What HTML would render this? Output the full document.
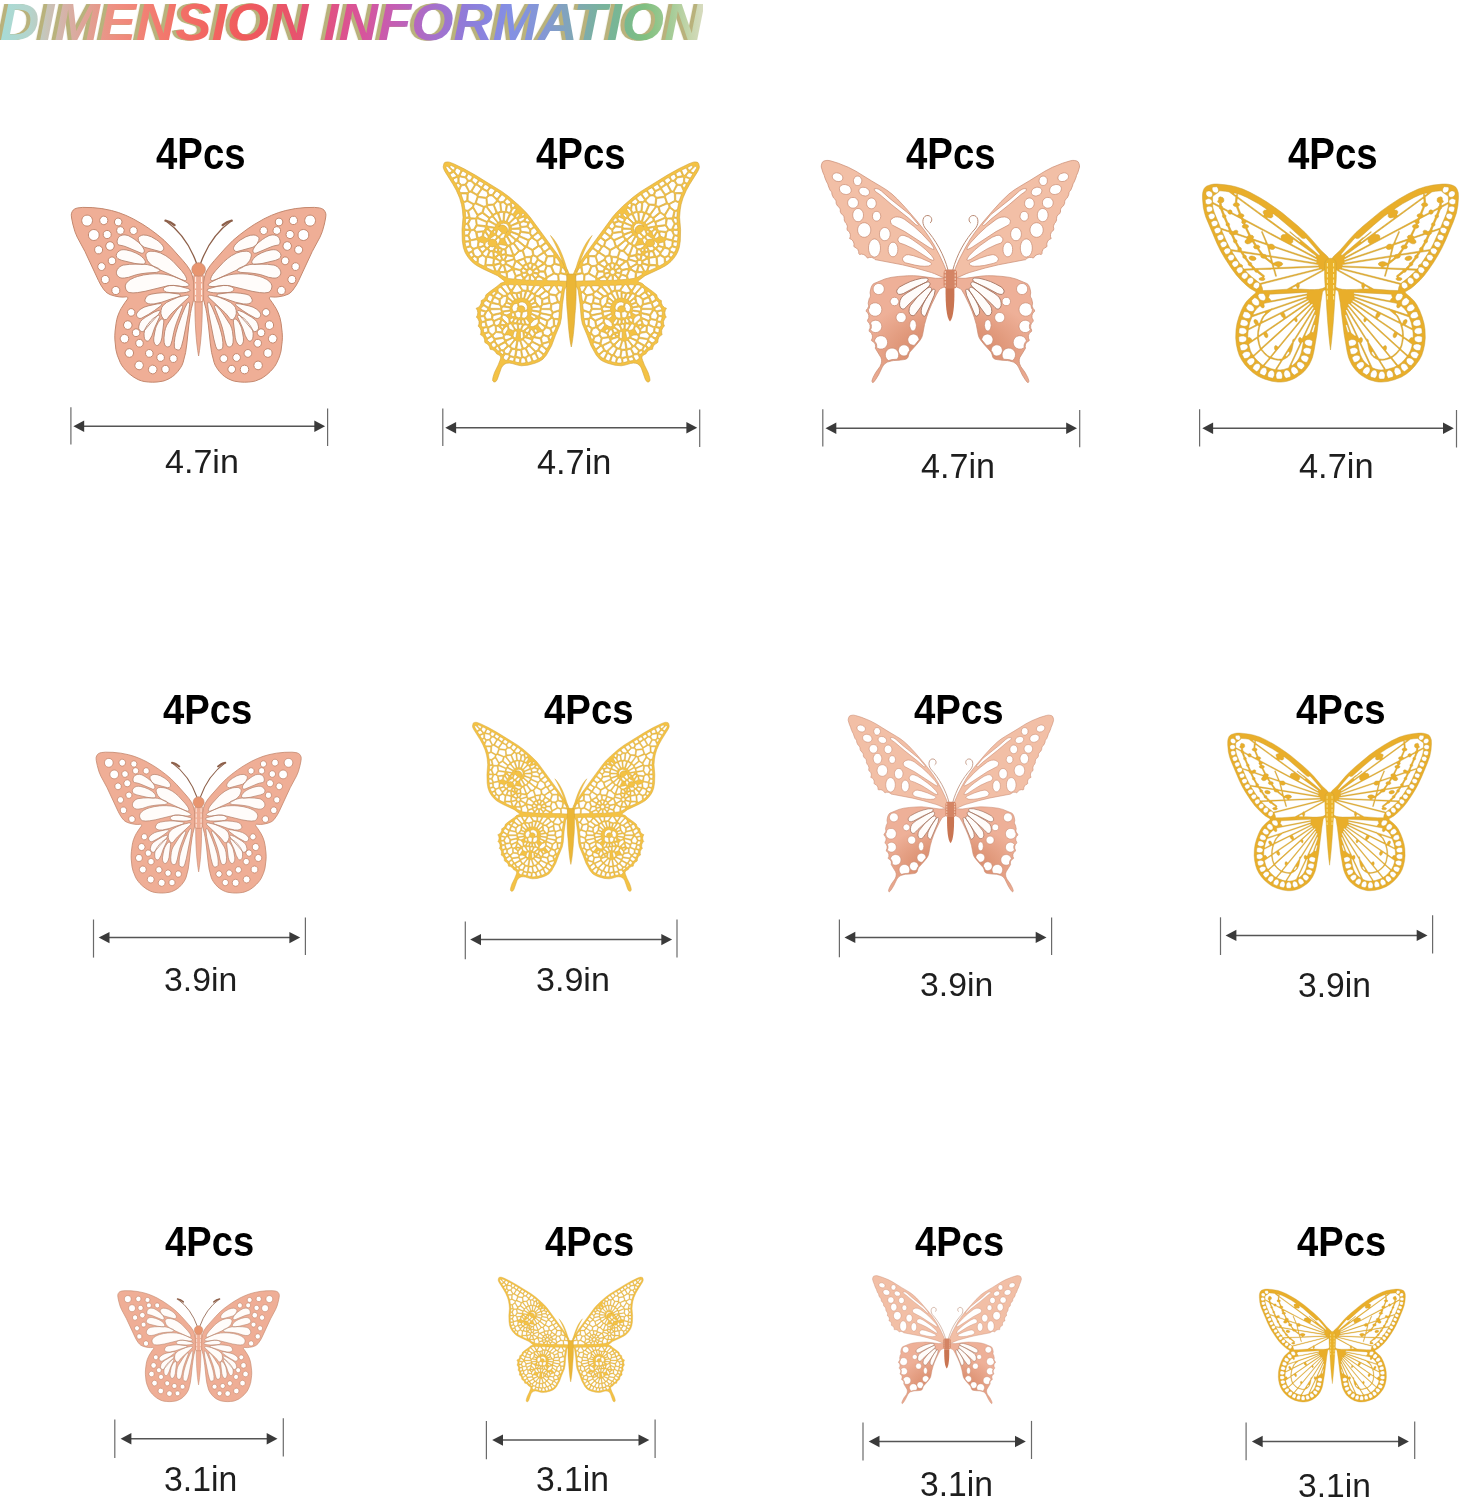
<!DOCTYPE html>
<html><head><meta charset="utf-8"><title>Dimension Information</title>
<style>
html,body{margin:0;padding:0;background:#fff;}
body{width:1462px;height:1500px;position:relative;overflow:hidden;}
.t{position:absolute;line-height:1;white-space:nowrap;transform-origin:0 0;font-family:"Liberation Sans",Arial,sans-serif;color:#000;}
.lab{color:#1e1e1e;}
svg{position:absolute;left:0;top:0;}
.tk{stroke:#6a6a6a;stroke-width:1.2;}
.ar{stroke:#555;stroke-width:1.5;}
.ah{fill:#3a3a3a;}
</style></head><body>

<div class="t" style="background:linear-gradient(90deg,#a6dcd6 0.0px,#b4d4cc 28.9px,#c8c4b8 45.2px,#d6b2a8 62.6px,#e49c8e 91.4px,#f08c7e 115.5px,#f27a6e 154.0px,#f26862 192.5px,#f05a5c 235.8px,#e8546a 279.1px,#e05284 317.6px,#d8549a 346.5px,#c45eb4 380.2px,#a470cc 418.7px,#8c7edc 454.3px,#8490e4 490.9px,#8498d4 524.5px,#80a8b4 553.4px,#78b29e 577.5px,#78b890 601.5px,#80c080 620.8px,#a6cc98 646.8px,#c6d6ac 664.1px,#dadcc2 678.5px);background-size:700px 100%;-webkit-background-clip:text;background-clip:text;color:transparent;-webkit-text-fill-color:transparent;filter:drop-shadow(-1.5px 0 0 #b9b27c) drop-shadow(-1.5px 0 0 #b9b27c);left:0.11px;top:-3.80px;font-weight:bold;font-style:italic;font-size:52.39px;transform:scaleX(1.0391);">DIMENSION INFORMATION</div>
<svg width="1462" height="1500" viewBox="0 0 1462 1500">
<line x1="70.9" y1="407.3" x2="70.9" y2="444.4" class="tk"/><line x1="327.6" y1="408.6" x2="327.6" y2="446.0" class="tk"/><line x1="83.2" y1="426.2" x2="315.3" y2="426.2" class="ar"/><path d="M73.4,426.2L84.2,420.5L84.2,431.9Z" class="ah"/><path d="M325.1,426.2L314.3,420.5L314.3,431.9Z" class="ah"/>
<line x1="442.8" y1="408.6" x2="442.8" y2="446.0" class="tk"/><line x1="699.7" y1="409.6" x2="699.7" y2="447.0" class="tk"/><line x1="455.1" y1="427.8" x2="687.4" y2="427.8" class="ar"/><path d="M445.3,427.8L456.1,422.1L456.1,433.5Z" class="ah"/><path d="M697.2,427.8L686.4,422.1L686.4,433.5Z" class="ah"/>
<line x1="822.8" y1="409.2" x2="822.8" y2="446.5" class="tk"/><line x1="1079.7" y1="410.0" x2="1079.7" y2="447.3" class="tk"/><line x1="835.3" y1="428.3" x2="1067.2" y2="428.3" class="ar"/><path d="M825.5,428.3L836.3,422.6L836.3,434.0Z" class="ah"/><path d="M1077.0,428.3L1066.2,422.6L1066.2,434.0Z" class="ah"/>
<line x1="1199.6" y1="409.2" x2="1199.6" y2="446.5" class="tk"/><line x1="1456.5" y1="410.0" x2="1456.5" y2="447.5" class="tk"/><line x1="1212.1" y1="428.3" x2="1444.0" y2="428.3" class="ar"/><path d="M1202.3,428.3L1213.1,422.6L1213.1,434.0Z" class="ah"/><path d="M1453.8,428.3L1443.0,422.6L1443.0,434.0Z" class="ah"/>
<line x1="93.5" y1="919.5" x2="93.5" y2="957.6" class="tk"/><line x1="305.4" y1="917.4" x2="305.4" y2="955.1" class="tk"/><line x1="108.5" y1="937.6" x2="290.4" y2="937.6" class="ar"/><path d="M98.7,937.6L109.5,931.9L109.5,943.3Z" class="ah"/><path d="M300.2,937.6L289.4,931.9L289.4,943.3Z" class="ah"/>
<line x1="465.3" y1="921.5" x2="465.3" y2="959.3" class="tk"/><line x1="677.0" y1="919.5" x2="677.0" y2="957.6" class="tk"/><line x1="480.0" y1="939.6" x2="662.3" y2="939.6" class="ar"/><path d="M470.2,939.6L481.0,933.9L481.0,945.3Z" class="ah"/><path d="M672.1,939.6L661.3,933.9L661.3,945.3Z" class="ah"/>
<line x1="839.4" y1="919.5" x2="839.4" y2="957.3" class="tk"/><line x1="1051.6" y1="917.4" x2="1051.6" y2="955.1" class="tk"/><line x1="854.3" y1="937.4" x2="1036.7" y2="937.4" class="ar"/><path d="M844.5,937.4L855.3,931.7L855.3,943.1Z" class="ah"/><path d="M1046.5,937.4L1035.7,931.7L1035.7,943.1Z" class="ah"/>
<line x1="1220.5" y1="917.3" x2="1220.5" y2="955.0" class="tk"/><line x1="1432.6" y1="915.2" x2="1432.6" y2="953.4" class="tk"/><line x1="1235.4" y1="935.4" x2="1417.7" y2="935.4" class="ar"/><path d="M1225.6,935.4L1236.4,929.7L1236.4,941.1Z" class="ah"/><path d="M1427.5,935.4L1416.7,929.7L1416.7,941.1Z" class="ah"/>
<line x1="114.8" y1="1419.6" x2="114.8" y2="1457.9" class="tk"/><line x1="283.3" y1="1418.2" x2="283.3" y2="1456.5" class="tk"/><line x1="130.4" y1="1438.7" x2="267.7" y2="1438.7" class="ar"/><path d="M120.6,1438.7L131.4,1433.0L131.4,1444.4Z" class="ah"/><path d="M277.5,1438.7L266.7,1433.0L266.7,1444.4Z" class="ah"/>
<line x1="486.4" y1="1420.9" x2="486.4" y2="1459.2" class="tk"/><line x1="655.1" y1="1419.6" x2="655.1" y2="1457.9" class="tk"/><line x1="502.0" y1="1440.1" x2="639.5" y2="1440.1" class="ar"/><path d="M492.2,1440.1L503.0,1434.4L503.0,1445.8Z" class="ah"/><path d="M649.3,1440.1L638.5,1434.4L638.5,1445.8Z" class="ah"/>
<line x1="863.0" y1="1422.6" x2="863.0" y2="1460.6" class="tk"/><line x1="1031.5" y1="1420.9" x2="1031.5" y2="1459.0" class="tk"/><line x1="878.5" y1="1441.5" x2="1016.0" y2="1441.5" class="ar"/><path d="M868.7,1441.5L879.5,1435.8L879.5,1447.2Z" class="ah"/><path d="M1025.8,1441.5L1015.0,1435.8L1015.0,1447.2Z" class="ah"/>
<line x1="1246.1" y1="1422.6" x2="1246.1" y2="1460.3" class="tk"/><line x1="1414.7" y1="1421.6" x2="1414.7" y2="1459.0" class="tk"/><line x1="1261.7" y1="1441.5" x2="1399.1" y2="1441.5" class="ar"/><path d="M1251.9,1441.5L1262.7,1435.8L1262.7,1447.2Z" class="ah"/><path d="M1408.9,1441.5L1398.1,1435.8L1398.1,1447.2Z" class="ah"/>
<g transform="translate(198.60,207.40) scale(1.0000)"><path transform="scale(0.1)" d="M-723 894l8 1 5 5 2 7-1 8-27 36-38 59-15 29-19 46-10 35-7 38-10 78-3 48 1 41 10 97 14 56 29 72 15 28 19 26 21 25 35 34 36 28 24 15 36 19 26 9 27 7 43 5 43 2 43-2 57-8 26-8 38-17 35-22 22-18 31-33 26-36 15-26 11-28 25-98 12-86 20-189 16-116 10-52 20-76 21-91-1-10-5-9-8-7-4-6 2-37-2-25-10-52-17-50-12-22-31-46-38-46-113-127-75-76-66-55-72-54-73-49-97-56-74-35-73-28-72-21-95-19-97-10-94-2-49 5-19 5-15 7-13 10-11 17-7 20-1 14 3 28 12 60 21 76 23 55 78 145 135 290 23 44 26 40 21 25 17 15 29 16 45 14 47 9 38 2zM-927 93l15 16 5 21-5 21-7 9-18 11-11 2-11-2-18-11-7-9-5-21 1-11 11-19 18-11 11-2zM-1088 84l11 9 9 11 5 14 2 14-2 14-5 14-9 11-11 9-13 5-14 2-14-2-13-5-11-9-9-11-5-14-2-14 2-14 5-14 9-11 11-9 13-5 14-2 14 2zM-785 112l8 6 10 18 1 10-5 20-14 14-9 4-10 1-19-5-8-6-10-18-1-10 5-20 14-14 9-4 10-1zM-755 203l10 18 1 10-5 20-6 8-8 6-19 5-19-5-8-6-6-8-5-20 5-20 6-8 8-6 19-5 19 5zM-904 231l19 11 10 18 0 22-4 10-6 8-19 11-20 0-10-4-9-7-10-18 0-22 4-10 6-8 19-11zM-1021 228l11 9 9 11 5 14 2 14-2 14-5 14-9 11-11 9-13 5-14 2-14-2-13-5-11-9-9-11-5-14-2-14 2-14 5-14 9-11 11-9 13-5 14-2 14 2zM-856 355l11 20 2 11-2 11-11 20-9 7-21 6-21-6-9-7-11-20-2-11 2-11 11-20 9-7 21-6 21 6zM-990 384l19 11 10 18 0 22-4 10-6 8-19 11-20 0-10-4-9-7-10-18 0-22 4-10 6-8 19-11zM-856 496l17 10 10 18 0 20-4 10-6 8-17 10-20 0-9-4-8-6-10-18 0-20 4-10 6-8 17-10zM-943 564l10 18 1 10-1 10-10 18-17 10-10 1-10-1-17-10-10-18-1-10 1-10 10-18 17-10 10-1 10 1zM-923 681l19 11 10 18 0 22-4 10-15 15-10 4-20 0-10-4-9-7-10-18 0-22 4-10 15-15 10-4zM-818 791l19 11 10 18 0 22-4 10-15 15-10 4-20 0-10-4-9-7-10-18 0-22 4-10 15-15 10-4zM-720 1275l16 16 6 22-6 22-7 9-9 7-21 6-21-6-9-7-11-20-2-11 2-11 11-20 9-7 21-6zM-632 198l8 6 10 18 0 20-4 10-14 14-9 4-10 1-19-5-8-6-10-18 0-20 4-10 14-14 9-4 10-1zM-664 1013l16 10 10 17 0 20-4 9-6 8-16 10-20 0-8-4-8-6-10-17 0-20 4-9 6-8 16-10zM-678 1146l11 20 2 11-2 11-11 20-9 7-21 6-21-6-9-7-11-20-2-11 2-11 11-20 9-7 21-6 21 6zM-615 1215l17 10 10 18 0 20-4 10-6 8-17 10-20 0-9-4-8-6-10-18 0-20 4-10 6-8 17-10zM-581 1320l17 10 10 18 0 20-4 10-6 8-17 10-20 0-9-4-8-6-10-18 0-20 4-10 6-8 17-10zM-672 1418l16 16 6 22-6 22-7 9-9 7-21 6-21-6-9-7-11-20-2-11 2-11 11-20 9-7 21-6zM-483 1422l17 10 10 18 0 20-4 10-6 8-17 10-20 0-9-4-8-6-10-18 0-20 4-10 6-8 17-10zM-370 1463l17 10 10 18 0 20-4 10-6 8-17 10-20 0-9-4-8-6-10-18 0-20 4-10 6-8 17-10zM-242 1474l17 10 10 18 0 20-4 10-6 8-17 10-20 0-9-4-8-6-10-18 0-20 4-10 6-8 17-10zM-574 1542l16 16 4 11 2 11-6 22-16 16-10 4-11 2-21-6-16-16-4-11-2-11 6-22 16-16 10-4 11-2zM-321 1580l17 10 10 18 0 20-4 10-6 8-17 10-20 0-9-4-8-6-10-18 0-20 4-10 6-8 17-10zM-438 1583l16 16 4 11 2 11-6 22-16 16-10 4-11 2-21-6-16-16-4-11-2-11 6-22 16-16 10-4 11-2zM718 894l50 3 36-4 47-9 44-16 19-12 24-22 40-58 23-44 135-290 78-145 23-55 21-76 12-60 3-28-1-14-7-20-11-17-13-10-15-7-19-5-49-5-94 2-97 10-95 19-72 21-73 28-74 35-97 56-73 49-72 54-66 55-75 76-113 127-38 46-31 46-12 22-17 50-10 52-2 25 2 37-4 6-8 7-5 9-1 10 21 91 20 76 10 52 16 116 20 189 12 86 25 98 11 28 15 26 26 36 31 33 22 18 35 22 38 17 26 8 57 8 43 2 43-2 43-5 27-7 51-21 24-14 35-26 36-33 22-24 20-25 17-27 26-57 14-43 7-28 12-97 2-41-2-45-11-95-12-56-17-48-22-44-38-59-27-36-1-9 3-7zM937 89l22 0 10 4 8 7 11 19 0 22-4 10-7 9-18 11-22 0-10-4-15-16-4-10-1-11 5-21 15-16zM1115 77l14 2 13 5 11 9 9 11 5 14 2 14-2 14-5 14-9 11-11 9-13 5-14 2-14-2-13-5-11-9-9-11-5-14-2-14 2-14 5-14 9-11 11-9 13-5zM804 107l19 5 8 6 10 18 1 10-1 10-10 18-8 6-19 5-10-1-17-10-6-8-5-20 5-20 6-8 17-10zM763 197l19-5 19 5 8 6 10 18 0 20-4 10-6 8-17 10-10 1-19-5-14-14-4-10-1-10 5-20zM904 231l20 0 19 11 10 18 1 11-1 11-10 18-19 11-10 1-10-1-19-11-6-8-5-21 5-21 6-8zM1048 221l14 2 13 5 11 9 9 11 5 14 2 14-2 14-5 14-9 11-11 9-13 5-14 2-14-2-13-5-11-9-9-11-5-14-2-14 2-14 5-14 9-11 11-9 13-5zM875 344l11-2 21 6 9 7 11 20 2 11-6 22-7 9-19 11-11 2-21-6-9-7-11-20-2-11 6-22 7-9zM990 384l20 0 19 11 10 18 1 11-1 11-10 18-19 11-10 1-10-1-19-11-6-8-5-21 5-21 6-8zM856 496l20 0 17 10 6 8 5 20-5 20-6 8-17 10-10 1-10-1-17-10-6-8-5-20 5-20 6-8zM960 554l20 0 9 4 14 14 4 10 1 10-5 20-14 14-9 4-20 0-9-4-8-6-10-18 0-20 4-10 6-8zM933 680l10 1 19 11 6 8 5 21-5 21-6 8-9 7-20 5-20-5-9-7-10-18-1-11 1-11 10-18 9-7zM828 790l10 1 19 11 6 8 5 21-5 21-6 8-9 7-20 5-20-5-9-7-10-18-1-11 1-11 10-18 9-7zM730 1271l11-2 21 6 9 7 11 20 2 11-6 22-7 9-19 11-11 2-21-6-16-16-4-11-2-11 6-22 7-9zM641 194l20 0 17 10 6 8 5 20-5 20-6 8-17 10-10 1-10-1-17-10-6-8-5-20 5-20 6-8zM664 1013l20 0 16 10 10 17 1 10-1 10-10 17-16 10-10 1-10-1-16-10-10-17-1-10 1-10 10-17zM687 1139l21-6 21 6 9 7 11 20 0 22-4 11-16 16-10 4-11 2-21-6-16-16-4-11 0-22 4-11zM615 1215l20 0 17 10 6 8 5 20-5 20-6 8-17 10-10 1-10-1-17-10-10-18-1-10 1-10 10-18zM581 1320l20 0 17 10 6 8 5 20-5 20-6 8-17 10-10 1-10-1-17-10-10-18-1-10 1-10 10-18zM672 1418l21-6 21 6 16 16 4 11 0 22-4 11-16 16-10 4-11 2-21-6-16-16-4-11 0-22 4-11zM483 1422l20 0 17 10 10 18 1 10-1 10-10 18-17 10-10 1-10-1-17-10-10-18-1-10 1-10 10-18zM370 1463l20 0 17 10 10 18 1 10-1 10-10 18-17 10-10 1-10-1-17-10-10-18-1-10 1-10 10-18zM242 1474l20 0 17 10 10 18 1 10-1 10-10 18-17 10-10 1-10-1-17-10-10-18-1-10 1-10 10-18zM595 1536l21 6 9 7 7 9 6 22-6 22-7 9-9 7-21 6-21-6-9-7-7-9-6-22 6-22 7-9 9-7zM321 1580l20 0 17 10 10 18 1 10-1 10-10 18-17 10-10 1-10-1-17-10-10-18-1-10 1-10 10-18zM459 1577l21 6 9 7 7 9 6 22-6 22-7 9-9 7-21 6-21-6-9-7-7-9-6-22 6-22 7-9 9-7z" fill="#efae96" stroke="#c4886e" stroke-width="10" fill-rule="evenodd"/><path transform="scale(0.1)" d="M-813 328l-2 15 2 15 7 13 9 5 44 9 32 11 147 62 16 0 9-5 5-7 1-13-4-15-14-24-18-23-23-22-36-28-29-19-38-21-31-6-21 1-20 6-15 8-7 8-9 14zM813 328l2 15-2 15-7 13-9 5-44 9-32 11-147 62-16 0-9-5-5-7-1-13 4-15 14-24 18-23 23-22 36-28 29-19 38-21 31-6 21 1 20 6 15 8 7 8 9 14zM-604 309l2 20 18 35 18 19 22 15 161 44 17-4 13-13 4-14-1-10-8-17-14-19-26-24-21-16-54-31-43-15-37-3-16 3-21 10-11 12zM604 309l-2 20-18 35-18 19-22 15-161 44-17-4-13-13-4-14 1-10 8-17 14-19 26-24 21-16 54-31 43-15 37-3 16 3 21 10 11 12zM-819 462l-5 18 6 20 10 10 13 9 28 11 123 29 63 11 29 0 12-6 6-8 2-13-6-15-11-16-24-23-19-14-33-18-50-20-49-12-23-2-20 1-11 3-17 9-14 12zM819 462l5 18-6 20-10 10-13 9-28 11-123 29-63 11-29 0-12-6-6-8-2-13 6-15 11-16 24-23 19-14 33-18 50-20 49-12 23-2 20 1 11 3 17 9 14 12zM-523 461l-4 12 0 12 7 26 10 23 30 35 33 25 25 14 241 110 41 14 9 0 8-5 3-8-1-8-8-20-12-21-29-37-84-91-35-30-38-28-52-27-37-12-26-5-35-2-19 2-14 7zM523 461l4 12 0 12-7 26-10 23-30 35-33 25-25 14-241 110-41 14-9 0-8-5-3-8 1-8 8-20 12-21 29-37 84-91 35-30 38-28 52-27 37-12 26-5 35-2 19 2 14 7zM-813 622l-7 16-2 16 1 10 6 14 19 20 19 7 12 2 24-1 41-7 78-26 45-9 61-8 94-6 26-8 7-5 3-8-2-9-14-11-51-22-59-15-35-4-40-2-102 3-63 8-14 4-21 12-15 13zM813 622l7 16 2 16-1 10-6 14-19 20-19 7-12 2-24-1-41-7-78-26-45-9-61-8-94-6-26-8-7-5-3-8 2-9 14-11 51-22 59-15 35-4 40-2 102 3 63 8 14 4 21 12 15 13zM-733 784l0 12 5 22 14 21 9 8 11 4 38 4 46-3 75-13 205-50 40-8 41-1 85 11 30 1 30-5 6-6 2-5-1-8-8-7-24-16-60-30-63-25-46-13-47-9-56-4-43 0-43 3-65 9-59 15-32 11-39 19-22 16-22 26zM733 784l0 12-5 22-14 21-9 8-11 4-38 4-46-3-75-13-205-50-40-8-41-1-85 11-30 1-30-5-6-6-2-5 1-8 8-7 24-16 60-30 63-25 46-13 47-9 56-4 43 0 43 3 65 9 59 15 32 11 39 19 22 16 22 26zM-351 811l-1 9 2 7 12 13 16 7 37 5 93 3 46-2 26-4 22-7 9-5 4-9-5-9-19-8-85-23-54-7-42 1-23 4-27 14zM351 811l1 9-2 7-12 13-16 7-37 5-93 3-46-2-26-4-22-7-9-5-4-9 5-9 19-8 85-23 54-7 42 1 23 4 27 14zM-535 921l-1 13 3 8 5 6 11 9 15 6 19 3 37-1 78-17 90-31 71-21 23-10 3-10-4-6-14-4-94-12-62-1-61 5-59 10-24 8-11 7-14 15zM535 921l1 13-3 8-5 6-11 9-15 6-19 3-37-1-78-17-90-31-71-21-23-10-3-10 4-6 14-4 94-12 62-1 61 5 59 10 24 8 11 7 14 15zM-621 1078l6 15 11 12 7 4 11 2 17-4 69-38 58-37 64-48 8-9 0-7-9-6-35 3-91 20-40 13-32 18-25 20-15 21-4 13zM621 1078l-6 15-11 12-7 4-11 2-17-4-69-38-58-37-64-48-8-9 0-7 9-6 35 3 91 20 40 13 32 18 25 20 15 21 4 13zM-377 1060l7 27 16 26 10 8 7 2 16-3 8-7 30-39 18-20 163-152 6-10-1-9-4-3-9-2-15 1-78 18-69 30-48 24-32 27-16 23-8 29zM377 1060l-7 27-16 26-10 8-7 2-16-3-8-7-30-39-18-20-163-152-6-10 1-9 4-3 9-2 15 1 78 18 69 30 48 24 32 27 16 23 8 29zM-598 1214l9 15 15 11 15 2 14-7 68-81 42-45 34-40 15-25 0-5-3-5-5-3-14 2-38 15-84 50-33 24-17 19-12 23-7 31zM598 1214l-9 15-15 11-15 2-14-7-68-81-42-45-34-40-15-25 0-5 3-5 5-3 14 2 38 15 84 50 33 24 17 19 12 23 7 31zM-544 1295l3 15 6 12 7 9 9 5 11 1 6-2 16-16 19-36 27-79 47-102 4-11-1-7-3-4-9-2-11 5-43 29-24 24-29 36-21 33-10 23-6 36zM544 1295l-3 15-6 12-7 9-9 5-11 1-6-2-16-16-19-36-27-79-47-102-4-11 1-7 3-4 9-2 11 5 43 29 24 24 29 36 21 33 10 23 6 36zM-449 1326l2 18 8 21 8 10 11 6 12-1 12-9 11-15 9-18 9-33 19-158-1-19-3-6-6-4-13-1-14 9-19 26-18 35-8 23-10 46-8 47zM449 1326l-2 18-8 21-8 10-11 6-12-1-12-9-11-15-9-18-9-33-19-158 1-19 3-6 6-4 13-1 14 9 19 26 18 35 8 23 10 46 8 47zM-345 1349l7 27 9 11 10 6 9 2 14-2 12-8 5-8 15-50 15-75 11-45 19-59 57-145 3-12-1-7-4-4-9 0-8 6-37 41-35 49-65 101-13 32-8 34-7 61zM345 1349l-7 27-9 11-10 6-9 2-14-2-12-8-5-8-15-50-15-75-11-45-19-59-57-145-3-12 1-7 4-4 9 0 8 6 37 41 35 49 65 101 13 32 8 34 7 61zM-242 1395l4 15 6 6 17 8 13 2 12-4 7-6 12-27 19-73 53-269 9-77-2-17-5-5-9 1-6 7-26 50-31 75-36 99-22 76-10 46-6 50zM242 1395l-4 15-6 6-17 8-13 2-12-4-7-6-12-27-19-73-53-269-9-77 2-17 5-5 9 1 6 7 26 50 31 75 36 99 22 76 10 46 6 50z" fill="#fffcfa" stroke="#b38069" stroke-width="8.5"/><path d="M-1.8,56.6Q-11.6,28.6 -32.6,13.6M1.8,56.6Q11.6,28.6 32.6,13.6" fill="none" stroke="#8d604a" stroke-width="1.3"/><path d="M-33.1,13.2q5,0.8 9,4.5M33.1,13.2q-5,0.8 -9,4.5" fill="none" stroke="#8d604a" stroke-width="2.4" stroke-linecap="round"/><path d="M-3.6,90.6C-4.0,112.6 -2.6,134.6 0.0,148.6C2.6,134.6 4.0,112.6 3.6,90.6Z" fill="#efae96" stroke="#c4886e" stroke-width="0.7"/><rect x="-5.0" y="66.6" width="10" height="28" rx="3" fill="#efae96" stroke="#c4886e" stroke-width="0.7"/><line x1="-3.0" y1="69.6" x2="-3.0" y2="93.6" stroke="#fff4ec" stroke-width="1" stroke-dasharray="5 1.5"/><line x1="3.0" y1="69.6" x2="3.0" y2="93.6" stroke="#fff4ec" stroke-width="1" stroke-dasharray="5 1.5"/><circle cx="0.0" cy="62.1" r="6.8" fill="#e8956f" stroke="#c4886e" stroke-width="0.7"/></g>
<g transform="translate(198.65,752.18) scale(0.8057)"><path transform="scale(0.1)" d="M-723 894l8 1 5 5 2 7-1 8-27 36-38 59-15 29-19 46-10 35-7 38-10 78-3 48 1 41 10 97 14 56 29 72 15 28 19 26 21 25 35 34 36 28 24 15 36 19 26 9 27 7 43 5 43 2 43-2 57-8 26-8 38-17 35-22 22-18 31-33 26-36 15-26 11-28 25-98 12-86 20-189 16-116 10-52 20-76 21-91-1-10-5-9-8-7-4-6 2-37-2-25-10-52-17-50-12-22-31-46-38-46-113-127-75-76-66-55-72-54-73-49-97-56-74-35-73-28-72-21-95-19-97-10-94-2-49 5-19 5-15 7-13 10-11 17-7 20-1 14 3 28 12 60 21 76 23 55 78 145 135 290 23 44 26 40 21 25 17 15 29 16 45 14 47 9 38 2zM-927 93l15 16 5 21-5 21-7 9-18 11-11 2-11-2-18-11-7-9-5-21 1-11 11-19 18-11 11-2zM-1088 84l11 9 9 11 5 14 2 14-2 14-5 14-9 11-11 9-13 5-14 2-14-2-13-5-11-9-9-11-5-14-2-14 2-14 5-14 9-11 11-9 13-5 14-2 14 2zM-785 112l8 6 10 18 1 10-5 20-14 14-9 4-10 1-19-5-8-6-10-18-1-10 5-20 14-14 9-4 10-1zM-755 203l10 18 1 10-5 20-6 8-8 6-19 5-19-5-8-6-6-8-5-20 5-20 6-8 8-6 19-5 19 5zM-904 231l19 11 10 18 0 22-4 10-6 8-19 11-20 0-10-4-9-7-10-18 0-22 4-10 6-8 19-11zM-1021 228l11 9 9 11 5 14 2 14-2 14-5 14-9 11-11 9-13 5-14 2-14-2-13-5-11-9-9-11-5-14-2-14 2-14 5-14 9-11 11-9 13-5 14-2 14 2zM-856 355l11 20 2 11-2 11-11 20-9 7-21 6-21-6-9-7-11-20-2-11 2-11 11-20 9-7 21-6 21 6zM-990 384l19 11 10 18 0 22-4 10-6 8-19 11-20 0-10-4-9-7-10-18 0-22 4-10 6-8 19-11zM-856 496l17 10 10 18 0 20-4 10-6 8-17 10-20 0-9-4-8-6-10-18 0-20 4-10 6-8 17-10zM-943 564l10 18 1 10-1 10-10 18-17 10-10 1-10-1-17-10-10-18-1-10 1-10 10-18 17-10 10-1 10 1zM-923 681l19 11 10 18 0 22-4 10-15 15-10 4-20 0-10-4-9-7-10-18 0-22 4-10 15-15 10-4zM-818 791l19 11 10 18 0 22-4 10-15 15-10 4-20 0-10-4-9-7-10-18 0-22 4-10 15-15 10-4zM-720 1275l16 16 6 22-6 22-7 9-9 7-21 6-21-6-9-7-11-20-2-11 2-11 11-20 9-7 21-6zM-632 198l8 6 10 18 0 20-4 10-14 14-9 4-10 1-19-5-8-6-10-18 0-20 4-10 14-14 9-4 10-1zM-664 1013l16 10 10 17 0 20-4 9-6 8-16 10-20 0-8-4-8-6-10-17 0-20 4-9 6-8 16-10zM-678 1146l11 20 2 11-2 11-11 20-9 7-21 6-21-6-9-7-11-20-2-11 2-11 11-20 9-7 21-6 21 6zM-615 1215l17 10 10 18 0 20-4 10-6 8-17 10-20 0-9-4-8-6-10-18 0-20 4-10 6-8 17-10zM-581 1320l17 10 10 18 0 20-4 10-6 8-17 10-20 0-9-4-8-6-10-18 0-20 4-10 6-8 17-10zM-672 1418l16 16 6 22-6 22-7 9-9 7-21 6-21-6-9-7-11-20-2-11 2-11 11-20 9-7 21-6zM-483 1422l17 10 10 18 0 20-4 10-6 8-17 10-20 0-9-4-8-6-10-18 0-20 4-10 6-8 17-10zM-370 1463l17 10 10 18 0 20-4 10-6 8-17 10-20 0-9-4-8-6-10-18 0-20 4-10 6-8 17-10zM-242 1474l17 10 10 18 0 20-4 10-6 8-17 10-20 0-9-4-8-6-10-18 0-20 4-10 6-8 17-10zM-574 1542l16 16 4 11 2 11-6 22-16 16-10 4-11 2-21-6-16-16-4-11-2-11 6-22 16-16 10-4 11-2zM-321 1580l17 10 10 18 0 20-4 10-6 8-17 10-20 0-9-4-8-6-10-18 0-20 4-10 6-8 17-10zM-438 1583l16 16 4 11 2 11-6 22-16 16-10 4-11 2-21-6-16-16-4-11-2-11 6-22 16-16 10-4 11-2zM718 894l50 3 36-4 47-9 44-16 19-12 24-22 40-58 23-44 135-290 78-145 23-55 21-76 12-60 3-28-1-14-7-20-11-17-13-10-15-7-19-5-49-5-94 2-97 10-95 19-72 21-73 28-74 35-97 56-73 49-72 54-66 55-75 76-113 127-38 46-31 46-12 22-17 50-10 52-2 25 2 37-4 6-8 7-5 9-1 10 21 91 20 76 10 52 16 116 20 189 12 86 25 98 11 28 15 26 26 36 31 33 22 18 35 22 38 17 26 8 57 8 43 2 43-2 43-5 27-7 51-21 24-14 35-26 36-33 22-24 20-25 17-27 26-57 14-43 7-28 12-97 2-41-2-45-11-95-12-56-17-48-22-44-38-59-27-36-1-9 3-7zM937 89l22 0 10 4 8 7 11 19 0 22-4 10-7 9-18 11-22 0-10-4-15-16-4-10-1-11 5-21 15-16zM1115 77l14 2 13 5 11 9 9 11 5 14 2 14-2 14-5 14-9 11-11 9-13 5-14 2-14-2-13-5-11-9-9-11-5-14-2-14 2-14 5-14 9-11 11-9 13-5zM804 107l19 5 8 6 10 18 1 10-1 10-10 18-8 6-19 5-10-1-17-10-6-8-5-20 5-20 6-8 17-10zM763 197l19-5 19 5 8 6 10 18 0 20-4 10-6 8-17 10-10 1-19-5-14-14-4-10-1-10 5-20zM904 231l20 0 19 11 10 18 1 11-1 11-10 18-19 11-10 1-10-1-19-11-6-8-5-21 5-21 6-8zM1048 221l14 2 13 5 11 9 9 11 5 14 2 14-2 14-5 14-9 11-11 9-13 5-14 2-14-2-13-5-11-9-9-11-5-14-2-14 2-14 5-14 9-11 11-9 13-5zM875 344l11-2 21 6 9 7 11 20 2 11-6 22-7 9-19 11-11 2-21-6-9-7-11-20-2-11 6-22 7-9zM990 384l20 0 19 11 10 18 1 11-1 11-10 18-19 11-10 1-10-1-19-11-6-8-5-21 5-21 6-8zM856 496l20 0 17 10 6 8 5 20-5 20-6 8-17 10-10 1-10-1-17-10-6-8-5-20 5-20 6-8zM960 554l20 0 9 4 14 14 4 10 1 10-5 20-14 14-9 4-20 0-9-4-8-6-10-18 0-20 4-10 6-8zM933 680l10 1 19 11 6 8 5 21-5 21-6 8-9 7-20 5-20-5-9-7-10-18-1-11 1-11 10-18 9-7zM828 790l10 1 19 11 6 8 5 21-5 21-6 8-9 7-20 5-20-5-9-7-10-18-1-11 1-11 10-18 9-7zM730 1271l11-2 21 6 9 7 11 20 2 11-6 22-7 9-19 11-11 2-21-6-16-16-4-11-2-11 6-22 7-9zM641 194l20 0 17 10 6 8 5 20-5 20-6 8-17 10-10 1-10-1-17-10-6-8-5-20 5-20 6-8zM664 1013l20 0 16 10 10 17 1 10-1 10-10 17-16 10-10 1-10-1-16-10-10-17-1-10 1-10 10-17zM687 1139l21-6 21 6 9 7 11 20 0 22-4 11-16 16-10 4-11 2-21-6-16-16-4-11 0-22 4-11zM615 1215l20 0 17 10 6 8 5 20-5 20-6 8-17 10-10 1-10-1-17-10-10-18-1-10 1-10 10-18zM581 1320l20 0 17 10 6 8 5 20-5 20-6 8-17 10-10 1-10-1-17-10-10-18-1-10 1-10 10-18zM672 1418l21-6 21 6 16 16 4 11 0 22-4 11-16 16-10 4-11 2-21-6-16-16-4-11 0-22 4-11zM483 1422l20 0 17 10 10 18 1 10-1 10-10 18-17 10-10 1-10-1-17-10-10-18-1-10 1-10 10-18zM370 1463l20 0 17 10 10 18 1 10-1 10-10 18-17 10-10 1-10-1-17-10-10-18-1-10 1-10 10-18zM242 1474l20 0 17 10 10 18 1 10-1 10-10 18-17 10-10 1-10-1-17-10-10-18-1-10 1-10 10-18zM595 1536l21 6 9 7 7 9 6 22-6 22-7 9-9 7-21 6-21-6-9-7-7-9-6-22 6-22 7-9 9-7zM321 1580l20 0 17 10 10 18 1 10-1 10-10 18-17 10-10 1-10-1-17-10-10-18-1-10 1-10 10-18zM459 1577l21 6 9 7 7 9 6 22-6 22-7 9-9 7-21 6-21-6-9-7-7-9-6-22 6-22 7-9 9-7z" fill="#efae96" stroke="#c4886e" stroke-width="10" fill-rule="evenodd"/><path transform="scale(0.1)" d="M-813 328l-2 15 2 15 7 13 9 5 44 9 32 11 147 62 16 0 9-5 5-7 1-13-4-15-14-24-18-23-23-22-36-28-29-19-38-21-31-6-21 1-20 6-15 8-7 8-9 14zM813 328l2 15-2 15-7 13-9 5-44 9-32 11-147 62-16 0-9-5-5-7-1-13 4-15 14-24 18-23 23-22 36-28 29-19 38-21 31-6 21 1 20 6 15 8 7 8 9 14zM-604 309l2 20 18 35 18 19 22 15 161 44 17-4 13-13 4-14-1-10-8-17-14-19-26-24-21-16-54-31-43-15-37-3-16 3-21 10-11 12zM604 309l-2 20-18 35-18 19-22 15-161 44-17-4-13-13-4-14 1-10 8-17 14-19 26-24 21-16 54-31 43-15 37-3 16 3 21 10 11 12zM-819 462l-5 18 6 20 10 10 13 9 28 11 123 29 63 11 29 0 12-6 6-8 2-13-6-15-11-16-24-23-19-14-33-18-50-20-49-12-23-2-20 1-11 3-17 9-14 12zM819 462l5 18-6 20-10 10-13 9-28 11-123 29-63 11-29 0-12-6-6-8-2-13 6-15 11-16 24-23 19-14 33-18 50-20 49-12 23-2 20 1 11 3 17 9 14 12zM-523 461l-4 12 0 12 7 26 10 23 30 35 33 25 25 14 241 110 41 14 9 0 8-5 3-8-1-8-8-20-12-21-29-37-84-91-35-30-38-28-52-27-37-12-26-5-35-2-19 2-14 7zM523 461l4 12 0 12-7 26-10 23-30 35-33 25-25 14-241 110-41 14-9 0-8-5-3-8 1-8 8-20 12-21 29-37 84-91 35-30 38-28 52-27 37-12 26-5 35-2 19 2 14 7zM-813 622l-7 16-2 16 1 10 6 14 19 20 19 7 12 2 24-1 41-7 78-26 45-9 61-8 94-6 26-8 7-5 3-8-2-9-14-11-51-22-59-15-35-4-40-2-102 3-63 8-14 4-21 12-15 13zM813 622l7 16 2 16-1 10-6 14-19 20-19 7-12 2-24-1-41-7-78-26-45-9-61-8-94-6-26-8-7-5-3-8 2-9 14-11 51-22 59-15 35-4 40-2 102 3 63 8 14 4 21 12 15 13zM-733 784l0 12 5 22 14 21 9 8 11 4 38 4 46-3 75-13 205-50 40-8 41-1 85 11 30 1 30-5 6-6 2-5-1-8-8-7-24-16-60-30-63-25-46-13-47-9-56-4-43 0-43 3-65 9-59 15-32 11-39 19-22 16-22 26zM733 784l0 12-5 22-14 21-9 8-11 4-38 4-46-3-75-13-205-50-40-8-41-1-85 11-30 1-30-5-6-6-2-5 1-8 8-7 24-16 60-30 63-25 46-13 47-9 56-4 43 0 43 3 65 9 59 15 32 11 39 19 22 16 22 26zM-351 811l-1 9 2 7 12 13 16 7 37 5 93 3 46-2 26-4 22-7 9-5 4-9-5-9-19-8-85-23-54-7-42 1-23 4-27 14zM351 811l1 9-2 7-12 13-16 7-37 5-93 3-46-2-26-4-22-7-9-5-4-9 5-9 19-8 85-23 54-7 42 1 23 4 27 14zM-535 921l-1 13 3 8 5 6 11 9 15 6 19 3 37-1 78-17 90-31 71-21 23-10 3-10-4-6-14-4-94-12-62-1-61 5-59 10-24 8-11 7-14 15zM535 921l1 13-3 8-5 6-11 9-15 6-19 3-37-1-78-17-90-31-71-21-23-10-3-10 4-6 14-4 94-12 62-1 61 5 59 10 24 8 11 7 14 15zM-621 1078l6 15 11 12 7 4 11 2 17-4 69-38 58-37 64-48 8-9 0-7-9-6-35 3-91 20-40 13-32 18-25 20-15 21-4 13zM621 1078l-6 15-11 12-7 4-11 2-17-4-69-38-58-37-64-48-8-9 0-7 9-6 35 3 91 20 40 13 32 18 25 20 15 21 4 13zM-377 1060l7 27 16 26 10 8 7 2 16-3 8-7 30-39 18-20 163-152 6-10-1-9-4-3-9-2-15 1-78 18-69 30-48 24-32 27-16 23-8 29zM377 1060l-7 27-16 26-10 8-7 2-16-3-8-7-30-39-18-20-163-152-6-10 1-9 4-3 9-2 15 1 78 18 69 30 48 24 32 27 16 23 8 29zM-598 1214l9 15 15 11 15 2 14-7 68-81 42-45 34-40 15-25 0-5-3-5-5-3-14 2-38 15-84 50-33 24-17 19-12 23-7 31zM598 1214l-9 15-15 11-15 2-14-7-68-81-42-45-34-40-15-25 0-5 3-5 5-3 14 2 38 15 84 50 33 24 17 19 12 23 7 31zM-544 1295l3 15 6 12 7 9 9 5 11 1 6-2 16-16 19-36 27-79 47-102 4-11-1-7-3-4-9-2-11 5-43 29-24 24-29 36-21 33-10 23-6 36zM544 1295l-3 15-6 12-7 9-9 5-11 1-6-2-16-16-19-36-27-79-47-102-4-11 1-7 3-4 9-2 11 5 43 29 24 24 29 36 21 33 10 23 6 36zM-449 1326l2 18 8 21 8 10 11 6 12-1 12-9 11-15 9-18 9-33 19-158-1-19-3-6-6-4-13-1-14 9-19 26-18 35-8 23-10 46-8 47zM449 1326l-2 18-8 21-8 10-11 6-12-1-12-9-11-15-9-18-9-33-19-158 1-19 3-6 6-4 13-1 14 9 19 26 18 35 8 23 10 46 8 47zM-345 1349l7 27 9 11 10 6 9 2 14-2 12-8 5-8 15-50 15-75 11-45 19-59 57-145 3-12-1-7-4-4-9 0-8 6-37 41-35 49-65 101-13 32-8 34-7 61zM345 1349l-7 27-9 11-10 6-9 2-14-2-12-8-5-8-15-50-15-75-11-45-19-59-57-145-3-12 1-7 4-4 9 0 8 6 37 41 35 49 65 101 13 32 8 34 7 61zM-242 1395l4 15 6 6 17 8 13 2 12-4 7-6 12-27 19-73 53-269 9-77-2-17-5-5-9 1-6 7-26 50-31 75-36 99-22 76-10 46-6 50zM242 1395l-4 15-6 6-17 8-13 2-12-4-7-6-12-27-19-73-53-269-9-77 2-17 5-5 9 1 6 7 26 50 31 75 36 99 22 76 10 46 6 50z" fill="#fffcfa" stroke="#b38069" stroke-width="8.5"/><path d="M-1.8,56.6Q-11.6,28.6 -32.6,13.6M1.8,56.6Q11.6,28.6 32.6,13.6" fill="none" stroke="#8d604a" stroke-width="1.3"/><path d="M-33.1,13.2q5,0.8 9,4.5M33.1,13.2q-5,0.8 -9,4.5" fill="none" stroke="#8d604a" stroke-width="2.4" stroke-linecap="round"/><path d="M-3.6,90.6C-4.0,112.6 -2.6,134.6 0.0,148.6C2.6,134.6 4.0,112.6 3.6,90.6Z" fill="#efae96" stroke="#c4886e" stroke-width="0.7"/><rect x="-5.0" y="66.6" width="10" height="28" rx="3" fill="#efae96" stroke="#c4886e" stroke-width="0.7"/><line x1="-3.0" y1="69.6" x2="-3.0" y2="93.6" stroke="#fff4ec" stroke-width="1" stroke-dasharray="5 1.5"/><line x1="3.0" y1="69.6" x2="3.0" y2="93.6" stroke="#fff4ec" stroke-width="1" stroke-dasharray="5 1.5"/><circle cx="0.0" cy="62.1" r="6.8" fill="#e8956f" stroke="#c4886e" stroke-width="0.7"/></g>
<g transform="translate(198.55,1290.68) scale(0.6347)"><path transform="scale(0.1)" d="M-723 894l8 1 5 5 2 7-1 8-27 36-38 59-15 29-19 46-10 35-7 38-10 78-3 48 1 41 10 97 14 56 29 72 15 28 19 26 21 25 35 34 36 28 24 15 36 19 26 9 27 7 43 5 43 2 43-2 57-8 26-8 38-17 35-22 22-18 31-33 26-36 15-26 11-28 25-98 12-86 20-189 16-116 10-52 20-76 21-91-1-10-5-9-8-7-4-6 2-37-2-25-10-52-17-50-12-22-31-46-38-46-113-127-75-76-66-55-72-54-73-49-97-56-74-35-73-28-72-21-95-19-97-10-94-2-49 5-19 5-15 7-13 10-11 17-7 20-1 14 3 28 12 60 21 76 23 55 78 145 135 290 23 44 26 40 21 25 17 15 29 16 45 14 47 9 38 2zM-927 93l15 16 5 21-5 21-7 9-18 11-11 2-11-2-18-11-7-9-5-21 1-11 11-19 18-11 11-2zM-1088 84l11 9 9 11 5 14 2 14-2 14-5 14-9 11-11 9-13 5-14 2-14-2-13-5-11-9-9-11-5-14-2-14 2-14 5-14 9-11 11-9 13-5 14-2 14 2zM-785 112l8 6 10 18 1 10-5 20-14 14-9 4-10 1-19-5-8-6-10-18-1-10 5-20 14-14 9-4 10-1zM-755 203l10 18 1 10-5 20-6 8-8 6-19 5-19-5-8-6-6-8-5-20 5-20 6-8 8-6 19-5 19 5zM-904 231l19 11 10 18 0 22-4 10-6 8-19 11-20 0-10-4-9-7-10-18 0-22 4-10 6-8 19-11zM-1021 228l11 9 9 11 5 14 2 14-2 14-5 14-9 11-11 9-13 5-14 2-14-2-13-5-11-9-9-11-5-14-2-14 2-14 5-14 9-11 11-9 13-5 14-2 14 2zM-856 355l11 20 2 11-2 11-11 20-9 7-21 6-21-6-9-7-11-20-2-11 2-11 11-20 9-7 21-6 21 6zM-990 384l19 11 10 18 0 22-4 10-6 8-19 11-20 0-10-4-9-7-10-18 0-22 4-10 6-8 19-11zM-856 496l17 10 10 18 0 20-4 10-6 8-17 10-20 0-9-4-8-6-10-18 0-20 4-10 6-8 17-10zM-943 564l10 18 1 10-1 10-10 18-17 10-10 1-10-1-17-10-10-18-1-10 1-10 10-18 17-10 10-1 10 1zM-923 681l19 11 10 18 0 22-4 10-15 15-10 4-20 0-10-4-9-7-10-18 0-22 4-10 15-15 10-4zM-818 791l19 11 10 18 0 22-4 10-15 15-10 4-20 0-10-4-9-7-10-18 0-22 4-10 15-15 10-4zM-720 1275l16 16 6 22-6 22-7 9-9 7-21 6-21-6-9-7-11-20-2-11 2-11 11-20 9-7 21-6zM-632 198l8 6 10 18 0 20-4 10-14 14-9 4-10 1-19-5-8-6-10-18 0-20 4-10 14-14 9-4 10-1zM-664 1013l16 10 10 17 0 20-4 9-6 8-16 10-20 0-8-4-8-6-10-17 0-20 4-9 6-8 16-10zM-678 1146l11 20 2 11-2 11-11 20-9 7-21 6-21-6-9-7-11-20-2-11 2-11 11-20 9-7 21-6 21 6zM-615 1215l17 10 10 18 0 20-4 10-6 8-17 10-20 0-9-4-8-6-10-18 0-20 4-10 6-8 17-10zM-581 1320l17 10 10 18 0 20-4 10-6 8-17 10-20 0-9-4-8-6-10-18 0-20 4-10 6-8 17-10zM-672 1418l16 16 6 22-6 22-7 9-9 7-21 6-21-6-9-7-11-20-2-11 2-11 11-20 9-7 21-6zM-483 1422l17 10 10 18 0 20-4 10-6 8-17 10-20 0-9-4-8-6-10-18 0-20 4-10 6-8 17-10zM-370 1463l17 10 10 18 0 20-4 10-6 8-17 10-20 0-9-4-8-6-10-18 0-20 4-10 6-8 17-10zM-242 1474l17 10 10 18 0 20-4 10-6 8-17 10-20 0-9-4-8-6-10-18 0-20 4-10 6-8 17-10zM-574 1542l16 16 4 11 2 11-6 22-16 16-10 4-11 2-21-6-16-16-4-11-2-11 6-22 16-16 10-4 11-2zM-321 1580l17 10 10 18 0 20-4 10-6 8-17 10-20 0-9-4-8-6-10-18 0-20 4-10 6-8 17-10zM-438 1583l16 16 4 11 2 11-6 22-16 16-10 4-11 2-21-6-16-16-4-11-2-11 6-22 16-16 10-4 11-2zM718 894l50 3 36-4 47-9 44-16 19-12 24-22 40-58 23-44 135-290 78-145 23-55 21-76 12-60 3-28-1-14-7-20-11-17-13-10-15-7-19-5-49-5-94 2-97 10-95 19-72 21-73 28-74 35-97 56-73 49-72 54-66 55-75 76-113 127-38 46-31 46-12 22-17 50-10 52-2 25 2 37-4 6-8 7-5 9-1 10 21 91 20 76 10 52 16 116 20 189 12 86 25 98 11 28 15 26 26 36 31 33 22 18 35 22 38 17 26 8 57 8 43 2 43-2 43-5 27-7 51-21 24-14 35-26 36-33 22-24 20-25 17-27 26-57 14-43 7-28 12-97 2-41-2-45-11-95-12-56-17-48-22-44-38-59-27-36-1-9 3-7zM937 89l22 0 10 4 8 7 11 19 0 22-4 10-7 9-18 11-22 0-10-4-15-16-4-10-1-11 5-21 15-16zM1115 77l14 2 13 5 11 9 9 11 5 14 2 14-2 14-5 14-9 11-11 9-13 5-14 2-14-2-13-5-11-9-9-11-5-14-2-14 2-14 5-14 9-11 11-9 13-5zM804 107l19 5 8 6 10 18 1 10-1 10-10 18-8 6-19 5-10-1-17-10-6-8-5-20 5-20 6-8 17-10zM763 197l19-5 19 5 8 6 10 18 0 20-4 10-6 8-17 10-10 1-19-5-14-14-4-10-1-10 5-20zM904 231l20 0 19 11 10 18 1 11-1 11-10 18-19 11-10 1-10-1-19-11-6-8-5-21 5-21 6-8zM1048 221l14 2 13 5 11 9 9 11 5 14 2 14-2 14-5 14-9 11-11 9-13 5-14 2-14-2-13-5-11-9-9-11-5-14-2-14 2-14 5-14 9-11 11-9 13-5zM875 344l11-2 21 6 9 7 11 20 2 11-6 22-7 9-19 11-11 2-21-6-9-7-11-20-2-11 6-22 7-9zM990 384l20 0 19 11 10 18 1 11-1 11-10 18-19 11-10 1-10-1-19-11-6-8-5-21 5-21 6-8zM856 496l20 0 17 10 6 8 5 20-5 20-6 8-17 10-10 1-10-1-17-10-6-8-5-20 5-20 6-8zM960 554l20 0 9 4 14 14 4 10 1 10-5 20-14 14-9 4-20 0-9-4-8-6-10-18 0-20 4-10 6-8zM933 680l10 1 19 11 6 8 5 21-5 21-6 8-9 7-20 5-20-5-9-7-10-18-1-11 1-11 10-18 9-7zM828 790l10 1 19 11 6 8 5 21-5 21-6 8-9 7-20 5-20-5-9-7-10-18-1-11 1-11 10-18 9-7zM730 1271l11-2 21 6 9 7 11 20 2 11-6 22-7 9-19 11-11 2-21-6-16-16-4-11-2-11 6-22 7-9zM641 194l20 0 17 10 6 8 5 20-5 20-6 8-17 10-10 1-10-1-17-10-6-8-5-20 5-20 6-8zM664 1013l20 0 16 10 10 17 1 10-1 10-10 17-16 10-10 1-10-1-16-10-10-17-1-10 1-10 10-17zM687 1139l21-6 21 6 9 7 11 20 0 22-4 11-16 16-10 4-11 2-21-6-16-16-4-11 0-22 4-11zM615 1215l20 0 17 10 6 8 5 20-5 20-6 8-17 10-10 1-10-1-17-10-10-18-1-10 1-10 10-18zM581 1320l20 0 17 10 6 8 5 20-5 20-6 8-17 10-10 1-10-1-17-10-10-18-1-10 1-10 10-18zM672 1418l21-6 21 6 16 16 4 11 0 22-4 11-16 16-10 4-11 2-21-6-16-16-4-11 0-22 4-11zM483 1422l20 0 17 10 10 18 1 10-1 10-10 18-17 10-10 1-10-1-17-10-10-18-1-10 1-10 10-18zM370 1463l20 0 17 10 10 18 1 10-1 10-10 18-17 10-10 1-10-1-17-10-10-18-1-10 1-10 10-18zM242 1474l20 0 17 10 10 18 1 10-1 10-10 18-17 10-10 1-10-1-17-10-10-18-1-10 1-10 10-18zM595 1536l21 6 9 7 7 9 6 22-6 22-7 9-9 7-21 6-21-6-9-7-7-9-6-22 6-22 7-9 9-7zM321 1580l20 0 17 10 10 18 1 10-1 10-10 18-17 10-10 1-10-1-17-10-10-18-1-10 1-10 10-18zM459 1577l21 6 9 7 7 9 6 22-6 22-7 9-9 7-21 6-21-6-9-7-7-9-6-22 6-22 7-9 9-7z" fill="#efae96" stroke="#c4886e" stroke-width="10" fill-rule="evenodd"/><path transform="scale(0.1)" d="M-813 328l-2 15 2 15 7 13 9 5 44 9 32 11 147 62 16 0 9-5 5-7 1-13-4-15-14-24-18-23-23-22-36-28-29-19-38-21-31-6-21 1-20 6-15 8-7 8-9 14zM813 328l2 15-2 15-7 13-9 5-44 9-32 11-147 62-16 0-9-5-5-7-1-13 4-15 14-24 18-23 23-22 36-28 29-19 38-21 31-6 21 1 20 6 15 8 7 8 9 14zM-604 309l2 20 18 35 18 19 22 15 161 44 17-4 13-13 4-14-1-10-8-17-14-19-26-24-21-16-54-31-43-15-37-3-16 3-21 10-11 12zM604 309l-2 20-18 35-18 19-22 15-161 44-17-4-13-13-4-14 1-10 8-17 14-19 26-24 21-16 54-31 43-15 37-3 16 3 21 10 11 12zM-819 462l-5 18 6 20 10 10 13 9 28 11 123 29 63 11 29 0 12-6 6-8 2-13-6-15-11-16-24-23-19-14-33-18-50-20-49-12-23-2-20 1-11 3-17 9-14 12zM819 462l5 18-6 20-10 10-13 9-28 11-123 29-63 11-29 0-12-6-6-8-2-13 6-15 11-16 24-23 19-14 33-18 50-20 49-12 23-2 20 1 11 3 17 9 14 12zM-523 461l-4 12 0 12 7 26 10 23 30 35 33 25 25 14 241 110 41 14 9 0 8-5 3-8-1-8-8-20-12-21-29-37-84-91-35-30-38-28-52-27-37-12-26-5-35-2-19 2-14 7zM523 461l4 12 0 12-7 26-10 23-30 35-33 25-25 14-241 110-41 14-9 0-8-5-3-8 1-8 8-20 12-21 29-37 84-91 35-30 38-28 52-27 37-12 26-5 35-2 19 2 14 7zM-813 622l-7 16-2 16 1 10 6 14 19 20 19 7 12 2 24-1 41-7 78-26 45-9 61-8 94-6 26-8 7-5 3-8-2-9-14-11-51-22-59-15-35-4-40-2-102 3-63 8-14 4-21 12-15 13zM813 622l7 16 2 16-1 10-6 14-19 20-19 7-12 2-24-1-41-7-78-26-45-9-61-8-94-6-26-8-7-5-3-8 2-9 14-11 51-22 59-15 35-4 40-2 102 3 63 8 14 4 21 12 15 13zM-733 784l0 12 5 22 14 21 9 8 11 4 38 4 46-3 75-13 205-50 40-8 41-1 85 11 30 1 30-5 6-6 2-5-1-8-8-7-24-16-60-30-63-25-46-13-47-9-56-4-43 0-43 3-65 9-59 15-32 11-39 19-22 16-22 26zM733 784l0 12-5 22-14 21-9 8-11 4-38 4-46-3-75-13-205-50-40-8-41-1-85 11-30 1-30-5-6-6-2-5 1-8 8-7 24-16 60-30 63-25 46-13 47-9 56-4 43 0 43 3 65 9 59 15 32 11 39 19 22 16 22 26zM-351 811l-1 9 2 7 12 13 16 7 37 5 93 3 46-2 26-4 22-7 9-5 4-9-5-9-19-8-85-23-54-7-42 1-23 4-27 14zM351 811l1 9-2 7-12 13-16 7-37 5-93 3-46-2-26-4-22-7-9-5-4-9 5-9 19-8 85-23 54-7 42 1 23 4 27 14zM-535 921l-1 13 3 8 5 6 11 9 15 6 19 3 37-1 78-17 90-31 71-21 23-10 3-10-4-6-14-4-94-12-62-1-61 5-59 10-24 8-11 7-14 15zM535 921l1 13-3 8-5 6-11 9-15 6-19 3-37-1-78-17-90-31-71-21-23-10-3-10 4-6 14-4 94-12 62-1 61 5 59 10 24 8 11 7 14 15zM-621 1078l6 15 11 12 7 4 11 2 17-4 69-38 58-37 64-48 8-9 0-7-9-6-35 3-91 20-40 13-32 18-25 20-15 21-4 13zM621 1078l-6 15-11 12-7 4-11 2-17-4-69-38-58-37-64-48-8-9 0-7 9-6 35 3 91 20 40 13 32 18 25 20 15 21 4 13zM-377 1060l7 27 16 26 10 8 7 2 16-3 8-7 30-39 18-20 163-152 6-10-1-9-4-3-9-2-15 1-78 18-69 30-48 24-32 27-16 23-8 29zM377 1060l-7 27-16 26-10 8-7 2-16-3-8-7-30-39-18-20-163-152-6-10 1-9 4-3 9-2 15 1 78 18 69 30 48 24 32 27 16 23 8 29zM-598 1214l9 15 15 11 15 2 14-7 68-81 42-45 34-40 15-25 0-5-3-5-5-3-14 2-38 15-84 50-33 24-17 19-12 23-7 31zM598 1214l-9 15-15 11-15 2-14-7-68-81-42-45-34-40-15-25 0-5 3-5 5-3 14 2 38 15 84 50 33 24 17 19 12 23 7 31zM-544 1295l3 15 6 12 7 9 9 5 11 1 6-2 16-16 19-36 27-79 47-102 4-11-1-7-3-4-9-2-11 5-43 29-24 24-29 36-21 33-10 23-6 36zM544 1295l-3 15-6 12-7 9-9 5-11 1-6-2-16-16-19-36-27-79-47-102-4-11 1-7 3-4 9-2 11 5 43 29 24 24 29 36 21 33 10 23 6 36zM-449 1326l2 18 8 21 8 10 11 6 12-1 12-9 11-15 9-18 9-33 19-158-1-19-3-6-6-4-13-1-14 9-19 26-18 35-8 23-10 46-8 47zM449 1326l-2 18-8 21-8 10-11 6-12-1-12-9-11-15-9-18-9-33-19-158 1-19 3-6 6-4 13-1 14 9 19 26 18 35 8 23 10 46 8 47zM-345 1349l7 27 9 11 10 6 9 2 14-2 12-8 5-8 15-50 15-75 11-45 19-59 57-145 3-12-1-7-4-4-9 0-8 6-37 41-35 49-65 101-13 32-8 34-7 61zM345 1349l-7 27-9 11-10 6-9 2-14-2-12-8-5-8-15-50-15-75-11-45-19-59-57-145-3-12 1-7 4-4 9 0 8 6 37 41 35 49 65 101 13 32 8 34 7 61zM-242 1395l4 15 6 6 17 8 13 2 12-4 7-6 12-27 19-73 53-269 9-77-2-17-5-5-9 1-6 7-26 50-31 75-36 99-22 76-10 46-6 50zM242 1395l-4 15-6 6-17 8-13 2-12-4-7-6-12-27-19-73-53-269-9-77 2-17 5-5 9 1 6 7 26 50 31 75 36 99 22 76 10 46 6 50z" fill="#fffcfa" stroke="#b38069" stroke-width="8.5"/><path d="M-1.8,56.6Q-11.6,28.6 -32.6,13.6M1.8,56.6Q11.6,28.6 32.6,13.6" fill="none" stroke="#8d604a" stroke-width="1.3"/><path d="M-33.1,13.2q5,0.8 9,4.5M33.1,13.2q-5,0.8 -9,4.5" fill="none" stroke="#8d604a" stroke-width="2.4" stroke-linecap="round"/><path d="M-3.6,90.6C-4.0,112.6 -2.6,134.6 0.0,148.6C2.6,134.6 4.0,112.6 3.6,90.6Z" fill="#efae96" stroke="#c4886e" stroke-width="0.7"/><rect x="-5.0" y="66.6" width="10" height="28" rx="3" fill="#efae96" stroke="#c4886e" stroke-width="0.7"/><line x1="-3.0" y1="69.6" x2="-3.0" y2="93.6" stroke="#fff4ec" stroke-width="1" stroke-dasharray="5 1.5"/><line x1="3.0" y1="69.6" x2="3.0" y2="93.6" stroke="#fff4ec" stroke-width="1" stroke-dasharray="5 1.5"/><circle cx="0.0" cy="62.1" r="6.8" fill="#e8956f" stroke="#c4886e" stroke-width="0.7"/></g>
<g transform="translate(571.30,161.80) scale(1.0000)"><path transform="scale(0.1)" d="M-952 1465l12 19 5 26-5 26-10 17 16 17 11 25 0 27-9 21 18 18 10 24 0 28-5 15 22 15 10 11 10 26 1 23 6 8 17 9 18 18 8 14 5 23 25 5 13 7 19 19 7 13 30 16 11 15 1 13-7 22-18 46-37 76-15 47-4 26 2 12 10 9 11 1 12-7 12-19 40-114 15-23 22-18 17-6 25-2 29 4 54 16 39 7 64-6 71-19 44-18 34-21 36-41 53-95 38-102 48-115 12-61 11-135 20-145 11-23 21-25 15-10 8-10 4-27-5-30-9-40-14-33-51-82-61-91-263-358-39-46-68-68-100-86-72-54-265-164-116-65-105-51-41-15-17-3-18 2-14 5-7 11-7 31 3 18 13 28 82 131 33 59 33 76 19 66 9 53 6 73-10 126 3 112 10 64 17 49 18 32 22 31 26 29 29 25 33 22 53 28 144 67 66 50 3 5-5 11-22 5-18 9-21 21-79 57-40 33-5 18-7 13-18 18-17 9 0 24-11 25-19 19zM-1183 82l-28-26-3-12 4-4 11-2 33 16 1 11-5 11-3 4zM-1253 60l2-12 5-3 11 3 37 37 2 5-2 10-17 8-10 0zM-1106 94l-18 38-11 2-27-31-2-11 13-26 12-1 32 18zM-1099 142l-9-9 1-6 15-31 12-1 32 19 0 10-10 21-9 3zM-1196 155l-14-22 0-12 27-12 6-1 6 4 20 25-3 10-4 3-30 10zM-1028 125l33 17 5 10-18 30-16 2-10-5-13-23 13-29zM-1161 210l-17-26 0-12 28-13 10 1 5 9 0 33-16 9zM-959 217l-33-27 1-10 10-17 10-5 33 18 5 10-15 26zM-1099 226l-19-18-3-7 0-44 11-5 51 10 15 23 0 12-18 26zM-932 229l-5-9 2-6 11-17 9-5 33 19 5 9-14 24-10 5zM-1137 255l-12-25 2-6 12-7 12 3 12 15-6 19-9 7zM-1005 291l-12 0-4-4-28-57 16-28 9-6 21 2 31 28 0 10zM-1039 308l-65 0-10-6-3-15 20-47 29-4 10 6 26 49 1 7zM-951 320l-36-23 0-11 31-51 12 0 38 29-1 11-34 46zM-847 350l-10 4-65-9-9-7 0-5 34-50 9-5 40 20 5 6 9 28zM-1078 393l-22-63 5-9 47 1 5 10-4 53-19 10zM-1005 304l56 31 6 11 0 7-19 54-8 8-11 0-51-29 2-65 9-13zM-927 358l69 9 5 8 4 51-2 8-6 5-18 5-71-32-1-10 13-38zM-985 436l-7 17-39 29-9 2-16-3-8-9-9-56 6-8 22-9 10 0 49 28zM-974 457l-2-9 5-15 5-7 8-3 71 28 6 9-12 39-5 5-31 18-10-5zM-961 562l-41-2-7-2-3-6-13-57 36-27 10 5 36 63-8 21zM-1056 549l-3-47 3-4 10-3 6 3 12 42-4 11-14 3zM-931 556l-1-11 5-8 37-21 58 44 4 6 0 7-10 17-5 3-7 0zM-1021 575l-18 38-9 1-10-6 1-32 5-9 25-1zM-932 629l-6-3-3-6-5-38 4-10 6-2 79 33 7 7-4 21-7 7zM-952 628l-21 41-9 6-14 1-6-2-5-5-19-48 23-47 34-1 9 5 2 5zM-1023 664l-2 5-10 5-25-2-5-11 5-30 9-5 12 2zM-864 653l4 8-1 5-10 18-9 5-68 7-15-17 2-7 20-30zM-1065 727l-2-31 6-9 31-1 9 5 1 10-14 28-27 2zM-898 703l10 4 2 4-6 32-30 13-12-3-7-39 9-7zM-1004 694l9-6 19-1 18 17 10 52-3 10-46 11-10-2-14-35 0-8zM-1058 790l-6-9-1-31 9-6 22 1 13 30-1 10-9 5zM-973 863l-11-3-17-16-3-7-4-40 8-7 53-10 7 6 5 12-4 46-7 10zM-1054 846l-7-30 5-11 25-3 10 4 4 25-3 9-29 9zM-876 830l-7 8-29 9-10-2-4-9 4-29 11-4 28 8 8 7zM-910 874l-2-10 3-4 29-11 11 2 11 13-3 11-25 22-11-5zM-1033 902l-15-33 8-9 29-7 22 21-4 16-30 14zM-979 899l4-21 34-13 7 0 36 47 1 15-33 21-11 0-20-10-6-6zM-1001 951l-18-22 0-12 18-9 11 1 11 29-17 14zM-970 986l-16-17 4-11 13-9 26 13 1 25-6 10-6 1zM-878 1040l-46-22-6-10 2-46 39-22 25 13 5 11-6 63-4 7zM-849 1487l-9 2-41-11-3-10 19-26 11 1 35 24 0 11zM-864 1507l-12 27-23 3-10-5 0-33 8-6 28 5zM-898 1587l-10-27 5-9 27-1 5 5 10 28-9 9-21 2zM-898 1629l4-19 7-3 18-2 8 8 6 28-8 8-24 4-10-12zM-823 261l-17 22-10 0-32-18 0-12 18-25 11 1 30 20zM-792 328l-28-2-11-25 1-10 18-25 9-5 33 18 5 11zM-751 363l-26-26 2-10 23-30 11 0 30 22-1 11-27 35zM-838 415l-4-47 2-8 18-19 27 0 7 3 39 39-3 11-25 25-7 3-42 3-6-1zM-711 495l-19 8-10-2-28-65 3-12 28-24 15 6 6 9 8 71zM-779 522l-9-5-47-62-2-6 5-10 43-5 6 2 5 5 23 63-5 9zM-880 504l13-43 6-7 10 1 54 71 1 10-15 15-10 2zM-717 600l-12 2-5-3-40-50-2-6 5-11 21-11 12 1 23 66zM-751 624l-65-37-1-10 6-12 18-12 10 4 40 49 2 12zM-824 599l61 34 4 4 0 12-11 4-68-11-4-11 5-22 4-6zM-799 692l-25-17 2-12 4-3 31 3 8 6 0 10zM-756 692l2 11-5 9-5 2-11-3-4-8 4-11 9-4zM-828 732l-22-34 0-11 4-4 11 0 25 20-4 26-9 5zM-877 745l5-31 9-4 5 2 25 37 0 11-9 6-5-1zM-763 780l-25-7-22 5-1-6 5-8 38-26 10-1 9 8 2 9zM-714 783l-11 30-21 12 3-13-1-9-10-16 15-20 9-5 5 1 9 12zM-823 788l-10 25 2 10 10 16-11 14-11 4-21-19 3-21 4-7zM-811 846l23 5 26-7-21 42-25 1-9-5-8-16zM-764 882l7-16 10-1 7 8 2 15-10 7-11-4zM-844 943l-12 1-22-13-6-11 3-9 38-34 11 4 7 13zM-758 944l-10-4-4-23 1-6 10-6 20 10 6 9-5 9zM-782 944l-7 7-5 0-29-7-3-12 14-31 17-2 9 5zM-704 981l-12 1-25-14-6-9 1-5 21-17 10-1 4 3 11 30zM-785 1017l-5 8-5 2-52-1-5-10 7-56 11-4 49 11 4 9zM-716 1003l-8 10-39 10-5-2-4-10 4-32 10-5 5 2 31 17zM-738 1091l-12-1-3-5-14-41 8-8 45-12 5 4 1 12zM-779 1089l-63-28-6-10 1-5 9-6 54 1 4 5 10 34zM-776 1334l-5 1-9-5-5-8 1-6 20-16 10-1 7 7 0 5zM-712 1365l-12 2-36-17-2-10 2-4 20-22 11 1 33 26-3 12zM-799 1390l-10 7-6-2-21-13-5-10 13-30 15-10 23 13 5 8zM-786 1392l13-28 11-1 38 19 2 24-2 6-11 5-44-10-5-3zM-875 1424l1-19 23-16 34 20 5 8-9 29-11 7zM-805 1465l-4-4-2-10 10-26 7-7 70 13 7 5 11 18-6 10-5 2zM-779 1524l-11-4-16-25 0-11 4-4 88-2 9 4 4 15-3 10zM-824 1492l27 39-1 28-1 5-8 5-40 4-15-28 0-8 18-38 14-8zM-773 1583l-13-12 5-32 68-16 10 3 3 10-5 18-61 29zM-724 1577l10 0 6 9-13 35-16 12-12 2-9-3-8-11-1-23zM-781 1599l2 18-1 7-5 4-41 20-12-2-14-45 4-12 52-8zM-819 1702l-4-7-2-32 46-25 6 0 8 3 4 8 2 44-4 8-19 20-11 3zM-836 1694l-7 7-19 7-9-1-5-8-3-22 2-11 25-7 11 3zM-848 1754l-13-23 3-10 29-10 20 17 3 9-5 8-27 15zM-690 1754l-74 11-14-19-1-9 28-30 51 6 7 5 11 14 2 8-4 11zM-816 1808l-24-22 1-8 4-4 34-21 6-1 9 5 12 22-5 11-28 20zM-789 1851l-9-20-1-10 19-15 11-1 16 22 1 10-2 4-18 15zM-731 1891l-24-24 0-6 8-10 9-4 8 6 13 28-8 10zM-679 395l-27 4-7-2-16-11 0-11 32-42 11 1 29 24-1 11zM-613 416l-30 8-18-16-3-10 15-21 10-4 34 28-2 11zM-699 412l21-3 26 26-7 52-3 6-6 4-19-2-6-4-3-6-7-63zM-647 487l9-49 15-6 11 3 9 39-8 24-8 6-6 0-19-8zM-679 513l-3 69-2 6-10 4-9-7-20-66 7-8 13-5 16 1zM-622 524l-27 64-9 6-6-1-6-10 6-72 12-3 23 7zM-571 555l-49 50-11 3-5-4-2-11 30-62 11-1 13 6 9 8zM-635 632l10 19 1 21-7 20-9 12-3 2-5 3-3 1 10-9 5-20-7-21-16-17-22-10-13-1-19 5-11 14 12-21 17-12 16-4 26 4zM-722 680l10 15 16 12 0 5-26 28-11 2-13-11-2-11 12-33 8-7zM-674 717l11 5 2 6-11 27-6 6-18 6-10-1-8-12 3-9 26-25zM-645 755l33 58 0 9-11 9-12-1-7-7-19-38-2-17 2-8 4-5zM-684 869l-38-22-4-4 1-11 10-5 63 10 4 10-11 17-8 4zM-701 881l-7 13-10 1-6-8-1-10 6-8 5 0 8 3zM-597 933l-39-5-8-5-4-7-4-37 2-7 19-23 6-1 9 7 25 64-2 11zM-661 913l-9 7-18 3-6-1-7-9 12-26 4-4 11-2 9 4zM-656 942l-13 26-10 6-6-3-9-23 3-11 28-5zM-580 957l0 8-7 8-58 17-12-4-2-6 16-34 5-4 49 7zM-666 1021l-11 7-13 0-7-4-8-15 5-16 15-8 16 5 7 11 0 13zM-569 988l2 11-15 42-9 7-57-31-2-6 8-10 61-18 5 0zM-606 1075l-32 18-12-1-16-54 4-5 12-1 44 24 5 9zM-669 1092l-9 5-29 0-9-5 0-11 23-39 6-2 10 8 10 35zM-579 1172l-48-5-8-5-1-5-4-47 48-27 9 7 20 50-4 24-3 4zM-661 1153l-43-24-6-9 2-6 9-5 41 1 5 8 3 23-1 6zM-602 1278l-9-6-16-27 0-11 9-6 39 2 5 10-1 5-18 28zM-613 1304l-18 11-9-4-52-58-3-11 3-5 35-7 11 6 34 62zM-658 1334l-16 2-8-2-46-33-4-9 0-15 4-9 16-11 10 3 50 56 2 11zM-636 1339l4-7 13-9 11-1 36 54 0 12-11 5-5-3-44-38zM-647 1359l-9 46-27 34-9 4-5-1-13-20 1-42 35-32 19-1 4 2zM-634 1406l-5-5 0-17 7-8 6-1 30 24 3 12-9 7zM-656 1442l-4-4 2-11 10-10 5-1 30 12 6 10-6 10-6 1zM-691 1460l15-7 55 8 9 8 0 6-9 8-64 8-7-8-2-13zM-643 1529l-8 1-20-7-8-8 1-6 9-7 50-7 11 5 1 6-6 10zM-627 1614l-10 2-5-3-45-44-5-14 5-17 12-3 22 7 27 29 3 34zM-685 1590l26 25-2 10-5 3-29-3-9-8 6-21 3-4zM-691 1664l-14-12 2-11 5-3 14 1 8 7-2 11-7 6zM-585 1686l-32-14-5-7-7-31 11-11 11-1 9 6 25 42 1 10-3 4zM-738 1696l-8-6-2-5-1-28 5-9 5-3 9 3 32 27 3 10-3 11-4 3zM-633 1672l-30 50-10 0-10-12-2-8 3-19 26-32 11-4 8 8zM-653 1780l-9-6-7-14 0-17 6-8 12-4 24 1 27 10 3 10-6 8zM-731 1831l-9-6-20-31 0-11 8-6 71-10 12 20-1 11zM-617 1835l-5 1-9-5-17-24 0-12 59-29 11 1 4 5-1 11zM-707 1872l-10-21 0-11 47-26 10 0 14 17 2 10-3 4-34 34-18-1zM-623 1911l-11 7-21-3-9-7-5-13 2-12 37-34 12 3 14 17zM-689 1925l-23-19 2-11 11-5 15 4 8 16-2 12zM-643 1985l-13-1-23-19 1-14 16-23 29 2 5 2 5 7 0 10zM-593 455l-6-32 3-4 10-3 19 15 4 12-20 15zM-577 515l-9 6-9-4-6-8 1-6 11-23 17-13 11-1 7 10-2 5zM-473 536l-14 6-9-8 0-5 5-9 11-3 9 9zM-535 552l-10 4-5-2-5-6 0-6 18-21 11-3 5 2 3 11zM-467 566l-13 20-28 13-11-2-7-13-1-5 6-9 39-16 11 2zM-537 603l-63 29-11-2-4-5 3-11 51-48 9 2 8 8 8 16zM-503 642l-7-19 3-10 25-12 8 0 29 9 8 9-5 15-9 7-43 5zM-520 659l-70 5-10-6-2-6 7-9 65-26 8 8 7 23zM-528 719l-65-22-7-9 0-6 10-6 69-1 6 8 1 12-6 17zM-554 771l-54-44-3-5 3-11 11-2 66 25 1 12-13 20zM-598 810l-34-60-2-6 7-9 11 1 52 46-2 11-12 14-10 5zM-465 837l-68-55 1-10 8-14 9-5 72 31 7 8-1 5-11 35-7 7zM-517 883l-49-66 3-9 10-12 10-3 69 53 4 11-18 21-7 4zM-571 923l-8-6-28-72 0-6 3-6 17-9 7 0 6 4 42 59-4 10-25 24zM-549 988l-9-5-6-10-5-27 49-47 24-4 7 7 17 47-1 10-5 4zM-521 1004l-1-6 7-8 37-12 8 6 12 30-5 9-20 11-7-2zM-492 1059l-10 13-11 4-57-14-3-11 18-45 9-3 5 3 47 38 4 5zM-479 1070l27 17 1 5-4 9-26 5-10-3-5-18 7-11zM-548 1134l-7-7-13-33 2-11 10-4 46 11 7 20-2 11zM-511 1137l7 0 6 5 13 22 0 11-10 5-56-7-3-12 5-12zM-443 1243l-2 36-10 5-28-3-26-39 6-10 5-1 44 1 6 2zM-508 1297l-44 12-28-6-5-2-3-10 34-57 4-4 10-1 9 5 31 45 1 10zM-462 1303l-13 54-4 5-12 2-6-10 1-49 8-8 8-2 15 3zM-510 1320l1 34-2 6-11 5-9-8-8-33 3-5 13-5 10 2zM-551 1374l-11-5-23-36-2-6 7-10 20 2 8 8 10 33 0 6zM-468 1486l3-23-11-15-9-5-17-4-20 4-4-25 3-9 19-7 20 0 19 8 15 13 10 21 0 29-9 9zM-545 1416l8 9 4 26-7 11-2 9 4 14-26 12-13-2-10-10-6-23 7-23 18-17zM-508 1550l-3 6-16 4-25-11-7-32 2-9 26-13 10 6 18 4zM-572 1546l-12 3-11-5-1-20 3-7 8-7 11 4 3 5 3 17zM-579 1567l0 12-12 19-4 4-11 0-5-10-1-12 4-9 18-8zM-574 1604l0-11 12-18 11-5 6 2 3 12-9 24-13 2zM-509 1603l-2 7-6 4-10 1-5-3-3-11 8-19 5-3 11 5zM-496 1612l1-28 11-5 9 8 6 27-2 5-10 3zM-493 1636l-12 31-4 4-11 1-6-9-2-25 4-9 20-5 7 3zM-549 1675l-10-5-19-31-1-6 5-10 22-1 11 6 3 36-1 5zM-548 1693l4 11-9 47-7 8-5 1-14-10-3-16 10-31 5-6 13-6zM-483 1756l-12 12-5 0-8-6-1-54 1-6 9-5 8 2 7 9 4 40zM-481 1858l-21-62 3-11 5-3 11 3 45 47-4 11-16 14-14 4zM-547 1793l-12 70-11 3-24-6-10-13 1-10 37-47 11-4zM-496 1868l-11 6-28-1-9-7 10-65 7-9 11 3 3 5 18 58zM-558 1886l-8 56-10 4-33-8-5-8 0-9 24-44 24 2zM-508 1956l-40-11-3-9 8-46 9-5 22 2 6 8 8 53zM-588 1992l-29-6-6-9 11-22 9-2 26 6 4 10-4 19zM-532 2008l-24-7-7-7 2-25 8-9 30 6 8 7-5 31zM-459 2010l-36 4-10-6 3-36 5-7 13-6 19 7 10 32zM-423 599l-10 2-25-9-3-9 9-15 12-5 6 4 15 22zM-405 668l-10-4-16-20 9-27 11-9 11 5 20 31-4 10zM-494 695l-7-5-4-20 5-10 5-2 52-5 27 29-1 14-7 8zM-382 734l-12 1-12-19 2-28 4-8 22-16 11-1 23 29 1 11zM-407 759l-15 14-12 1-74-32-6-9 1-5 6-14 7-7 77 11 8 6 11 22 1 4zM-336 781l-13 0-27-19-5-8 5-9 42-30 10 5 21 30-5 10zM-389 874l-43-23-6-8 16-52 21-21 9-3 42 27 4 6 9 30 0 7-4 6zM-327 849l17 8 23 36 1 11-53 37-11 0-24-12-6-43zM-462 941l-17-52 23-28 4-3 10 1 47 28 7 38-4 10-15 9-44 4-7-2zM-353 953l10 18-1 10-24 36-16 0-10-7-5-10 5-46 15-11zM-439 1014l-8-7-14-32 1-10 9-5 37-1 6 10-5 35zM-393 1031l-12 30-4 2-10-3-10-24 2-11 20-8 10 6zM-439 1073l-11 0-23-16 0-11 20-14 10 3 9 25-1 10zM-352 1060l-28 16-9-5-2-5 9-28 9-6 10 4 10 12zM-337 1109l-34-6-4-9 2-5 22-14 12 0 10 23zM-436 1093l12-13 7-2 16 3 11 13 0 17-11 12-16 3-15-8-4-9zM-472 1153l-8-5-8-13-1-11 8-6 28-3 4 3 3 10-17 21zM-355 1155l-11-4-13-16-2-10 7-8 34 8 3 14zM-421 1174l-6 9-26 1-10-6-1-6 25-31 9-4 9 6zM-367 1177l-6 8-5 1-26-2-5-10 2-30 9-6 9 4 20 25zM-381 1246l-25 44-10 0-14-7-1-38 6-10 39 2zM-366 1311l-9 4-5-2-13-9-1-6 31-56 10-5 35 3 3 4-2 12zM-410 1313l-34 56-11 5-6-2-3-12 20-62 12-1 15 6zM-370 1340l-4 12-44 38-5 3-11-5 0-12 36-54 11 1 10 6zM-367 1401l-31 16-6 1-9-7 3-12 30-24 11 4zM-350 1442l-37 7-11-5-1-6 6-10 30-12 5 1 9 10 2 11zM-321 1491l-64-8-6-3-3-11 9-8 55-8 7 2 8 5 3 10-2 13zM-334 1541l-59-25-6-10 1-6 11-5 65 11 3 12-6 16zM-448 1552l-23 12-21-5-4-9 9-45 36-11 10 3 4 11 0 22zM-380 1565l-26-21 0-10 4-4 10-1 35 18 2 4-2 10-12 6zM-435 1625l-13-4-7-8-9-28 0-6 7-8 5 0 8 5 22 32 0 11-3 4zM-376 1645l-16 4-10-2-8-10 3-18 33-37 34-11 8 9 1 24-18 27zM-435 1650l-43 35-11 1-4-3-1-12 17-35 15-5 20 4 4 3zM-428 1703l-9 2-14-3-9-8 4-11 27-19 10 4 2 5zM-361 1704l-11-21 6-10 6-1 17 11 4 10-6 9-11 3zM-413 1716l-2-10 8-20 3-5 12-1 23 37-8 26-12 2-4-3zM-446 1726l-4 8-9 5-9-5-2-14 8-7 8 1 8 7zM-440 1748l2-10 8-9 5-1 9 4 10 15-4 10-5 2-18-4zM-421 1821l-12-2-39-40-3-5 4-12 15-1 55 18 3 9-3 11zM-300 1823l-5 6-11 1-64-32-6-11 5-18 6-6 8-2 56 10 12 44zM-338 1882l-17 7-6-3-46-45-3-10 13-18 4-3 10 0 61 31 0 11zM-412 1929l-9-6-26-53 3-9 18-14 10 3 47 48-5 11-30 18zM-478 1949l-8-9-9-50 6-11 20-6 12 6 24 49-5 9-18 13-9 2zM-341 1977l-30 13-11-2-15-41 1-10 23-15 12 1 21 43zM-399 1997l-31 9-10-3-10-40 24-20 10-1 4 2 15 42zM-308 840l-10-2-6-7-9-35 33-26 11-2 23 29 2 11zM-261 889l-12 1-4-4-19-32 5-10 36-24 10 4 21 31-4 10zM-183 937l-56 0-18-23-1-11 37-28 11-2 35 47 1 11zM-251 945l-14 51-10 8-51-29-7-13 0-10 4-4 52-32 9 4zM-161 1013l-3-42 1-6 10-6 9 5 31 48-4 9-5 3-33-8zM-187 949l9 6 2 5 0 55-25 20-7 2-31-2-7-4-9-10-2-11 20-58zM-338 994l10-5 5 2 28 17 4 4 0 11-36 22-10 1-17-22zM-277 1090l-39 0-12-25 6-9 51-28 14 9 2 11-12 35zM-111 1042l3 9-8 55-4 7-12 8-35-11-24-57 0-9 24-17zM-102 1103l6-38 4-3 10 0 24 37-1 12-11 4-24-5zM-233 1047l26 4 24 58-5 9-48 26-10-8-12-44 14-38 4-5zM-258 1162l-11 1-54-26-3-14 6-14 9-5 40 0 17 46zM-140 1190l-94-1-9-5-2-10 8-14 61-35 9-1 24 7 7 10 2 39zM-120 1187l-4-49 1-5 10-10 9-2 57 13 10 43-2 15-10 2-62-2zM-289 1186l-53 1-8-5-2-10 18-18 12-2 36 19 1 11zM-240 1292l-14-7-22-28-2-6 5-10 57-2 10 6-1 11-20 31-3 4zM-86 1253l-9 35-6 7-14 1-23-39 0-11 9-6 38 4zM-155 1328l-53-8-5-2-6-10 0-11 38-56 13-1 9 5 28 50 2 5-4 9zM-273 1298l-51 37-8 2-16-3-9-7 3-11 55-59 11 4 17 21 2 5zM-259 1302l10-1 17 10 7 14-5 16-6 5-46 21-12-2-13-12-3-12zM-100 1322l-12 71-5 4-11-3-16-50 3-11 22-21 7-3 11 6zM-220 1347l6-11 4-3 52 9 15 47-3 11-46 17-11-2-8-11zM-278 1378l40-15 9 9 4 29-8 8-44 7-7-10 0-18zM-319 1443l-34-43-5-41 0-5 7-7 24 5 30 28-1 48-11 14zM-211 1461l-9 5-68 0-10-6-1-5 10-19 7-5 64-12 11 10zM-197 1474l2-37 7-9 54-17 19 12-3 49-7 10-54 17-8-6zM-196 1521l-7 7-5 0-88-18-9-8 2-15 2-5 9-4 82 2 16 25zM-131 1567l-39-2-14-10-4-19 8-22 45-16 10 1 5 10-3 28-2 21zM-307 1525l10-3 85 18 5 3 3 12-30 24-11 1-67-31-2-10zM-314 1602l-4-8-2-16 1-6 9-6 56 23 6 8-5 30-7 8-5 1zM-150 1640l-14-6-2-6-2-44 11-6 17 2 9 7 0 12-11 34zM-234 1597l4-6 30-22 9-2 5 2 4 9 3 59-31 22-30-10-3-10zM-295 1682l-35-43-1-12 8-9 11 0 44 34-2 11-14 16zM-154 1659l-21 46-10 2-7-7-7-23 0-7 4-5 25-17 9 2zM-232 1740l-38-12-7-8-4-24 31-34 35 11 12 31-3 11zM-356 1721l39-19 18-2 7 8 4 21-15 23-10 5-45-8-3-12zM-190 1741l-11 31-10 3-5-3-5-15 2-11 16-14 11 3zM-297 1766l14-21 6-4 7 0 34 14 9 34-7 8-48 12-8-8zM-241 1865l-12-1-28-23-4-10 7-9 53-14 5 4 2 11zM-277 1918l-42-33 0-10 15-27 13 1 38 32-1 10-13 22zM-303 1956l-17 9-10-6-20-45 1-10 4-4 14-6 6 3 35 28 4 11zM952 1465l-21-9-19-19-11-25 0-24-17-9-18-18-7-13-5-18-40-33-79-57-21-21-18-9-22-5-5-11 3-5 66-50 144-67 53-28 33-22 29-25 26-29 22-31 18-32 17-49 10-64 3-112-10-126 6-73 9-53 19-66 33-76 33-59 82-131 13-28 3-18-7-31-7-11-14-5-18-2-17 3-41 15-105 51-116 65-265 164-72 54-100 86-68 68-39 46-263 358-61 91-51 82-14 33-9 40-5 30 4 27 8 10 15 10 21 25 11 23 20 145 11 135 12 61 48 115 38 102 53 95 36 41 34 21 44 18 71 19 64 6 39-7 54-16 29-4 25 2 17 6 22 18 15 23 40 114 12 19 12 7 11-1 10-9 2-12-4-26-15-47-37-76-18-46-7-22 1-13 11-15 30-16 7-13 19-19 13-7 25-5 5-23 8-14 18-18 17-9 6-8 1-23 10-26 10-11 22-15-5-15 0-28 10-24 18-18-9-21 0-27 11-25 16-17-10-17-5-26 6-27zM1173 80l-8-15 1-11 33-16 11 2 4 4-3 12-23 23-5 3zM1251 66l-26 42-10 0-17-8-3-5 3-10 37-37 11-3 5 3 3 5zM1105 88l6-9 34-15 9 6 11 28-25 32-10 4-9-6zM1062 148l-7-6-7-18 0-10 32-19 12 1 15 31-2 12zM1193 159l-10 0-25-9-7-8 3-10 23-24 28 9 7 10zM1022 127l12 0 13 29-18 27-16 1-9-5-14-27 5-10zM1156 212l-21-10-2-6 3-32 9-6 28 10 7 10-15 28zM959 217l-11-5-13-21-1-11 32-20 10 0 15 20 1 10zM1067 224l-9-5-16-28 14-25 8-5 52-8 7 11-2 37-3 7-19 18zM901 249l-10-5-12-18-1-11 31-21 11 0 15 20 1 11zM1132 259l-11 0-10-24 18-18 13 3 7 10zM1001 287l-30-56 4-9 28-24 7-2 19 2 20 32-28 57-11 6zM1034 304l-3-6 1-7 26-49 10-6 29 4 20 47 0 8-7 11-67 2zM946 322l-9-5-32-47 4-10 41-27 10 6 28 53-5 9zM834 332l9-28 5-6 40-20 9 5 34 50 0 5-9 7-65 9-10-4zM1100 330l-22 63-12 2-14-6-7-10-1-53 10-6 41 1zM1021 308l9 13 2 65-51 29-11 0-8-8-19-54 1-12 5-6 50-29 15-1zM927 358l7 6 13 38-1 10-71 32-9 0-13-8-4-10 6-55 8-5zM985 431l5-8 50-25 27 10 6 8-12 62-21 6-9-2-39-29zM934 521l-11 0-25-17-5-5-12-39 6-9 71-28 8 3 5 7 5 20zM951 557l-8-16 1-10 35-58 4-4 12 1 30 25-13 57-3 6-7 2-41 2zM1059 502l-3 47-5 4-13 0-10-7 9-42 8-8 7-1zM926 559l-83 34-8-6-7-21 56-47 6-3 7 2 34 24 2 9zM1022 570l10-5 15 1 9 5 3 31-5 10-9 2-11-6-12-27zM861 638l-7-7-4-16 0-5 7-7 74-33 5 0 9 6-4 44-3 6-6 3zM960 578l9-5 34 1 22 42 0 9-23 49-25-1-23-38-2-7zM1035 633l10-7 11 1 4 4 5 30-5 11-25 2-10-5-1-11zM935 641l11 5 15 26 2 7-4 6-11 11-68-7-9-5-10-18 0-10 8-5zM1065 727l-10 5-21-3-14-28 1-10 9-5 31 1 6 9zM937 709l4 11-7 33-12 3-30-13-6-27 2-9 10-4zM1021 740l-11 30-7 7-47-9-8-7 7-52 21-22 25 3 20 42zM1053 791l-27-3-6-8 10-30 4-5 7-2 20 3 5 10-4 31zM941 850l-6-52 8-16 9-2 53 12 3 10-4 35-20 23-11 3zM1054 846l-11 2-23-8-3-9 2-20 7-8 25 0 9 7 0 13zM875 818l8-7 34-8 8 10 0 28-3 4-10 2-29-9-7-8zM892 896l-11-2-23-25 3-10 13-10 31 8 7 7-2 10zM1033 902l-10 2-26-11-6-7-2-12 3-5 19-16 29 7 8 9-5 15zM961 938l-26 11-38-22 1-15 36-47 36 10 7 7 2 17-12 33zM1001 951l-11-2-11-11 7-24 9-7 19 6 7 10-5 10zM961 994l-7 4-10-5-2-25 5-10 22-9 13 9 4 11zM869 1034l-4-7-5-69 29-18 39 22 2 46-6 10-39 21-7 1zM837 1478l-1-6 5-9 37-22 10 6 14 21 0 6-8 7-36 8-9-2zM867 1501l29-8 10 2 4 9-1 28-10 5-23-3-11-21zM908 1560l-10 27-7 7-21-2-9-9 10-28 5-5 6-2 15 1 9 6zM899 1631l-2 10-10 12-24-4-8-8 6-28 8-8 18 2 7 3zM821 255l6-10 32-18 10 5 15 27-6 10-33 15-9-5zM767 295l-1-11 4-5 33-18 9 5 19 30-11 30-22 3-10-5zM745 366l-11-4-24-37 4-10 32-19 10 4 21 32-3 9zM832 424l-48-2-7-3-25-25-3-11 39-39 7-3 27 0 18 19 2 8-4 47zM709 491l7-76 6-9 15-6 28 24 3 12-28 65-10 2-15-5zM760 513l-5-9 1-5 27-63 6-2 43 5 5 10-2 6-47 62-9 5zM825 550l-9 3-5-2-12-10-4-10 52-73 9-5 5 1 6 7 13 43zM714 594l24-72 12-1 25 16-1 12-40 50-11 3zM741 618l2-12 44-52 11 1 16 15 4 12-6 9-55 32-6 1zM833 603l9 28-4 11-68 11-11-4 0-12 4-4 56-32 5-2zM782 683l-4-9 4-9 30-6 10 4 2 12-19 15-6 2zM766 688l9 4 4 11-4 8-11 3-8-7-2-10 6-8zM818 733l-6-8-2-22 25-20 11 0 6 9-2 6-18 30-9 6zM856 761l-14 5-5-2-5-10 22-38 9-6 5 1 6 8 3 26zM749 759l-2-10 2-4 9-8 5 0 43 27 5 7-1 6-23-4-24 7zM716 775l9-12 10 0 19 24-10 16-1 9 3 13-21-12-11-30zM825 788l32 22 4 7 3 21-21 19-11-4-11-14 10-16 2-11zM811 845l14 21-2 7-10 12-24 2-11-6-16-37 26 7zM759 891l-11 4-10-7 2-15 7-8 10 1 4 5 3 11zM844 943l-19-49 7-13 11-4 38 34 3 9-2 7-26 17zM740 933l-5-9 6-9 20-10 10 6-1 23-7 9-10-1zM784 909l6-8 22 0 14 31-3 12-29 7-9-2-4-10zM700 976l8-33 7-7 10 1 21 17-1 11-29 17-12-1zM781 971l9-7 50-8 7 10 4 56-10 6-51-3-5-8zM717 997l36-21 11-1 5 9 2 32-8 7-5 0-34-10-8-10zM708 1040l1-12 5-4 50 15 2 11-16 40-6 3-11-6zM779 1089l-6-3-3-12 14-33 54-1 9 6-1 11-4 4zM759 1316l-2-10 2-4 10-4 22 14 4 10-1 5-8 6-10 1zM696 1348l4-12 34-23 10 4 18 23-2 10-4 3-39 15zM785 1353l5-8 16-11 7-2 7 3 11 12 8 20 0 11-24 17-12 0zM784 1404l-55 12-7-10 2-24 44-20 9 7 9 23zM838 1451l-13 0-4-5-9-29 5-8 34-20 23 16 1 19zM800 1466l-88-2-6-10 11-18 7-5 64-14 10 3 3 5 10 26-2 10zM704 1507l-3-5 2-15 2-5 9-4 83 0 5 2 6 9-23 35zM835 1493l13 10 15 38-11 27-5 5-7 1-38-7-4-8-3-21 2-7 23-35 4-4zM709 1557l-6-8-3-19 8-7 5 0 68 16 5 32-7 9-6 3-7 0zM767 1598l-1 23-4 7-8 6-17-1-16-12-13-35 6-9 10 0zM791 1584l10-4 42 7 8 6 1 8-14 45-12 2-46-24 1-25zM793 1724l-11-3-22-24 1-48 4-8 8-3 47 20 5 5-2 32-4 7zM839 1668l7-9 31 7 2 11-3 22-5 8-9 1-24-9-2-10zM861 1731l-13 23-10 6-27-15-4-3-1-10 18-18 11-3 23 10zM681 1745l1-13 14-17 49-8 10 3 22 23 3 9-11 19-11 5-68-12-6-3zM838 1791l-22 17-9 2-28-20-4-8 1-10 14-19 11 0 38 25zM798 1831l-9 20-17 5-20-19 1-10 16-22 11 1 19 15zM755 1867l-24 24-6 0-8-10 13-28 8-6 9 4 8 10zM658 369l-1-11 3-4 31-22 10 5 30 43-6 11-12 6-30-1-7-4zM613 416l-9-10 4-10 31-23 10 4 15 21-3 10-18 16zM703 422l-7 63-3 6-25 6-6-4-3-6-7-52 26-26 21 3zM644 496l-25 8-8-6-8-18 6-40 8-8 16 3 7 9 7 43zM682 509l21-3 13 5 7 8-20 66-9 7-10-4-2-6-4-64zM624 518l28-10 12 3 6 72-6 10-6 1-9-6-26-58zM572 549l25-19 11 1 30 62-2 11-5 4-11-3-46-45zM653 618l22-4 20 4 20 15 7 13 2 5-11-14-19-5-13 1-22 10-16 17-7 21 5 20 10 9-11-6-9-12-8-24 4-21 8-15zM728 680l8 7 12 33-2 11-13 11-11-2-26-28 0-5 16-12 10-15zM680 717l33 32-1 10-6 7-10 1-22-8-12-25 1-12 5-3zM657 755l6 13-2 17-19 38-7 7-8 2-10-3-5-7 0-9 29-54 4-4zM662 867l-14-20 4-10 63-10 10 5 2 5-5 10-31 21zM706 872l13-3 6 8-1 10-6 8-10-1-6-7-1-6zM590 925l26-70 9-7 6 1 19 23 2 7-4 37-4 7-8 5-33 6-10-4zM663 890l6-8 16 1 14 24 0 11-11 5-23-6-4-9zM663 932l22 2 9 8-9 29-6 3-10-6-13-26zM583 952l55-10 20 32-1 12-12 4-58-17-7-8 0-5zM662 1014l0-13 7-11 7-4 17 2 11 12-2 17-12 11-13 0-11-7zM576 983l66 18 8 10-2 6-50 30-12-1-19-47 2-11zM601 1065l5-9 44-24 12 1 4 5-16 54-12 1-32-18zM667 1083l10-35 10-8 10 6 21 40-6 10-34 1-9-5zM570 1168l-7-28 23-55 12-1 42 26-4 47-5 8-52 7zM651 1147l2-29 5-8 41-1 9 5 0 11-4 4-37 22-6 2zM593 1273l-18-28 0-11 9-6 39 2 6 9-2 6-16 27-9 6zM613 1304l0-11 38-62 24 1 17 5 3 5-3 11-52 58-9 4zM650 1327l2-11 50-56 10-3 19 15 0 25-49 37-8 2-16-2zM636 1339l-4 13-44 38-5 3-11-5 0-12 36-54 11 1 10 6zM651 1349l9-3 20 5 29 29 1 42-13 20-5 1-9-4-27-34-9-46zM602 1418l-9-7 3-12 25-21 5-3 11 4 3 15-1 7-5 5zM619 1449l-11-5-1-6 6-10 30-12 5 1 10 10 2 11-4 4zM691 1460l3 14-5 14-4 3-64-8-9-8 3-11 6-3 55-8zM608 1512l0-12 11-5 50 7 6 2 4 11-8 8-20 7-8-1zM623 1605l3-34 22-26 27-10 12 3 5 17-5 14-50 47-10-2zM695 1592l9 18-3 12-30 7-10-4-2-5 3-10 23-20zM681 1660l-6-8 4-11 13-3 11 3 2 6-4 10-10 7zM580 1686l-8-6-1-5 27-47 4-4 10-2 12 5 4 3 1 9-7 26-5 7-16 9zM702 1699l-7-8 0-11 3-5 32-27 9-3 5 3 5 9-3 33-8 6zM633 1672l7-22 5-3 11 4 26 32 3 19-8 16-9 5-10-6zM603 1760l-6-8 3-10 25-9 32-1 10 7 2 4 0 17-7 14-9 6zM731 1831l-61-33-1-11 12-20 71 10 8 6 0 11-20 31zM575 1783l-1-11 4-5 11-1 55 25 6 10-19 30-9 5-5-1zM699 1878l-18 1-34-34-3-4 2-10 14-17 10 0 47 26 0 11-10 21zM604 1869l18-19 8-1 6 3 34 37-6 19-9 7-27 1-23-40zM712 1906l-23 19-6 0-5-3-2-12 8-16 21-4 5 5zM623 1949l0-10 5-7 34-4 16 23 1 14-23 19-13 1zM583 458l-16-10-4-12 18-18 11-2 7 7-4 27-7 8zM554 476l7-10 5-1 23 15 11 23-1 11-8 5-10 0zM471 526l4-6 11-3 8 6 2 11-4 5-11 2-8-5zM518 531l3-11 11-2 21 19 2 11-5 6-10 1zM471 556l11-2 43 19 1 11-7 13-11 2-28-13-13-20zM535 598l12-27 9-5 5 0 51 48 3 11-4 5-11 2-58-25zM494 646l-49-7-7-14 2-11 34-13 29 9 4 3 3 10-7 19zM515 648l7-23 8-8 65 26 7 9-6 10-6 2-64-2-6-3zM523 716l-9-21 1-12 6-8 69 1 10 6 0 6-7 9-60 21zM548 770l-18-24 1-12 66-25 11 2 3 5-3 11-49 42zM594 812l-16-5-12-14-2-11 52-46 11-1 7 9-2 6-30 57zM461 840l-10-3-3-5-11-35 2-10 71-33 10 1 12 17 1 10zM517 883l-22-1-7-4-15-16-2-11 67-56 11-2 14 15 3 9zM561 921l-25-24-4-10 42-59 6-4 7 0 17 9 3 6 0 6-28 72-8 6zM549 988l-71-25-5-4-1-10 17-47 7-7 24 4 49 47-4 24-7 13zM518 1009l-35 25-7-2-13-9-5-9 12-30 8-6 37 12 7 8zM490 1049l51-43 10-2 7 6 15 47-9 8-57 10-15-16zM489 1074l7 11 0 5-5 13-4 3-27-3-8-6 0-10 4-4 23-13zM510 1124l-8-8 8-26 46-11 10 4 2 11-16 37-10 2zM549 1149l5 19-9 7-50 5-10-5 0-11 19-27 7 0zM448 1234l50-3 5 1 6 10-26 39-28 3-10-5-2-5 0-31zM502 1294l-3-10 1-5 31-45 13-5 10 5 34 57-3 10-5 2-28 6zM471 1295l17 2 8 8 1 49-6 10-12-2-4-5-13-48 3-11zM518 1314l13 2 8 8-8 33-9 8-11-5-2-6 0-29 4-9zM542 1366l13-44 19-6 11 5 0 12-23 36-11 5zM449 1482l-9-9-2-13 3-19 9-18 15-13 19-8 20 0 19 7 3 9-4 25-19-4-19 4-14 11-4 9-2 9 4 14zM564 1419l18 15 10 22-5 29-5 6-10 6-8 0-26-12 4-14-2-9-7-11 7-32 11-3zM503 1505l18-4 10-6 26 13 2 9-7 32-19 11-16-1-6-3-3-6zM568 1536l6-22 11-4 8 7 3 21-6 10-18-2zM590 1563l12 3 9 9 0 17-5 10-11 0-16-23 0-12zM564 1610l-13-2-4-6-5-24 9-8 11 5 12 18 0 11zM511 1584l11-5 5 3 8 19-3 11-11 3-10-5-2-7zM486 1620l-10 2-7-8 6-27 9-8 11 5 2 6-1 22zM494 1631l15-7 11 3 7 6-1 30-6 9-11-1-4-4-11-26zM539 1669l2-41 11-6 22 1 5 10-1 6-19 31-10 5zM560 1693l12 10 10 31-3 16-14 10-5-1-7-8-9-47 4-11zM480 1748l6-45 8-5 10 0 5 10-1 54-8 6-5-1-12-11zM472 1861l-14-4-16-14-4-11 45-47 11-3 5 3 3 11-18 58-3 4zM555 1786l11 4 39 52-3 10-14 11-24 3-7-9-11-58 4-11zM495 1858l18-58 3-5 11-3 7 9 10 65-9 7-28 1-11-6zM561 1882l22-6 7 1 5 5 19 39 0 9-5 8-33 8-10-4-9-50zM508 1956l-10-8 0-6 10-52 8-4 23 0 6 9 6 46-8 7zM588 1992l-11-4-4-24 9-7 21-4 9 2 9 17 0 10-9 6zM525 2008l-7-9-3-21 3-9 29-10 11 4 5 26-3 9zM455 1998l10-32 19-7 13 6 5 7 4 29-5 11-37 0-5-2zM419 589l13-20 8-6 12 5 9 15-3 9-25 9-10-2zM384 654l-4-10 2-5 18-26 11-5 7 4 12 26-2 12-18 17-10-1zM424 704l-7-8-1-14 27-29 52 5 9 7-1 21-5 8zM343 703l1-11 19-25 10-5 27 18 4 8 3 21-9 21-10 6zM403 750l12-26 8-6 77-11 7 7 6 14 1 5-6 9-74 32-12-1-15-14zM304 756l1-11 19-25 10-5 42 30 5 9-5 8-34 21zM341 843l-4-6 0-7 9-30 4-6 42-27 9 3 21 21 16 52-6 8-43 23zM376 882l5 10-7 37-29 13-55-34-5-10 25-41 11-7 11 1zM458 946l-51-2-15-9-4-10 7-38 52-29 9 3 23 28-17 52zM379 943l15 11 5 46-5 10-17 9-13-5-22-38 5-17 6-6zM418 1007l-7-9-1-35 10-5 36 3 6 9-1 5-17 37-11 1zM397 1023l10-6 5 1 10 4 7 8-7 26-7 7-6 0-8-7-8-25zM433 1065l7-26 7-7 10 2 16 12 0 11-23 16-11 0zM351 1054l16-22 11 2 12 27-1 10-9 5-24-12zM330 1103l0-10 5-13 10-6 24 11 6 9-4 9-5 2-23 5-6-1zM436 1109l-10 14-9 3-16-3-11-12 0-17 11-13 16-3 15 8 5 16zM463 1149l-17-21 3-10 9-3 28 5 4 10-10 18-8 5zM340 1143l-3-12 3-6 6-3 28-5 7 8-2 10-18 20-11-3zM421 1143l9-6 9 4 22 25 2 12-4 4-27 3-10-6zM367 1171l26-32 5-1 9 6 2 30-5 10-31 1-6-8zM382 1241l10-6 33 0 6 10-1 38-14 7-10 0-23-39zM314 1250l1-6 9-6 35 0 34 55 0 11-13 9-10 1zM417 1303l15-6 12 1 20 62-3 12-6 2-11-5-32-50-2-6zM370 1340l4-8 13-9 11-1 36 54 0 12-11 5-5-3-44-38zM367 1385l7-9 11 2 25 21 3 5-3 12-12 1-26-11-5-5zM346 1432l8-12 9-4 30 12 6 10-1 6-11 5-31-4-9-7zM317 1488l-5-18 3-10 15-7 55 8 9 8-3 11-6 3-58 8zM325 1534l-6-23 9-8 59-8 11 5 1 6-6 10-54 24-5 1zM437 1530l0-22 4-11 10-3 31 7 8 10 5 44-3 4-14 5-24-7-6-5zM369 1567l-12-6-2-10 2-4 35-18 10 1 5 9-4 9-23 17zM425 1623l-3-4 0-11 22-32 8-5 5 0 7 8 0 6-12 33-17 7zM344 1626l-14-28 2-18 8-9 34 11 31 33 5 22-8 10-10 2-16-4zM438 1638l17-7 22 5 17 35-1 12-4 3-11-1-39-31-4-4zM417 1678l2-10 10-4 27 19 4 11-9 8-19 3-7-7zM350 1704l-9-6-1-10 15-13 11-2 5 4 0 12-10 15zM389 1745l-12-2-8-26 18-33 11-5 9 7 8 25zM446 1721l11-8 10 3 3 13-6 9-10 0-6-7zM433 1755l-18 4-8-7 2-10 11-13 10 0 8 9 2 10zM401 1799l-2-16 7-7 53-16 12 2 4 5-3 12-45 43-11-4zM307 1777l10-9 50-7 8 2 6 6 5 18-6 11-70 33-9-6-2-10zM322 1852l0-11 5-3 56-28 10 0 4 3 13 18-3 10-52 48-7-1-14-11zM404 1927l-34-23 2-12 44-42 10-3 21 18-1 9-29 53zM461 1952l-23-15-5-9 1-5 23-44 5-5 19 1 8 4 6 11-9 50-8 9zM339 1971l22-48 12-1 23 15 1 10-15 41-11 2-25-10zM396 1992l13-43 7-7 10 1 24 20-7 35-8 8-31-6zM268 813l-5-10 3-6 23-29 11 2 33 26-9 35-10 9-11-2zM225 861l1-11 19-26 10-4 36 24 5 10-19 32-10 5zM174 931l1-11 35-47 11 2 37 28-1 11-18 23-56 0zM268 920l9-4 6 2 46 30 5 9-8 18-51 29-10-8-14-45 2-10zM127 1024l-10-3-4-9 2-5 29-43 4-4 11 1 5 10-3 42zM237 952l4 6 17 58-12 15-7 4-31 2-7-2-25-20 2-60 9-6zM354 1024l-13 19-9 4-37-20-5-9 5-10 33-19 10 5zM267 1083l-13-41 12-13 9 0 51 31 1 10-11 20-39 0zM162 1027l10 2 16 11 4 9-1 4-24 57-35 11-12-8-4-7-8-60 8-7zM94 1110l-30 5-7-10 21-39 9-5 9 4 6 33 0 5zM244 1054l14 45-12 37-10 8-48-26-5-9 24-58 26-4 7 2zM254 1150l17-46 40 0 5 1 8 11 1 16-7 8-49 23-11-1zM135 1186l3-51 34-12 65 37 5 6 3 14-2 4-9 5-89 2zM116 1191l-67 3-10-2-2-15 10-43 57-13 5 0 11 8 4 9-2 44zM284 1176l6-9 38-16 21 17 3 9-2 5-8 5-47 1-10-6zM230 1291l-23-35-1-11 10-6 57 2 5 10-2 6-22 28-14 7zM95 1288l-9-35 5-9 38-4 9 6 0 11-23 39-14-1zM133 1309l-4-9 2-5 28-50 9-5 13 1 4 4 36 58-8 15-53 10-10-3zM269 1287l19-26 11-4 55 59 3 11-9 7-16 3-8-2-51-37zM310 1341l-3 12-13 12-12 2-46-21-6-5-5-16 7-14 5-5 17-6zM112 1393l-12-71 6-11 7-2 6 3 25 26-16 56-11 3zM211 1404l-8 11-11 2-46-17-3-11 15-47 47-9 9 3 6 17zM284 1388l0 18-7 10-44-7-8-8 4-29 9-9 40 15zM309 1442l-13-20 1-42 30-28 24-5 7 7 0 5-8 47-27 34-9 4zM207 1434l3-10 8-5 64 12 7 5 8 13 1 11-10 6-73-1-6-9zM184 1497l-10 1-54-20-6-49 6-10 10-6 9-1 54 19 5 36zM193 1509l13-25 9-6 77 0 9 4 4 15 0 5-9 8-88 18-9-2zM125 1558l-5-49 5-10 10-1 45 16 8 27-4 14-7 7-40 6-6-1zM307 1525l7 19-6 8-68 29-36-26 3-12 5-3 85-18zM265 1636l-5-1-7-8-5-25 2-10 55-25 11 1 4 10-3 21zM145 1637l-9-22-5-28 9-7 23-1 6 11-3 38-7 10-9 2zM243 1645l-7 7-26 7-31-22 3-59 4-9 5-2 9 2 30 22 4 6zM289 1682l-19-19-2-11 44-34 11 0 8 9-1 12-29 39zM175 1705l-21-46 2-6 9-4 10 1 24 20-7 30-7 7zM206 1715l-3-11 12-31 29-11 12 3 25 31-7 29-36 15-12-3zM361 1737l-3 12-6 2-45 5-19-27 4-21 7-8 18 2 39 19zM190 1741l2-6 11-3 16 14 2 11-5 15-10 3-5-3zM297 1766l-10 40-11 3-47-15-2-11 9-28 34-14 7 0 6 4zM241 1865l-23-42 2-11 12-3 51 16 2 11-4 5-28 23zM271 1917l-17-26-1-10 38-32 13-1 15 27 0 10-36 30zM292 1945l-6-9 0-6 39-33 13-1 11 8 1 10-24 50-12-1z" fill="#f4c244" stroke="#d2a43a" stroke-width="6" fill-rule="evenodd"/><path d="M-4.3,112.2C-5.3,128.2 -4.8,143.2 -3.7,152.2C-2.8,168.2 -1.3,180.2 0.0,185.2C1.3,180.2 2.8,168.2 3.7,152.2C4.8,143.2 5.3,128.2 4.3,112.2Z" fill="#ebb636" stroke="#d2a43a" stroke-width="0.6"/><path d="M-20.8,73.7C-15.3,83.2 -10.3,94.2 -5.3,110.2L-3.8,109.2C-8.3,93.2 -13.3,81.2 -20.8,73.7Z" fill="#f4c244" stroke="#d2a43a" stroke-width="0.5"/><path d="M20.8,73.7C15.3,83.2 10.3,94.2 5.3,110.2L3.8,109.2C8.3,93.2 13.3,81.2 20.8,73.7Z" fill="#f4c244" stroke="#d2a43a" stroke-width="0.5"/></g>
<g transform="translate(570.86,722.18) scale(0.7681)"><path transform="scale(0.1)" d="M-952 1465l12 19 5 26-5 26-10 17 16 17 11 25 0 27-9 21 18 18 10 24 0 28-5 15 22 15 10 11 10 26 1 23 6 8 17 9 18 18 8 14 5 23 25 5 13 7 19 19 7 13 30 16 11 15 1 13-7 22-18 46-37 76-15 47-4 26 2 12 10 9 11 1 12-7 12-19 40-114 15-23 22-18 17-6 25-2 29 4 54 16 39 7 64-6 71-19 44-18 34-21 36-41 53-95 38-102 48-115 12-61 11-135 20-145 11-23 21-25 15-10 8-10 4-27-5-30-9-40-14-33-51-82-61-91-263-358-39-46-68-68-100-86-72-54-265-164-116-65-105-51-41-15-17-3-18 2-14 5-7 11-7 31 3 18 13 28 82 131 33 59 33 76 19 66 9 53 6 73-10 126 3 112 10 64 17 49 18 32 22 31 26 29 29 25 33 22 53 28 144 67 66 50 3 5-5 11-22 5-18 9-21 21-79 57-40 33-5 18-7 13-18 18-17 9 0 24-11 25-19 19zM-1183 82l-28-26-3-12 4-4 11-2 33 16 1 11-5 11-3 4zM-1253 60l2-12 5-3 11 3 37 37 2 5-2 10-17 8-10 0zM-1106 94l-18 38-11 2-27-31-2-11 13-26 12-1 32 18zM-1099 142l-9-9 1-6 15-31 12-1 32 19 0 10-10 21-9 3zM-1196 155l-14-22 0-12 27-12 6-1 6 4 20 25-3 10-4 3-30 10zM-1028 125l33 17 5 10-18 30-16 2-10-5-13-23 13-29zM-1161 210l-17-26 0-12 28-13 10 1 5 9 0 33-16 9zM-959 217l-33-27 1-10 10-17 10-5 33 18 5 10-15 26zM-1099 226l-19-18-3-7 0-44 11-5 51 10 15 23 0 12-18 26zM-932 229l-5-9 2-6 11-17 9-5 33 19 5 9-14 24-10 5zM-1137 255l-12-25 2-6 12-7 12 3 12 15-6 19-9 7zM-1005 291l-12 0-4-4-28-57 16-28 9-6 21 2 31 28 0 10zM-1039 308l-65 0-10-6-3-15 20-47 29-4 10 6 26 49 1 7zM-951 320l-36-23 0-11 31-51 12 0 38 29-1 11-34 46zM-847 350l-10 4-65-9-9-7 0-5 34-50 9-5 40 20 5 6 9 28zM-1078 393l-22-63 5-9 47 1 5 10-4 53-19 10zM-1005 304l56 31 6 11 0 7-19 54-8 8-11 0-51-29 2-65 9-13zM-927 358l69 9 5 8 4 51-2 8-6 5-18 5-71-32-1-10 13-38zM-985 436l-7 17-39 29-9 2-16-3-8-9-9-56 6-8 22-9 10 0 49 28zM-974 457l-2-9 5-15 5-7 8-3 71 28 6 9-12 39-5 5-31 18-10-5zM-961 562l-41-2-7-2-3-6-13-57 36-27 10 5 36 63-8 21zM-1056 549l-3-47 3-4 10-3 6 3 12 42-4 11-14 3zM-931 556l-1-11 5-8 37-21 58 44 4 6 0 7-10 17-5 3-7 0zM-1021 575l-18 38-9 1-10-6 1-32 5-9 25-1zM-932 629l-6-3-3-6-5-38 4-10 6-2 79 33 7 7-4 21-7 7zM-952 628l-21 41-9 6-14 1-6-2-5-5-19-48 23-47 34-1 9 5 2 5zM-1023 664l-2 5-10 5-25-2-5-11 5-30 9-5 12 2zM-864 653l4 8-1 5-10 18-9 5-68 7-15-17 2-7 20-30zM-1065 727l-2-31 6-9 31-1 9 5 1 10-14 28-27 2zM-898 703l10 4 2 4-6 32-30 13-12-3-7-39 9-7zM-1004 694l9-6 19-1 18 17 10 52-3 10-46 11-10-2-14-35 0-8zM-1058 790l-6-9-1-31 9-6 22 1 13 30-1 10-9 5zM-973 863l-11-3-17-16-3-7-4-40 8-7 53-10 7 6 5 12-4 46-7 10zM-1054 846l-7-30 5-11 25-3 10 4 4 25-3 9-29 9zM-876 830l-7 8-29 9-10-2-4-9 4-29 11-4 28 8 8 7zM-910 874l-2-10 3-4 29-11 11 2 11 13-3 11-25 22-11-5zM-1033 902l-15-33 8-9 29-7 22 21-4 16-30 14zM-979 899l4-21 34-13 7 0 36 47 1 15-33 21-11 0-20-10-6-6zM-1001 951l-18-22 0-12 18-9 11 1 11 29-17 14zM-970 986l-16-17 4-11 13-9 26 13 1 25-6 10-6 1zM-878 1040l-46-22-6-10 2-46 39-22 25 13 5 11-6 63-4 7zM-849 1487l-9 2-41-11-3-10 19-26 11 1 35 24 0 11zM-864 1507l-12 27-23 3-10-5 0-33 8-6 28 5zM-898 1587l-10-27 5-9 27-1 5 5 10 28-9 9-21 2zM-898 1629l4-19 7-3 18-2 8 8 6 28-8 8-24 4-10-12zM-823 261l-17 22-10 0-32-18 0-12 18-25 11 1 30 20zM-792 328l-28-2-11-25 1-10 18-25 9-5 33 18 5 11zM-751 363l-26-26 2-10 23-30 11 0 30 22-1 11-27 35zM-838 415l-4-47 2-8 18-19 27 0 7 3 39 39-3 11-25 25-7 3-42 3-6-1zM-711 495l-19 8-10-2-28-65 3-12 28-24 15 6 6 9 8 71zM-779 522l-9-5-47-62-2-6 5-10 43-5 6 2 5 5 23 63-5 9zM-880 504l13-43 6-7 10 1 54 71 1 10-15 15-10 2zM-717 600l-12 2-5-3-40-50-2-6 5-11 21-11 12 1 23 66zM-751 624l-65-37-1-10 6-12 18-12 10 4 40 49 2 12zM-824 599l61 34 4 4 0 12-11 4-68-11-4-11 5-22 4-6zM-799 692l-25-17 2-12 4-3 31 3 8 6 0 10zM-756 692l2 11-5 9-5 2-11-3-4-8 4-11 9-4zM-828 732l-22-34 0-11 4-4 11 0 25 20-4 26-9 5zM-877 745l5-31 9-4 5 2 25 37 0 11-9 6-5-1zM-763 780l-25-7-22 5-1-6 5-8 38-26 10-1 9 8 2 9zM-714 783l-11 30-21 12 3-13-1-9-10-16 15-20 9-5 5 1 9 12zM-823 788l-10 25 2 10 10 16-11 14-11 4-21-19 3-21 4-7zM-811 846l23 5 26-7-21 42-25 1-9-5-8-16zM-764 882l7-16 10-1 7 8 2 15-10 7-11-4zM-844 943l-12 1-22-13-6-11 3-9 38-34 11 4 7 13zM-758 944l-10-4-4-23 1-6 10-6 20 10 6 9-5 9zM-782 944l-7 7-5 0-29-7-3-12 14-31 17-2 9 5zM-704 981l-12 1-25-14-6-9 1-5 21-17 10-1 4 3 11 30zM-785 1017l-5 8-5 2-52-1-5-10 7-56 11-4 49 11 4 9zM-716 1003l-8 10-39 10-5-2-4-10 4-32 10-5 5 2 31 17zM-738 1091l-12-1-3-5-14-41 8-8 45-12 5 4 1 12zM-779 1089l-63-28-6-10 1-5 9-6 54 1 4 5 10 34zM-776 1334l-5 1-9-5-5-8 1-6 20-16 10-1 7 7 0 5zM-712 1365l-12 2-36-17-2-10 2-4 20-22 11 1 33 26-3 12zM-799 1390l-10 7-6-2-21-13-5-10 13-30 15-10 23 13 5 8zM-786 1392l13-28 11-1 38 19 2 24-2 6-11 5-44-10-5-3zM-875 1424l1-19 23-16 34 20 5 8-9 29-11 7zM-805 1465l-4-4-2-10 10-26 7-7 70 13 7 5 11 18-6 10-5 2zM-779 1524l-11-4-16-25 0-11 4-4 88-2 9 4 4 15-3 10zM-824 1492l27 39-1 28-1 5-8 5-40 4-15-28 0-8 18-38 14-8zM-773 1583l-13-12 5-32 68-16 10 3 3 10-5 18-61 29zM-724 1577l10 0 6 9-13 35-16 12-12 2-9-3-8-11-1-23zM-781 1599l2 18-1 7-5 4-41 20-12-2-14-45 4-12 52-8zM-819 1702l-4-7-2-32 46-25 6 0 8 3 4 8 2 44-4 8-19 20-11 3zM-836 1694l-7 7-19 7-9-1-5-8-3-22 2-11 25-7 11 3zM-848 1754l-13-23 3-10 29-10 20 17 3 9-5 8-27 15zM-690 1754l-74 11-14-19-1-9 28-30 51 6 7 5 11 14 2 8-4 11zM-816 1808l-24-22 1-8 4-4 34-21 6-1 9 5 12 22-5 11-28 20zM-789 1851l-9-20-1-10 19-15 11-1 16 22 1 10-2 4-18 15zM-731 1891l-24-24 0-6 8-10 9-4 8 6 13 28-8 10zM-679 395l-27 4-7-2-16-11 0-11 32-42 11 1 29 24-1 11zM-613 416l-30 8-18-16-3-10 15-21 10-4 34 28-2 11zM-699 412l21-3 26 26-7 52-3 6-6 4-19-2-6-4-3-6-7-63zM-647 487l9-49 15-6 11 3 9 39-8 24-8 6-6 0-19-8zM-679 513l-3 69-2 6-10 4-9-7-20-66 7-8 13-5 16 1zM-622 524l-27 64-9 6-6-1-6-10 6-72 12-3 23 7zM-571 555l-49 50-11 3-5-4-2-11 30-62 11-1 13 6 9 8zM-635 632l10 19 1 21-7 20-9 12-3 2-5 3-3 1 10-9 5-20-7-21-16-17-22-10-13-1-19 5-11 14 12-21 17-12 16-4 26 4zM-722 680l10 15 16 12 0 5-26 28-11 2-13-11-2-11 12-33 8-7zM-674 717l11 5 2 6-11 27-6 6-18 6-10-1-8-12 3-9 26-25zM-645 755l33 58 0 9-11 9-12-1-7-7-19-38-2-17 2-8 4-5zM-684 869l-38-22-4-4 1-11 10-5 63 10 4 10-11 17-8 4zM-701 881l-7 13-10 1-6-8-1-10 6-8 5 0 8 3zM-597 933l-39-5-8-5-4-7-4-37 2-7 19-23 6-1 9 7 25 64-2 11zM-661 913l-9 7-18 3-6-1-7-9 12-26 4-4 11-2 9 4zM-656 942l-13 26-10 6-6-3-9-23 3-11 28-5zM-580 957l0 8-7 8-58 17-12-4-2-6 16-34 5-4 49 7zM-666 1021l-11 7-13 0-7-4-8-15 5-16 15-8 16 5 7 11 0 13zM-569 988l2 11-15 42-9 7-57-31-2-6 8-10 61-18 5 0zM-606 1075l-32 18-12-1-16-54 4-5 12-1 44 24 5 9zM-669 1092l-9 5-29 0-9-5 0-11 23-39 6-2 10 8 10 35zM-579 1172l-48-5-8-5-1-5-4-47 48-27 9 7 20 50-4 24-3 4zM-661 1153l-43-24-6-9 2-6 9-5 41 1 5 8 3 23-1 6zM-602 1278l-9-6-16-27 0-11 9-6 39 2 5 10-1 5-18 28zM-613 1304l-18 11-9-4-52-58-3-11 3-5 35-7 11 6 34 62zM-658 1334l-16 2-8-2-46-33-4-9 0-15 4-9 16-11 10 3 50 56 2 11zM-636 1339l4-7 13-9 11-1 36 54 0 12-11 5-5-3-44-38zM-647 1359l-9 46-27 34-9 4-5-1-13-20 1-42 35-32 19-1 4 2zM-634 1406l-5-5 0-17 7-8 6-1 30 24 3 12-9 7zM-656 1442l-4-4 2-11 10-10 5-1 30 12 6 10-6 10-6 1zM-691 1460l15-7 55 8 9 8 0 6-9 8-64 8-7-8-2-13zM-643 1529l-8 1-20-7-8-8 1-6 9-7 50-7 11 5 1 6-6 10zM-627 1614l-10 2-5-3-45-44-5-14 5-17 12-3 22 7 27 29 3 34zM-685 1590l26 25-2 10-5 3-29-3-9-8 6-21 3-4zM-691 1664l-14-12 2-11 5-3 14 1 8 7-2 11-7 6zM-585 1686l-32-14-5-7-7-31 11-11 11-1 9 6 25 42 1 10-3 4zM-738 1696l-8-6-2-5-1-28 5-9 5-3 9 3 32 27 3 10-3 11-4 3zM-633 1672l-30 50-10 0-10-12-2-8 3-19 26-32 11-4 8 8zM-653 1780l-9-6-7-14 0-17 6-8 12-4 24 1 27 10 3 10-6 8zM-731 1831l-9-6-20-31 0-11 8-6 71-10 12 20-1 11zM-617 1835l-5 1-9-5-17-24 0-12 59-29 11 1 4 5-1 11zM-707 1872l-10-21 0-11 47-26 10 0 14 17 2 10-3 4-34 34-18-1zM-623 1911l-11 7-21-3-9-7-5-13 2-12 37-34 12 3 14 17zM-689 1925l-23-19 2-11 11-5 15 4 8 16-2 12zM-643 1985l-13-1-23-19 1-14 16-23 29 2 5 2 5 7 0 10zM-593 455l-6-32 3-4 10-3 19 15 4 12-20 15zM-577 515l-9 6-9-4-6-8 1-6 11-23 17-13 11-1 7 10-2 5zM-473 536l-14 6-9-8 0-5 5-9 11-3 9 9zM-535 552l-10 4-5-2-5-6 0-6 18-21 11-3 5 2 3 11zM-467 566l-13 20-28 13-11-2-7-13-1-5 6-9 39-16 11 2zM-537 603l-63 29-11-2-4-5 3-11 51-48 9 2 8 8 8 16zM-503 642l-7-19 3-10 25-12 8 0 29 9 8 9-5 15-9 7-43 5zM-520 659l-70 5-10-6-2-6 7-9 65-26 8 8 7 23zM-528 719l-65-22-7-9 0-6 10-6 69-1 6 8 1 12-6 17zM-554 771l-54-44-3-5 3-11 11-2 66 25 1 12-13 20zM-598 810l-34-60-2-6 7-9 11 1 52 46-2 11-12 14-10 5zM-465 837l-68-55 1-10 8-14 9-5 72 31 7 8-1 5-11 35-7 7zM-517 883l-49-66 3-9 10-12 10-3 69 53 4 11-18 21-7 4zM-571 923l-8-6-28-72 0-6 3-6 17-9 7 0 6 4 42 59-4 10-25 24zM-549 988l-9-5-6-10-5-27 49-47 24-4 7 7 17 47-1 10-5 4zM-521 1004l-1-6 7-8 37-12 8 6 12 30-5 9-20 11-7-2zM-492 1059l-10 13-11 4-57-14-3-11 18-45 9-3 5 3 47 38 4 5zM-479 1070l27 17 1 5-4 9-26 5-10-3-5-18 7-11zM-548 1134l-7-7-13-33 2-11 10-4 46 11 7 20-2 11zM-511 1137l7 0 6 5 13 22 0 11-10 5-56-7-3-12 5-12zM-443 1243l-2 36-10 5-28-3-26-39 6-10 5-1 44 1 6 2zM-508 1297l-44 12-28-6-5-2-3-10 34-57 4-4 10-1 9 5 31 45 1 10zM-462 1303l-13 54-4 5-12 2-6-10 1-49 8-8 8-2 15 3zM-510 1320l1 34-2 6-11 5-9-8-8-33 3-5 13-5 10 2zM-551 1374l-11-5-23-36-2-6 7-10 20 2 8 8 10 33 0 6zM-468 1486l3-23-11-15-9-5-17-4-20 4-4-25 3-9 19-7 20 0 19 8 15 13 10 21 0 29-9 9zM-545 1416l8 9 4 26-7 11-2 9 4 14-26 12-13-2-10-10-6-23 7-23 18-17zM-508 1550l-3 6-16 4-25-11-7-32 2-9 26-13 10 6 18 4zM-572 1546l-12 3-11-5-1-20 3-7 8-7 11 4 3 5 3 17zM-579 1567l0 12-12 19-4 4-11 0-5-10-1-12 4-9 18-8zM-574 1604l0-11 12-18 11-5 6 2 3 12-9 24-13 2zM-509 1603l-2 7-6 4-10 1-5-3-3-11 8-19 5-3 11 5zM-496 1612l1-28 11-5 9 8 6 27-2 5-10 3zM-493 1636l-12 31-4 4-11 1-6-9-2-25 4-9 20-5 7 3zM-549 1675l-10-5-19-31-1-6 5-10 22-1 11 6 3 36-1 5zM-548 1693l4 11-9 47-7 8-5 1-14-10-3-16 10-31 5-6 13-6zM-483 1756l-12 12-5 0-8-6-1-54 1-6 9-5 8 2 7 9 4 40zM-481 1858l-21-62 3-11 5-3 11 3 45 47-4 11-16 14-14 4zM-547 1793l-12 70-11 3-24-6-10-13 1-10 37-47 11-4zM-496 1868l-11 6-28-1-9-7 10-65 7-9 11 3 3 5 18 58zM-558 1886l-8 56-10 4-33-8-5-8 0-9 24-44 24 2zM-508 1956l-40-11-3-9 8-46 9-5 22 2 6 8 8 53zM-588 1992l-29-6-6-9 11-22 9-2 26 6 4 10-4 19zM-532 2008l-24-7-7-7 2-25 8-9 30 6 8 7-5 31zM-459 2010l-36 4-10-6 3-36 5-7 13-6 19 7 10 32zM-423 599l-10 2-25-9-3-9 9-15 12-5 6 4 15 22zM-405 668l-10-4-16-20 9-27 11-9 11 5 20 31-4 10zM-494 695l-7-5-4-20 5-10 5-2 52-5 27 29-1 14-7 8zM-382 734l-12 1-12-19 2-28 4-8 22-16 11-1 23 29 1 11zM-407 759l-15 14-12 1-74-32-6-9 1-5 6-14 7-7 77 11 8 6 11 22 1 4zM-336 781l-13 0-27-19-5-8 5-9 42-30 10 5 21 30-5 10zM-389 874l-43-23-6-8 16-52 21-21 9-3 42 27 4 6 9 30 0 7-4 6zM-327 849l17 8 23 36 1 11-53 37-11 0-24-12-6-43zM-462 941l-17-52 23-28 4-3 10 1 47 28 7 38-4 10-15 9-44 4-7-2zM-353 953l10 18-1 10-24 36-16 0-10-7-5-10 5-46 15-11zM-439 1014l-8-7-14-32 1-10 9-5 37-1 6 10-5 35zM-393 1031l-12 30-4 2-10-3-10-24 2-11 20-8 10 6zM-439 1073l-11 0-23-16 0-11 20-14 10 3 9 25-1 10zM-352 1060l-28 16-9-5-2-5 9-28 9-6 10 4 10 12zM-337 1109l-34-6-4-9 2-5 22-14 12 0 10 23zM-436 1093l12-13 7-2 16 3 11 13 0 17-11 12-16 3-15-8-4-9zM-472 1153l-8-5-8-13-1-11 8-6 28-3 4 3 3 10-17 21zM-355 1155l-11-4-13-16-2-10 7-8 34 8 3 14zM-421 1174l-6 9-26 1-10-6-1-6 25-31 9-4 9 6zM-367 1177l-6 8-5 1-26-2-5-10 2-30 9-6 9 4 20 25zM-381 1246l-25 44-10 0-14-7-1-38 6-10 39 2zM-366 1311l-9 4-5-2-13-9-1-6 31-56 10-5 35 3 3 4-2 12zM-410 1313l-34 56-11 5-6-2-3-12 20-62 12-1 15 6zM-370 1340l-4 12-44 38-5 3-11-5 0-12 36-54 11 1 10 6zM-367 1401l-31 16-6 1-9-7 3-12 30-24 11 4zM-350 1442l-37 7-11-5-1-6 6-10 30-12 5 1 9 10 2 11zM-321 1491l-64-8-6-3-3-11 9-8 55-8 7 2 8 5 3 10-2 13zM-334 1541l-59-25-6-10 1-6 11-5 65 11 3 12-6 16zM-448 1552l-23 12-21-5-4-9 9-45 36-11 10 3 4 11 0 22zM-380 1565l-26-21 0-10 4-4 10-1 35 18 2 4-2 10-12 6zM-435 1625l-13-4-7-8-9-28 0-6 7-8 5 0 8 5 22 32 0 11-3 4zM-376 1645l-16 4-10-2-8-10 3-18 33-37 34-11 8 9 1 24-18 27zM-435 1650l-43 35-11 1-4-3-1-12 17-35 15-5 20 4 4 3zM-428 1703l-9 2-14-3-9-8 4-11 27-19 10 4 2 5zM-361 1704l-11-21 6-10 6-1 17 11 4 10-6 9-11 3zM-413 1716l-2-10 8-20 3-5 12-1 23 37-8 26-12 2-4-3zM-446 1726l-4 8-9 5-9-5-2-14 8-7 8 1 8 7zM-440 1748l2-10 8-9 5-1 9 4 10 15-4 10-5 2-18-4zM-421 1821l-12-2-39-40-3-5 4-12 15-1 55 18 3 9-3 11zM-300 1823l-5 6-11 1-64-32-6-11 5-18 6-6 8-2 56 10 12 44zM-338 1882l-17 7-6-3-46-45-3-10 13-18 4-3 10 0 61 31 0 11zM-412 1929l-9-6-26-53 3-9 18-14 10 3 47 48-5 11-30 18zM-478 1949l-8-9-9-50 6-11 20-6 12 6 24 49-5 9-18 13-9 2zM-341 1977l-30 13-11-2-15-41 1-10 23-15 12 1 21 43zM-399 1997l-31 9-10-3-10-40 24-20 10-1 4 2 15 42zM-308 840l-10-2-6-7-9-35 33-26 11-2 23 29 2 11zM-261 889l-12 1-4-4-19-32 5-10 36-24 10 4 21 31-4 10zM-183 937l-56 0-18-23-1-11 37-28 11-2 35 47 1 11zM-251 945l-14 51-10 8-51-29-7-13 0-10 4-4 52-32 9 4zM-161 1013l-3-42 1-6 10-6 9 5 31 48-4 9-5 3-33-8zM-187 949l9 6 2 5 0 55-25 20-7 2-31-2-7-4-9-10-2-11 20-58zM-338 994l10-5 5 2 28 17 4 4 0 11-36 22-10 1-17-22zM-277 1090l-39 0-12-25 6-9 51-28 14 9 2 11-12 35zM-111 1042l3 9-8 55-4 7-12 8-35-11-24-57 0-9 24-17zM-102 1103l6-38 4-3 10 0 24 37-1 12-11 4-24-5zM-233 1047l26 4 24 58-5 9-48 26-10-8-12-44 14-38 4-5zM-258 1162l-11 1-54-26-3-14 6-14 9-5 40 0 17 46zM-140 1190l-94-1-9-5-2-10 8-14 61-35 9-1 24 7 7 10 2 39zM-120 1187l-4-49 1-5 10-10 9-2 57 13 10 43-2 15-10 2-62-2zM-289 1186l-53 1-8-5-2-10 18-18 12-2 36 19 1 11zM-240 1292l-14-7-22-28-2-6 5-10 57-2 10 6-1 11-20 31-3 4zM-86 1253l-9 35-6 7-14 1-23-39 0-11 9-6 38 4zM-155 1328l-53-8-5-2-6-10 0-11 38-56 13-1 9 5 28 50 2 5-4 9zM-273 1298l-51 37-8 2-16-3-9-7 3-11 55-59 11 4 17 21 2 5zM-259 1302l10-1 17 10 7 14-5 16-6 5-46 21-12-2-13-12-3-12zM-100 1322l-12 71-5 4-11-3-16-50 3-11 22-21 7-3 11 6zM-220 1347l6-11 4-3 52 9 15 47-3 11-46 17-11-2-8-11zM-278 1378l40-15 9 9 4 29-8 8-44 7-7-10 0-18zM-319 1443l-34-43-5-41 0-5 7-7 24 5 30 28-1 48-11 14zM-211 1461l-9 5-68 0-10-6-1-5 10-19 7-5 64-12 11 10zM-197 1474l2-37 7-9 54-17 19 12-3 49-7 10-54 17-8-6zM-196 1521l-7 7-5 0-88-18-9-8 2-15 2-5 9-4 82 2 16 25zM-131 1567l-39-2-14-10-4-19 8-22 45-16 10 1 5 10-3 28-2 21zM-307 1525l10-3 85 18 5 3 3 12-30 24-11 1-67-31-2-10zM-314 1602l-4-8-2-16 1-6 9-6 56 23 6 8-5 30-7 8-5 1zM-150 1640l-14-6-2-6-2-44 11-6 17 2 9 7 0 12-11 34zM-234 1597l4-6 30-22 9-2 5 2 4 9 3 59-31 22-30-10-3-10zM-295 1682l-35-43-1-12 8-9 11 0 44 34-2 11-14 16zM-154 1659l-21 46-10 2-7-7-7-23 0-7 4-5 25-17 9 2zM-232 1740l-38-12-7-8-4-24 31-34 35 11 12 31-3 11zM-356 1721l39-19 18-2 7 8 4 21-15 23-10 5-45-8-3-12zM-190 1741l-11 31-10 3-5-3-5-15 2-11 16-14 11 3zM-297 1766l14-21 6-4 7 0 34 14 9 34-7 8-48 12-8-8zM-241 1865l-12-1-28-23-4-10 7-9 53-14 5 4 2 11zM-277 1918l-42-33 0-10 15-27 13 1 38 32-1 10-13 22zM-303 1956l-17 9-10-6-20-45 1-10 4-4 14-6 6 3 35 28 4 11zM952 1465l-21-9-19-19-11-25 0-24-17-9-18-18-7-13-5-18-40-33-79-57-21-21-18-9-22-5-5-11 3-5 66-50 144-67 53-28 33-22 29-25 26-29 22-31 18-32 17-49 10-64 3-112-10-126 6-73 9-53 19-66 33-76 33-59 82-131 13-28 3-18-7-31-7-11-14-5-18-2-17 3-41 15-105 51-116 65-265 164-72 54-100 86-68 68-39 46-263 358-61 91-51 82-14 33-9 40-5 30 4 27 8 10 15 10 21 25 11 23 20 145 11 135 12 61 48 115 38 102 53 95 36 41 34 21 44 18 71 19 64 6 39-7 54-16 29-4 25 2 17 6 22 18 15 23 40 114 12 19 12 7 11-1 10-9 2-12-4-26-15-47-37-76-18-46-7-22 1-13 11-15 30-16 7-13 19-19 13-7 25-5 5-23 8-14 18-18 17-9 6-8 1-23 10-26 10-11 22-15-5-15 0-28 10-24 18-18-9-21 0-27 11-25 16-17-10-17-5-26 6-27zM1173 80l-8-15 1-11 33-16 11 2 4 4-3 12-23 23-5 3zM1251 66l-26 42-10 0-17-8-3-5 3-10 37-37 11-3 5 3 3 5zM1105 88l6-9 34-15 9 6 11 28-25 32-10 4-9-6zM1062 148l-7-6-7-18 0-10 32-19 12 1 15 31-2 12zM1193 159l-10 0-25-9-7-8 3-10 23-24 28 9 7 10zM1022 127l12 0 13 29-18 27-16 1-9-5-14-27 5-10zM1156 212l-21-10-2-6 3-32 9-6 28 10 7 10-15 28zM959 217l-11-5-13-21-1-11 32-20 10 0 15 20 1 10zM1067 224l-9-5-16-28 14-25 8-5 52-8 7 11-2 37-3 7-19 18zM901 249l-10-5-12-18-1-11 31-21 11 0 15 20 1 11zM1132 259l-11 0-10-24 18-18 13 3 7 10zM1001 287l-30-56 4-9 28-24 7-2 19 2 20 32-28 57-11 6zM1034 304l-3-6 1-7 26-49 10-6 29 4 20 47 0 8-7 11-67 2zM946 322l-9-5-32-47 4-10 41-27 10 6 28 53-5 9zM834 332l9-28 5-6 40-20 9 5 34 50 0 5-9 7-65 9-10-4zM1100 330l-22 63-12 2-14-6-7-10-1-53 10-6 41 1zM1021 308l9 13 2 65-51 29-11 0-8-8-19-54 1-12 5-6 50-29 15-1zM927 358l7 6 13 38-1 10-71 32-9 0-13-8-4-10 6-55 8-5zM985 431l5-8 50-25 27 10 6 8-12 62-21 6-9-2-39-29zM934 521l-11 0-25-17-5-5-12-39 6-9 71-28 8 3 5 7 5 20zM951 557l-8-16 1-10 35-58 4-4 12 1 30 25-13 57-3 6-7 2-41 2zM1059 502l-3 47-5 4-13 0-10-7 9-42 8-8 7-1zM926 559l-83 34-8-6-7-21 56-47 6-3 7 2 34 24 2 9zM1022 570l10-5 15 1 9 5 3 31-5 10-9 2-11-6-12-27zM861 638l-7-7-4-16 0-5 7-7 74-33 5 0 9 6-4 44-3 6-6 3zM960 578l9-5 34 1 22 42 0 9-23 49-25-1-23-38-2-7zM1035 633l10-7 11 1 4 4 5 30-5 11-25 2-10-5-1-11zM935 641l11 5 15 26 2 7-4 6-11 11-68-7-9-5-10-18 0-10 8-5zM1065 727l-10 5-21-3-14-28 1-10 9-5 31 1 6 9zM937 709l4 11-7 33-12 3-30-13-6-27 2-9 10-4zM1021 740l-11 30-7 7-47-9-8-7 7-52 21-22 25 3 20 42zM1053 791l-27-3-6-8 10-30 4-5 7-2 20 3 5 10-4 31zM941 850l-6-52 8-16 9-2 53 12 3 10-4 35-20 23-11 3zM1054 846l-11 2-23-8-3-9 2-20 7-8 25 0 9 7 0 13zM875 818l8-7 34-8 8 10 0 28-3 4-10 2-29-9-7-8zM892 896l-11-2-23-25 3-10 13-10 31 8 7 7-2 10zM1033 902l-10 2-26-11-6-7-2-12 3-5 19-16 29 7 8 9-5 15zM961 938l-26 11-38-22 1-15 36-47 36 10 7 7 2 17-12 33zM1001 951l-11-2-11-11 7-24 9-7 19 6 7 10-5 10zM961 994l-7 4-10-5-2-25 5-10 22-9 13 9 4 11zM869 1034l-4-7-5-69 29-18 39 22 2 46-6 10-39 21-7 1zM837 1478l-1-6 5-9 37-22 10 6 14 21 0 6-8 7-36 8-9-2zM867 1501l29-8 10 2 4 9-1 28-10 5-23-3-11-21zM908 1560l-10 27-7 7-21-2-9-9 10-28 5-5 6-2 15 1 9 6zM899 1631l-2 10-10 12-24-4-8-8 6-28 8-8 18 2 7 3zM821 255l6-10 32-18 10 5 15 27-6 10-33 15-9-5zM767 295l-1-11 4-5 33-18 9 5 19 30-11 30-22 3-10-5zM745 366l-11-4-24-37 4-10 32-19 10 4 21 32-3 9zM832 424l-48-2-7-3-25-25-3-11 39-39 7-3 27 0 18 19 2 8-4 47zM709 491l7-76 6-9 15-6 28 24 3 12-28 65-10 2-15-5zM760 513l-5-9 1-5 27-63 6-2 43 5 5 10-2 6-47 62-9 5zM825 550l-9 3-5-2-12-10-4-10 52-73 9-5 5 1 6 7 13 43zM714 594l24-72 12-1 25 16-1 12-40 50-11 3zM741 618l2-12 44-52 11 1 16 15 4 12-6 9-55 32-6 1zM833 603l9 28-4 11-68 11-11-4 0-12 4-4 56-32 5-2zM782 683l-4-9 4-9 30-6 10 4 2 12-19 15-6 2zM766 688l9 4 4 11-4 8-11 3-8-7-2-10 6-8zM818 733l-6-8-2-22 25-20 11 0 6 9-2 6-18 30-9 6zM856 761l-14 5-5-2-5-10 22-38 9-6 5 1 6 8 3 26zM749 759l-2-10 2-4 9-8 5 0 43 27 5 7-1 6-23-4-24 7zM716 775l9-12 10 0 19 24-10 16-1 9 3 13-21-12-11-30zM825 788l32 22 4 7 3 21-21 19-11-4-11-14 10-16 2-11zM811 845l14 21-2 7-10 12-24 2-11-6-16-37 26 7zM759 891l-11 4-10-7 2-15 7-8 10 1 4 5 3 11zM844 943l-19-49 7-13 11-4 38 34 3 9-2 7-26 17zM740 933l-5-9 6-9 20-10 10 6-1 23-7 9-10-1zM784 909l6-8 22 0 14 31-3 12-29 7-9-2-4-10zM700 976l8-33 7-7 10 1 21 17-1 11-29 17-12-1zM781 971l9-7 50-8 7 10 4 56-10 6-51-3-5-8zM717 997l36-21 11-1 5 9 2 32-8 7-5 0-34-10-8-10zM708 1040l1-12 5-4 50 15 2 11-16 40-6 3-11-6zM779 1089l-6-3-3-12 14-33 54-1 9 6-1 11-4 4zM759 1316l-2-10 2-4 10-4 22 14 4 10-1 5-8 6-10 1zM696 1348l4-12 34-23 10 4 18 23-2 10-4 3-39 15zM785 1353l5-8 16-11 7-2 7 3 11 12 8 20 0 11-24 17-12 0zM784 1404l-55 12-7-10 2-24 44-20 9 7 9 23zM838 1451l-13 0-4-5-9-29 5-8 34-20 23 16 1 19zM800 1466l-88-2-6-10 11-18 7-5 64-14 10 3 3 5 10 26-2 10zM704 1507l-3-5 2-15 2-5 9-4 83 0 5 2 6 9-23 35zM835 1493l13 10 15 38-11 27-5 5-7 1-38-7-4-8-3-21 2-7 23-35 4-4zM709 1557l-6-8-3-19 8-7 5 0 68 16 5 32-7 9-6 3-7 0zM767 1598l-1 23-4 7-8 6-17-1-16-12-13-35 6-9 10 0zM791 1584l10-4 42 7 8 6 1 8-14 45-12 2-46-24 1-25zM793 1724l-11-3-22-24 1-48 4-8 8-3 47 20 5 5-2 32-4 7zM839 1668l7-9 31 7 2 11-3 22-5 8-9 1-24-9-2-10zM861 1731l-13 23-10 6-27-15-4-3-1-10 18-18 11-3 23 10zM681 1745l1-13 14-17 49-8 10 3 22 23 3 9-11 19-11 5-68-12-6-3zM838 1791l-22 17-9 2-28-20-4-8 1-10 14-19 11 0 38 25zM798 1831l-9 20-17 5-20-19 1-10 16-22 11 1 19 15zM755 1867l-24 24-6 0-8-10 13-28 8-6 9 4 8 10zM658 369l-1-11 3-4 31-22 10 5 30 43-6 11-12 6-30-1-7-4zM613 416l-9-10 4-10 31-23 10 4 15 21-3 10-18 16zM703 422l-7 63-3 6-25 6-6-4-3-6-7-52 26-26 21 3zM644 496l-25 8-8-6-8-18 6-40 8-8 16 3 7 9 7 43zM682 509l21-3 13 5 7 8-20 66-9 7-10-4-2-6-4-64zM624 518l28-10 12 3 6 72-6 10-6 1-9-6-26-58zM572 549l25-19 11 1 30 62-2 11-5 4-11-3-46-45zM653 618l22-4 20 4 20 15 7 13 2 5-11-14-19-5-13 1-22 10-16 17-7 21 5 20 10 9-11-6-9-12-8-24 4-21 8-15zM728 680l8 7 12 33-2 11-13 11-11-2-26-28 0-5 16-12 10-15zM680 717l33 32-1 10-6 7-10 1-22-8-12-25 1-12 5-3zM657 755l6 13-2 17-19 38-7 7-8 2-10-3-5-7 0-9 29-54 4-4zM662 867l-14-20 4-10 63-10 10 5 2 5-5 10-31 21zM706 872l13-3 6 8-1 10-6 8-10-1-6-7-1-6zM590 925l26-70 9-7 6 1 19 23 2 7-4 37-4 7-8 5-33 6-10-4zM663 890l6-8 16 1 14 24 0 11-11 5-23-6-4-9zM663 932l22 2 9 8-9 29-6 3-10-6-13-26zM583 952l55-10 20 32-1 12-12 4-58-17-7-8 0-5zM662 1014l0-13 7-11 7-4 17 2 11 12-2 17-12 11-13 0-11-7zM576 983l66 18 8 10-2 6-50 30-12-1-19-47 2-11zM601 1065l5-9 44-24 12 1 4 5-16 54-12 1-32-18zM667 1083l10-35 10-8 10 6 21 40-6 10-34 1-9-5zM570 1168l-7-28 23-55 12-1 42 26-4 47-5 8-52 7zM651 1147l2-29 5-8 41-1 9 5 0 11-4 4-37 22-6 2zM593 1273l-18-28 0-11 9-6 39 2 6 9-2 6-16 27-9 6zM613 1304l0-11 38-62 24 1 17 5 3 5-3 11-52 58-9 4zM650 1327l2-11 50-56 10-3 19 15 0 25-49 37-8 2-16-2zM636 1339l-4 13-44 38-5 3-11-5 0-12 36-54 11 1 10 6zM651 1349l9-3 20 5 29 29 1 42-13 20-5 1-9-4-27-34-9-46zM602 1418l-9-7 3-12 25-21 5-3 11 4 3 15-1 7-5 5zM619 1449l-11-5-1-6 6-10 30-12 5 1 10 10 2 11-4 4zM691 1460l3 14-5 14-4 3-64-8-9-8 3-11 6-3 55-8zM608 1512l0-12 11-5 50 7 6 2 4 11-8 8-20 7-8-1zM623 1605l3-34 22-26 27-10 12 3 5 17-5 14-50 47-10-2zM695 1592l9 18-3 12-30 7-10-4-2-5 3-10 23-20zM681 1660l-6-8 4-11 13-3 11 3 2 6-4 10-10 7zM580 1686l-8-6-1-5 27-47 4-4 10-2 12 5 4 3 1 9-7 26-5 7-16 9zM702 1699l-7-8 0-11 3-5 32-27 9-3 5 3 5 9-3 33-8 6zM633 1672l7-22 5-3 11 4 26 32 3 19-8 16-9 5-10-6zM603 1760l-6-8 3-10 25-9 32-1 10 7 2 4 0 17-7 14-9 6zM731 1831l-61-33-1-11 12-20 71 10 8 6 0 11-20 31zM575 1783l-1-11 4-5 11-1 55 25 6 10-19 30-9 5-5-1zM699 1878l-18 1-34-34-3-4 2-10 14-17 10 0 47 26 0 11-10 21zM604 1869l18-19 8-1 6 3 34 37-6 19-9 7-27 1-23-40zM712 1906l-23 19-6 0-5-3-2-12 8-16 21-4 5 5zM623 1949l0-10 5-7 34-4 16 23 1 14-23 19-13 1zM583 458l-16-10-4-12 18-18 11-2 7 7-4 27-7 8zM554 476l7-10 5-1 23 15 11 23-1 11-8 5-10 0zM471 526l4-6 11-3 8 6 2 11-4 5-11 2-8-5zM518 531l3-11 11-2 21 19 2 11-5 6-10 1zM471 556l11-2 43 19 1 11-7 13-11 2-28-13-13-20zM535 598l12-27 9-5 5 0 51 48 3 11-4 5-11 2-58-25zM494 646l-49-7-7-14 2-11 34-13 29 9 4 3 3 10-7 19zM515 648l7-23 8-8 65 26 7 9-6 10-6 2-64-2-6-3zM523 716l-9-21 1-12 6-8 69 1 10 6 0 6-7 9-60 21zM548 770l-18-24 1-12 66-25 11 2 3 5-3 11-49 42zM594 812l-16-5-12-14-2-11 52-46 11-1 7 9-2 6-30 57zM461 840l-10-3-3-5-11-35 2-10 71-33 10 1 12 17 1 10zM517 883l-22-1-7-4-15-16-2-11 67-56 11-2 14 15 3 9zM561 921l-25-24-4-10 42-59 6-4 7 0 17 9 3 6 0 6-28 72-8 6zM549 988l-71-25-5-4-1-10 17-47 7-7 24 4 49 47-4 24-7 13zM518 1009l-35 25-7-2-13-9-5-9 12-30 8-6 37 12 7 8zM490 1049l51-43 10-2 7 6 15 47-9 8-57 10-15-16zM489 1074l7 11 0 5-5 13-4 3-27-3-8-6 0-10 4-4 23-13zM510 1124l-8-8 8-26 46-11 10 4 2 11-16 37-10 2zM549 1149l5 19-9 7-50 5-10-5 0-11 19-27 7 0zM448 1234l50-3 5 1 6 10-26 39-28 3-10-5-2-5 0-31zM502 1294l-3-10 1-5 31-45 13-5 10 5 34 57-3 10-5 2-28 6zM471 1295l17 2 8 8 1 49-6 10-12-2-4-5-13-48 3-11zM518 1314l13 2 8 8-8 33-9 8-11-5-2-6 0-29 4-9zM542 1366l13-44 19-6 11 5 0 12-23 36-11 5zM449 1482l-9-9-2-13 3-19 9-18 15-13 19-8 20 0 19 7 3 9-4 25-19-4-19 4-14 11-4 9-2 9 4 14zM564 1419l18 15 10 22-5 29-5 6-10 6-8 0-26-12 4-14-2-9-7-11 7-32 11-3zM503 1505l18-4 10-6 26 13 2 9-7 32-19 11-16-1-6-3-3-6zM568 1536l6-22 11-4 8 7 3 21-6 10-18-2zM590 1563l12 3 9 9 0 17-5 10-11 0-16-23 0-12zM564 1610l-13-2-4-6-5-24 9-8 11 5 12 18 0 11zM511 1584l11-5 5 3 8 19-3 11-11 3-10-5-2-7zM486 1620l-10 2-7-8 6-27 9-8 11 5 2 6-1 22zM494 1631l15-7 11 3 7 6-1 30-6 9-11-1-4-4-11-26zM539 1669l2-41 11-6 22 1 5 10-1 6-19 31-10 5zM560 1693l12 10 10 31-3 16-14 10-5-1-7-8-9-47 4-11zM480 1748l6-45 8-5 10 0 5 10-1 54-8 6-5-1-12-11zM472 1861l-14-4-16-14-4-11 45-47 11-3 5 3 3 11-18 58-3 4zM555 1786l11 4 39 52-3 10-14 11-24 3-7-9-11-58 4-11zM495 1858l18-58 3-5 11-3 7 9 10 65-9 7-28 1-11-6zM561 1882l22-6 7 1 5 5 19 39 0 9-5 8-33 8-10-4-9-50zM508 1956l-10-8 0-6 10-52 8-4 23 0 6 9 6 46-8 7zM588 1992l-11-4-4-24 9-7 21-4 9 2 9 17 0 10-9 6zM525 2008l-7-9-3-21 3-9 29-10 11 4 5 26-3 9zM455 1998l10-32 19-7 13 6 5 7 4 29-5 11-37 0-5-2zM419 589l13-20 8-6 12 5 9 15-3 9-25 9-10-2zM384 654l-4-10 2-5 18-26 11-5 7 4 12 26-2 12-18 17-10-1zM424 704l-7-8-1-14 27-29 52 5 9 7-1 21-5 8zM343 703l1-11 19-25 10-5 27 18 4 8 3 21-9 21-10 6zM403 750l12-26 8-6 77-11 7 7 6 14 1 5-6 9-74 32-12-1-15-14zM304 756l1-11 19-25 10-5 42 30 5 9-5 8-34 21zM341 843l-4-6 0-7 9-30 4-6 42-27 9 3 21 21 16 52-6 8-43 23zM376 882l5 10-7 37-29 13-55-34-5-10 25-41 11-7 11 1zM458 946l-51-2-15-9-4-10 7-38 52-29 9 3 23 28-17 52zM379 943l15 11 5 46-5 10-17 9-13-5-22-38 5-17 6-6zM418 1007l-7-9-1-35 10-5 36 3 6 9-1 5-17 37-11 1zM397 1023l10-6 5 1 10 4 7 8-7 26-7 7-6 0-8-7-8-25zM433 1065l7-26 7-7 10 2 16 12 0 11-23 16-11 0zM351 1054l16-22 11 2 12 27-1 10-9 5-24-12zM330 1103l0-10 5-13 10-6 24 11 6 9-4 9-5 2-23 5-6-1zM436 1109l-10 14-9 3-16-3-11-12 0-17 11-13 16-3 15 8 5 16zM463 1149l-17-21 3-10 9-3 28 5 4 10-10 18-8 5zM340 1143l-3-12 3-6 6-3 28-5 7 8-2 10-18 20-11-3zM421 1143l9-6 9 4 22 25 2 12-4 4-27 3-10-6zM367 1171l26-32 5-1 9 6 2 30-5 10-31 1-6-8zM382 1241l10-6 33 0 6 10-1 38-14 7-10 0-23-39zM314 1250l1-6 9-6 35 0 34 55 0 11-13 9-10 1zM417 1303l15-6 12 1 20 62-3 12-6 2-11-5-32-50-2-6zM370 1340l4-8 13-9 11-1 36 54 0 12-11 5-5-3-44-38zM367 1385l7-9 11 2 25 21 3 5-3 12-12 1-26-11-5-5zM346 1432l8-12 9-4 30 12 6 10-1 6-11 5-31-4-9-7zM317 1488l-5-18 3-10 15-7 55 8 9 8-3 11-6 3-58 8zM325 1534l-6-23 9-8 59-8 11 5 1 6-6 10-54 24-5 1zM437 1530l0-22 4-11 10-3 31 7 8 10 5 44-3 4-14 5-24-7-6-5zM369 1567l-12-6-2-10 2-4 35-18 10 1 5 9-4 9-23 17zM425 1623l-3-4 0-11 22-32 8-5 5 0 7 8 0 6-12 33-17 7zM344 1626l-14-28 2-18 8-9 34 11 31 33 5 22-8 10-10 2-16-4zM438 1638l17-7 22 5 17 35-1 12-4 3-11-1-39-31-4-4zM417 1678l2-10 10-4 27 19 4 11-9 8-19 3-7-7zM350 1704l-9-6-1-10 15-13 11-2 5 4 0 12-10 15zM389 1745l-12-2-8-26 18-33 11-5 9 7 8 25zM446 1721l11-8 10 3 3 13-6 9-10 0-6-7zM433 1755l-18 4-8-7 2-10 11-13 10 0 8 9 2 10zM401 1799l-2-16 7-7 53-16 12 2 4 5-3 12-45 43-11-4zM307 1777l10-9 50-7 8 2 6 6 5 18-6 11-70 33-9-6-2-10zM322 1852l0-11 5-3 56-28 10 0 4 3 13 18-3 10-52 48-7-1-14-11zM404 1927l-34-23 2-12 44-42 10-3 21 18-1 9-29 53zM461 1952l-23-15-5-9 1-5 23-44 5-5 19 1 8 4 6 11-9 50-8 9zM339 1971l22-48 12-1 23 15 1 10-15 41-11 2-25-10zM396 1992l13-43 7-7 10 1 24 20-7 35-8 8-31-6zM268 813l-5-10 3-6 23-29 11 2 33 26-9 35-10 9-11-2zM225 861l1-11 19-26 10-4 36 24 5 10-19 32-10 5zM174 931l1-11 35-47 11 2 37 28-1 11-18 23-56 0zM268 920l9-4 6 2 46 30 5 9-8 18-51 29-10-8-14-45 2-10zM127 1024l-10-3-4-9 2-5 29-43 4-4 11 1 5 10-3 42zM237 952l4 6 17 58-12 15-7 4-31 2-7-2-25-20 2-60 9-6zM354 1024l-13 19-9 4-37-20-5-9 5-10 33-19 10 5zM267 1083l-13-41 12-13 9 0 51 31 1 10-11 20-39 0zM162 1027l10 2 16 11 4 9-1 4-24 57-35 11-12-8-4-7-8-60 8-7zM94 1110l-30 5-7-10 21-39 9-5 9 4 6 33 0 5zM244 1054l14 45-12 37-10 8-48-26-5-9 24-58 26-4 7 2zM254 1150l17-46 40 0 5 1 8 11 1 16-7 8-49 23-11-1zM135 1186l3-51 34-12 65 37 5 6 3 14-2 4-9 5-89 2zM116 1191l-67 3-10-2-2-15 10-43 57-13 5 0 11 8 4 9-2 44zM284 1176l6-9 38-16 21 17 3 9-2 5-8 5-47 1-10-6zM230 1291l-23-35-1-11 10-6 57 2 5 10-2 6-22 28-14 7zM95 1288l-9-35 5-9 38-4 9 6 0 11-23 39-14-1zM133 1309l-4-9 2-5 28-50 9-5 13 1 4 4 36 58-8 15-53 10-10-3zM269 1287l19-26 11-4 55 59 3 11-9 7-16 3-8-2-51-37zM310 1341l-3 12-13 12-12 2-46-21-6-5-5-16 7-14 5-5 17-6zM112 1393l-12-71 6-11 7-2 6 3 25 26-16 56-11 3zM211 1404l-8 11-11 2-46-17-3-11 15-47 47-9 9 3 6 17zM284 1388l0 18-7 10-44-7-8-8 4-29 9-9 40 15zM309 1442l-13-20 1-42 30-28 24-5 7 7 0 5-8 47-27 34-9 4zM207 1434l3-10 8-5 64 12 7 5 8 13 1 11-10 6-73-1-6-9zM184 1497l-10 1-54-20-6-49 6-10 10-6 9-1 54 19 5 36zM193 1509l13-25 9-6 77 0 9 4 4 15 0 5-9 8-88 18-9-2zM125 1558l-5-49 5-10 10-1 45 16 8 27-4 14-7 7-40 6-6-1zM307 1525l7 19-6 8-68 29-36-26 3-12 5-3 85-18zM265 1636l-5-1-7-8-5-25 2-10 55-25 11 1 4 10-3 21zM145 1637l-9-22-5-28 9-7 23-1 6 11-3 38-7 10-9 2zM243 1645l-7 7-26 7-31-22 3-59 4-9 5-2 9 2 30 22 4 6zM289 1682l-19-19-2-11 44-34 11 0 8 9-1 12-29 39zM175 1705l-21-46 2-6 9-4 10 1 24 20-7 30-7 7zM206 1715l-3-11 12-31 29-11 12 3 25 31-7 29-36 15-12-3zM361 1737l-3 12-6 2-45 5-19-27 4-21 7-8 18 2 39 19zM190 1741l2-6 11-3 16 14 2 11-5 15-10 3-5-3zM297 1766l-10 40-11 3-47-15-2-11 9-28 34-14 7 0 6 4zM241 1865l-23-42 2-11 12-3 51 16 2 11-4 5-28 23zM271 1917l-17-26-1-10 38-32 13-1 15 27 0 10-36 30zM292 1945l-6-9 0-6 39-33 13-1 11 8 1 10-24 50-12-1z" fill="#f4c244" stroke="#d2a43a" stroke-width="6" fill-rule="evenodd"/><path d="M-4.3,112.2C-5.3,128.2 -4.8,143.2 -3.7,152.2C-2.8,168.2 -1.3,180.2 0.0,185.2C1.3,180.2 2.8,168.2 3.7,152.2C4.8,143.2 5.3,128.2 4.3,112.2Z" fill="#ebb636" stroke="#d2a43a" stroke-width="0.6"/><path d="M-20.8,73.7C-15.3,83.2 -10.3,94.2 -5.3,110.2L-3.8,109.2C-8.3,93.2 -13.3,81.2 -20.8,73.7Z" fill="#f4c244" stroke="#d2a43a" stroke-width="0.5"/><path d="M20.8,73.7C15.3,83.2 10.3,94.2 5.3,110.2L3.8,109.2C8.3,93.2 13.3,81.2 20.8,73.7Z" fill="#f4c244" stroke="#d2a43a" stroke-width="0.5"/></g>
<g transform="translate(570.72,1277.03) scale(0.5665)"><path transform="scale(0.1)" d="M-952 1465l12 19 5 26-5 26-10 17 16 17 11 25 0 27-9 21 18 18 10 24 0 28-5 15 22 15 10 11 10 26 1 23 6 8 17 9 18 18 8 14 5 23 25 5 13 7 19 19 7 13 30 16 11 15 1 13-7 22-18 46-37 76-15 47-4 26 2 12 10 9 11 1 12-7 12-19 40-114 15-23 22-18 17-6 25-2 29 4 54 16 39 7 64-6 71-19 44-18 34-21 36-41 53-95 38-102 48-115 12-61 11-135 20-145 11-23 21-25 15-10 8-10 4-27-5-30-9-40-14-33-51-82-61-91-263-358-39-46-68-68-100-86-72-54-265-164-116-65-105-51-41-15-17-3-18 2-14 5-7 11-7 31 3 18 13 28 82 131 33 59 33 76 19 66 9 53 6 73-10 126 3 112 10 64 17 49 18 32 22 31 26 29 29 25 33 22 53 28 144 67 66 50 3 5-5 11-22 5-18 9-21 21-79 57-40 33-5 18-7 13-18 18-17 9 0 24-11 25-19 19zM-1183 82l-28-26-3-12 4-4 11-2 33 16 1 11-5 11-3 4zM-1253 60l2-12 5-3 11 3 37 37 2 5-2 10-17 8-10 0zM-1106 94l-18 38-11 2-27-31-2-11 13-26 12-1 32 18zM-1099 142l-9-9 1-6 15-31 12-1 32 19 0 10-10 21-9 3zM-1196 155l-14-22 0-12 27-12 6-1 6 4 20 25-3 10-4 3-30 10zM-1028 125l33 17 5 10-18 30-16 2-10-5-13-23 13-29zM-1161 210l-17-26 0-12 28-13 10 1 5 9 0 33-16 9zM-959 217l-33-27 1-10 10-17 10-5 33 18 5 10-15 26zM-1099 226l-19-18-3-7 0-44 11-5 51 10 15 23 0 12-18 26zM-932 229l-5-9 2-6 11-17 9-5 33 19 5 9-14 24-10 5zM-1137 255l-12-25 2-6 12-7 12 3 12 15-6 19-9 7zM-1005 291l-12 0-4-4-28-57 16-28 9-6 21 2 31 28 0 10zM-1039 308l-65 0-10-6-3-15 20-47 29-4 10 6 26 49 1 7zM-951 320l-36-23 0-11 31-51 12 0 38 29-1 11-34 46zM-847 350l-10 4-65-9-9-7 0-5 34-50 9-5 40 20 5 6 9 28zM-1078 393l-22-63 5-9 47 1 5 10-4 53-19 10zM-1005 304l56 31 6 11 0 7-19 54-8 8-11 0-51-29 2-65 9-13zM-927 358l69 9 5 8 4 51-2 8-6 5-18 5-71-32-1-10 13-38zM-985 436l-7 17-39 29-9 2-16-3-8-9-9-56 6-8 22-9 10 0 49 28zM-974 457l-2-9 5-15 5-7 8-3 71 28 6 9-12 39-5 5-31 18-10-5zM-961 562l-41-2-7-2-3-6-13-57 36-27 10 5 36 63-8 21zM-1056 549l-3-47 3-4 10-3 6 3 12 42-4 11-14 3zM-931 556l-1-11 5-8 37-21 58 44 4 6 0 7-10 17-5 3-7 0zM-1021 575l-18 38-9 1-10-6 1-32 5-9 25-1zM-932 629l-6-3-3-6-5-38 4-10 6-2 79 33 7 7-4 21-7 7zM-952 628l-21 41-9 6-14 1-6-2-5-5-19-48 23-47 34-1 9 5 2 5zM-1023 664l-2 5-10 5-25-2-5-11 5-30 9-5 12 2zM-864 653l4 8-1 5-10 18-9 5-68 7-15-17 2-7 20-30zM-1065 727l-2-31 6-9 31-1 9 5 1 10-14 28-27 2zM-898 703l10 4 2 4-6 32-30 13-12-3-7-39 9-7zM-1004 694l9-6 19-1 18 17 10 52-3 10-46 11-10-2-14-35 0-8zM-1058 790l-6-9-1-31 9-6 22 1 13 30-1 10-9 5zM-973 863l-11-3-17-16-3-7-4-40 8-7 53-10 7 6 5 12-4 46-7 10zM-1054 846l-7-30 5-11 25-3 10 4 4 25-3 9-29 9zM-876 830l-7 8-29 9-10-2-4-9 4-29 11-4 28 8 8 7zM-910 874l-2-10 3-4 29-11 11 2 11 13-3 11-25 22-11-5zM-1033 902l-15-33 8-9 29-7 22 21-4 16-30 14zM-979 899l4-21 34-13 7 0 36 47 1 15-33 21-11 0-20-10-6-6zM-1001 951l-18-22 0-12 18-9 11 1 11 29-17 14zM-970 986l-16-17 4-11 13-9 26 13 1 25-6 10-6 1zM-878 1040l-46-22-6-10 2-46 39-22 25 13 5 11-6 63-4 7zM-849 1487l-9 2-41-11-3-10 19-26 11 1 35 24 0 11zM-864 1507l-12 27-23 3-10-5 0-33 8-6 28 5zM-898 1587l-10-27 5-9 27-1 5 5 10 28-9 9-21 2zM-898 1629l4-19 7-3 18-2 8 8 6 28-8 8-24 4-10-12zM-823 261l-17 22-10 0-32-18 0-12 18-25 11 1 30 20zM-792 328l-28-2-11-25 1-10 18-25 9-5 33 18 5 11zM-751 363l-26-26 2-10 23-30 11 0 30 22-1 11-27 35zM-838 415l-4-47 2-8 18-19 27 0 7 3 39 39-3 11-25 25-7 3-42 3-6-1zM-711 495l-19 8-10-2-28-65 3-12 28-24 15 6 6 9 8 71zM-779 522l-9-5-47-62-2-6 5-10 43-5 6 2 5 5 23 63-5 9zM-880 504l13-43 6-7 10 1 54 71 1 10-15 15-10 2zM-717 600l-12 2-5-3-40-50-2-6 5-11 21-11 12 1 23 66zM-751 624l-65-37-1-10 6-12 18-12 10 4 40 49 2 12zM-824 599l61 34 4 4 0 12-11 4-68-11-4-11 5-22 4-6zM-799 692l-25-17 2-12 4-3 31 3 8 6 0 10zM-756 692l2 11-5 9-5 2-11-3-4-8 4-11 9-4zM-828 732l-22-34 0-11 4-4 11 0 25 20-4 26-9 5zM-877 745l5-31 9-4 5 2 25 37 0 11-9 6-5-1zM-763 780l-25-7-22 5-1-6 5-8 38-26 10-1 9 8 2 9zM-714 783l-11 30-21 12 3-13-1-9-10-16 15-20 9-5 5 1 9 12zM-823 788l-10 25 2 10 10 16-11 14-11 4-21-19 3-21 4-7zM-811 846l23 5 26-7-21 42-25 1-9-5-8-16zM-764 882l7-16 10-1 7 8 2 15-10 7-11-4zM-844 943l-12 1-22-13-6-11 3-9 38-34 11 4 7 13zM-758 944l-10-4-4-23 1-6 10-6 20 10 6 9-5 9zM-782 944l-7 7-5 0-29-7-3-12 14-31 17-2 9 5zM-704 981l-12 1-25-14-6-9 1-5 21-17 10-1 4 3 11 30zM-785 1017l-5 8-5 2-52-1-5-10 7-56 11-4 49 11 4 9zM-716 1003l-8 10-39 10-5-2-4-10 4-32 10-5 5 2 31 17zM-738 1091l-12-1-3-5-14-41 8-8 45-12 5 4 1 12zM-779 1089l-63-28-6-10 1-5 9-6 54 1 4 5 10 34zM-776 1334l-5 1-9-5-5-8 1-6 20-16 10-1 7 7 0 5zM-712 1365l-12 2-36-17-2-10 2-4 20-22 11 1 33 26-3 12zM-799 1390l-10 7-6-2-21-13-5-10 13-30 15-10 23 13 5 8zM-786 1392l13-28 11-1 38 19 2 24-2 6-11 5-44-10-5-3zM-875 1424l1-19 23-16 34 20 5 8-9 29-11 7zM-805 1465l-4-4-2-10 10-26 7-7 70 13 7 5 11 18-6 10-5 2zM-779 1524l-11-4-16-25 0-11 4-4 88-2 9 4 4 15-3 10zM-824 1492l27 39-1 28-1 5-8 5-40 4-15-28 0-8 18-38 14-8zM-773 1583l-13-12 5-32 68-16 10 3 3 10-5 18-61 29zM-724 1577l10 0 6 9-13 35-16 12-12 2-9-3-8-11-1-23zM-781 1599l2 18-1 7-5 4-41 20-12-2-14-45 4-12 52-8zM-819 1702l-4-7-2-32 46-25 6 0 8 3 4 8 2 44-4 8-19 20-11 3zM-836 1694l-7 7-19 7-9-1-5-8-3-22 2-11 25-7 11 3zM-848 1754l-13-23 3-10 29-10 20 17 3 9-5 8-27 15zM-690 1754l-74 11-14-19-1-9 28-30 51 6 7 5 11 14 2 8-4 11zM-816 1808l-24-22 1-8 4-4 34-21 6-1 9 5 12 22-5 11-28 20zM-789 1851l-9-20-1-10 19-15 11-1 16 22 1 10-2 4-18 15zM-731 1891l-24-24 0-6 8-10 9-4 8 6 13 28-8 10zM-679 395l-27 4-7-2-16-11 0-11 32-42 11 1 29 24-1 11zM-613 416l-30 8-18-16-3-10 15-21 10-4 34 28-2 11zM-699 412l21-3 26 26-7 52-3 6-6 4-19-2-6-4-3-6-7-63zM-647 487l9-49 15-6 11 3 9 39-8 24-8 6-6 0-19-8zM-679 513l-3 69-2 6-10 4-9-7-20-66 7-8 13-5 16 1zM-622 524l-27 64-9 6-6-1-6-10 6-72 12-3 23 7zM-571 555l-49 50-11 3-5-4-2-11 30-62 11-1 13 6 9 8zM-635 632l10 19 1 21-7 20-9 12-3 2-5 3-3 1 10-9 5-20-7-21-16-17-22-10-13-1-19 5-11 14 12-21 17-12 16-4 26 4zM-722 680l10 15 16 12 0 5-26 28-11 2-13-11-2-11 12-33 8-7zM-674 717l11 5 2 6-11 27-6 6-18 6-10-1-8-12 3-9 26-25zM-645 755l33 58 0 9-11 9-12-1-7-7-19-38-2-17 2-8 4-5zM-684 869l-38-22-4-4 1-11 10-5 63 10 4 10-11 17-8 4zM-701 881l-7 13-10 1-6-8-1-10 6-8 5 0 8 3zM-597 933l-39-5-8-5-4-7-4-37 2-7 19-23 6-1 9 7 25 64-2 11zM-661 913l-9 7-18 3-6-1-7-9 12-26 4-4 11-2 9 4zM-656 942l-13 26-10 6-6-3-9-23 3-11 28-5zM-580 957l0 8-7 8-58 17-12-4-2-6 16-34 5-4 49 7zM-666 1021l-11 7-13 0-7-4-8-15 5-16 15-8 16 5 7 11 0 13zM-569 988l2 11-15 42-9 7-57-31-2-6 8-10 61-18 5 0zM-606 1075l-32 18-12-1-16-54 4-5 12-1 44 24 5 9zM-669 1092l-9 5-29 0-9-5 0-11 23-39 6-2 10 8 10 35zM-579 1172l-48-5-8-5-1-5-4-47 48-27 9 7 20 50-4 24-3 4zM-661 1153l-43-24-6-9 2-6 9-5 41 1 5 8 3 23-1 6zM-602 1278l-9-6-16-27 0-11 9-6 39 2 5 10-1 5-18 28zM-613 1304l-18 11-9-4-52-58-3-11 3-5 35-7 11 6 34 62zM-658 1334l-16 2-8-2-46-33-4-9 0-15 4-9 16-11 10 3 50 56 2 11zM-636 1339l4-7 13-9 11-1 36 54 0 12-11 5-5-3-44-38zM-647 1359l-9 46-27 34-9 4-5-1-13-20 1-42 35-32 19-1 4 2zM-634 1406l-5-5 0-17 7-8 6-1 30 24 3 12-9 7zM-656 1442l-4-4 2-11 10-10 5-1 30 12 6 10-6 10-6 1zM-691 1460l15-7 55 8 9 8 0 6-9 8-64 8-7-8-2-13zM-643 1529l-8 1-20-7-8-8 1-6 9-7 50-7 11 5 1 6-6 10zM-627 1614l-10 2-5-3-45-44-5-14 5-17 12-3 22 7 27 29 3 34zM-685 1590l26 25-2 10-5 3-29-3-9-8 6-21 3-4zM-691 1664l-14-12 2-11 5-3 14 1 8 7-2 11-7 6zM-585 1686l-32-14-5-7-7-31 11-11 11-1 9 6 25 42 1 10-3 4zM-738 1696l-8-6-2-5-1-28 5-9 5-3 9 3 32 27 3 10-3 11-4 3zM-633 1672l-30 50-10 0-10-12-2-8 3-19 26-32 11-4 8 8zM-653 1780l-9-6-7-14 0-17 6-8 12-4 24 1 27 10 3 10-6 8zM-731 1831l-9-6-20-31 0-11 8-6 71-10 12 20-1 11zM-617 1835l-5 1-9-5-17-24 0-12 59-29 11 1 4 5-1 11zM-707 1872l-10-21 0-11 47-26 10 0 14 17 2 10-3 4-34 34-18-1zM-623 1911l-11 7-21-3-9-7-5-13 2-12 37-34 12 3 14 17zM-689 1925l-23-19 2-11 11-5 15 4 8 16-2 12zM-643 1985l-13-1-23-19 1-14 16-23 29 2 5 2 5 7 0 10zM-593 455l-6-32 3-4 10-3 19 15 4 12-20 15zM-577 515l-9 6-9-4-6-8 1-6 11-23 17-13 11-1 7 10-2 5zM-473 536l-14 6-9-8 0-5 5-9 11-3 9 9zM-535 552l-10 4-5-2-5-6 0-6 18-21 11-3 5 2 3 11zM-467 566l-13 20-28 13-11-2-7-13-1-5 6-9 39-16 11 2zM-537 603l-63 29-11-2-4-5 3-11 51-48 9 2 8 8 8 16zM-503 642l-7-19 3-10 25-12 8 0 29 9 8 9-5 15-9 7-43 5zM-520 659l-70 5-10-6-2-6 7-9 65-26 8 8 7 23zM-528 719l-65-22-7-9 0-6 10-6 69-1 6 8 1 12-6 17zM-554 771l-54-44-3-5 3-11 11-2 66 25 1 12-13 20zM-598 810l-34-60-2-6 7-9 11 1 52 46-2 11-12 14-10 5zM-465 837l-68-55 1-10 8-14 9-5 72 31 7 8-1 5-11 35-7 7zM-517 883l-49-66 3-9 10-12 10-3 69 53 4 11-18 21-7 4zM-571 923l-8-6-28-72 0-6 3-6 17-9 7 0 6 4 42 59-4 10-25 24zM-549 988l-9-5-6-10-5-27 49-47 24-4 7 7 17 47-1 10-5 4zM-521 1004l-1-6 7-8 37-12 8 6 12 30-5 9-20 11-7-2zM-492 1059l-10 13-11 4-57-14-3-11 18-45 9-3 5 3 47 38 4 5zM-479 1070l27 17 1 5-4 9-26 5-10-3-5-18 7-11zM-548 1134l-7-7-13-33 2-11 10-4 46 11 7 20-2 11zM-511 1137l7 0 6 5 13 22 0 11-10 5-56-7-3-12 5-12zM-443 1243l-2 36-10 5-28-3-26-39 6-10 5-1 44 1 6 2zM-508 1297l-44 12-28-6-5-2-3-10 34-57 4-4 10-1 9 5 31 45 1 10zM-462 1303l-13 54-4 5-12 2-6-10 1-49 8-8 8-2 15 3zM-510 1320l1 34-2 6-11 5-9-8-8-33 3-5 13-5 10 2zM-551 1374l-11-5-23-36-2-6 7-10 20 2 8 8 10 33 0 6zM-468 1486l3-23-11-15-9-5-17-4-20 4-4-25 3-9 19-7 20 0 19 8 15 13 10 21 0 29-9 9zM-545 1416l8 9 4 26-7 11-2 9 4 14-26 12-13-2-10-10-6-23 7-23 18-17zM-508 1550l-3 6-16 4-25-11-7-32 2-9 26-13 10 6 18 4zM-572 1546l-12 3-11-5-1-20 3-7 8-7 11 4 3 5 3 17zM-579 1567l0 12-12 19-4 4-11 0-5-10-1-12 4-9 18-8zM-574 1604l0-11 12-18 11-5 6 2 3 12-9 24-13 2zM-509 1603l-2 7-6 4-10 1-5-3-3-11 8-19 5-3 11 5zM-496 1612l1-28 11-5 9 8 6 27-2 5-10 3zM-493 1636l-12 31-4 4-11 1-6-9-2-25 4-9 20-5 7 3zM-549 1675l-10-5-19-31-1-6 5-10 22-1 11 6 3 36-1 5zM-548 1693l4 11-9 47-7 8-5 1-14-10-3-16 10-31 5-6 13-6zM-483 1756l-12 12-5 0-8-6-1-54 1-6 9-5 8 2 7 9 4 40zM-481 1858l-21-62 3-11 5-3 11 3 45 47-4 11-16 14-14 4zM-547 1793l-12 70-11 3-24-6-10-13 1-10 37-47 11-4zM-496 1868l-11 6-28-1-9-7 10-65 7-9 11 3 3 5 18 58zM-558 1886l-8 56-10 4-33-8-5-8 0-9 24-44 24 2zM-508 1956l-40-11-3-9 8-46 9-5 22 2 6 8 8 53zM-588 1992l-29-6-6-9 11-22 9-2 26 6 4 10-4 19zM-532 2008l-24-7-7-7 2-25 8-9 30 6 8 7-5 31zM-459 2010l-36 4-10-6 3-36 5-7 13-6 19 7 10 32zM-423 599l-10 2-25-9-3-9 9-15 12-5 6 4 15 22zM-405 668l-10-4-16-20 9-27 11-9 11 5 20 31-4 10zM-494 695l-7-5-4-20 5-10 5-2 52-5 27 29-1 14-7 8zM-382 734l-12 1-12-19 2-28 4-8 22-16 11-1 23 29 1 11zM-407 759l-15 14-12 1-74-32-6-9 1-5 6-14 7-7 77 11 8 6 11 22 1 4zM-336 781l-13 0-27-19-5-8 5-9 42-30 10 5 21 30-5 10zM-389 874l-43-23-6-8 16-52 21-21 9-3 42 27 4 6 9 30 0 7-4 6zM-327 849l17 8 23 36 1 11-53 37-11 0-24-12-6-43zM-462 941l-17-52 23-28 4-3 10 1 47 28 7 38-4 10-15 9-44 4-7-2zM-353 953l10 18-1 10-24 36-16 0-10-7-5-10 5-46 15-11zM-439 1014l-8-7-14-32 1-10 9-5 37-1 6 10-5 35zM-393 1031l-12 30-4 2-10-3-10-24 2-11 20-8 10 6zM-439 1073l-11 0-23-16 0-11 20-14 10 3 9 25-1 10zM-352 1060l-28 16-9-5-2-5 9-28 9-6 10 4 10 12zM-337 1109l-34-6-4-9 2-5 22-14 12 0 10 23zM-436 1093l12-13 7-2 16 3 11 13 0 17-11 12-16 3-15-8-4-9zM-472 1153l-8-5-8-13-1-11 8-6 28-3 4 3 3 10-17 21zM-355 1155l-11-4-13-16-2-10 7-8 34 8 3 14zM-421 1174l-6 9-26 1-10-6-1-6 25-31 9-4 9 6zM-367 1177l-6 8-5 1-26-2-5-10 2-30 9-6 9 4 20 25zM-381 1246l-25 44-10 0-14-7-1-38 6-10 39 2zM-366 1311l-9 4-5-2-13-9-1-6 31-56 10-5 35 3 3 4-2 12zM-410 1313l-34 56-11 5-6-2-3-12 20-62 12-1 15 6zM-370 1340l-4 12-44 38-5 3-11-5 0-12 36-54 11 1 10 6zM-367 1401l-31 16-6 1-9-7 3-12 30-24 11 4zM-350 1442l-37 7-11-5-1-6 6-10 30-12 5 1 9 10 2 11zM-321 1491l-64-8-6-3-3-11 9-8 55-8 7 2 8 5 3 10-2 13zM-334 1541l-59-25-6-10 1-6 11-5 65 11 3 12-6 16zM-448 1552l-23 12-21-5-4-9 9-45 36-11 10 3 4 11 0 22zM-380 1565l-26-21 0-10 4-4 10-1 35 18 2 4-2 10-12 6zM-435 1625l-13-4-7-8-9-28 0-6 7-8 5 0 8 5 22 32 0 11-3 4zM-376 1645l-16 4-10-2-8-10 3-18 33-37 34-11 8 9 1 24-18 27zM-435 1650l-43 35-11 1-4-3-1-12 17-35 15-5 20 4 4 3zM-428 1703l-9 2-14-3-9-8 4-11 27-19 10 4 2 5zM-361 1704l-11-21 6-10 6-1 17 11 4 10-6 9-11 3zM-413 1716l-2-10 8-20 3-5 12-1 23 37-8 26-12 2-4-3zM-446 1726l-4 8-9 5-9-5-2-14 8-7 8 1 8 7zM-440 1748l2-10 8-9 5-1 9 4 10 15-4 10-5 2-18-4zM-421 1821l-12-2-39-40-3-5 4-12 15-1 55 18 3 9-3 11zM-300 1823l-5 6-11 1-64-32-6-11 5-18 6-6 8-2 56 10 12 44zM-338 1882l-17 7-6-3-46-45-3-10 13-18 4-3 10 0 61 31 0 11zM-412 1929l-9-6-26-53 3-9 18-14 10 3 47 48-5 11-30 18zM-478 1949l-8-9-9-50 6-11 20-6 12 6 24 49-5 9-18 13-9 2zM-341 1977l-30 13-11-2-15-41 1-10 23-15 12 1 21 43zM-399 1997l-31 9-10-3-10-40 24-20 10-1 4 2 15 42zM-308 840l-10-2-6-7-9-35 33-26 11-2 23 29 2 11zM-261 889l-12 1-4-4-19-32 5-10 36-24 10 4 21 31-4 10zM-183 937l-56 0-18-23-1-11 37-28 11-2 35 47 1 11zM-251 945l-14 51-10 8-51-29-7-13 0-10 4-4 52-32 9 4zM-161 1013l-3-42 1-6 10-6 9 5 31 48-4 9-5 3-33-8zM-187 949l9 6 2 5 0 55-25 20-7 2-31-2-7-4-9-10-2-11 20-58zM-338 994l10-5 5 2 28 17 4 4 0 11-36 22-10 1-17-22zM-277 1090l-39 0-12-25 6-9 51-28 14 9 2 11-12 35zM-111 1042l3 9-8 55-4 7-12 8-35-11-24-57 0-9 24-17zM-102 1103l6-38 4-3 10 0 24 37-1 12-11 4-24-5zM-233 1047l26 4 24 58-5 9-48 26-10-8-12-44 14-38 4-5zM-258 1162l-11 1-54-26-3-14 6-14 9-5 40 0 17 46zM-140 1190l-94-1-9-5-2-10 8-14 61-35 9-1 24 7 7 10 2 39zM-120 1187l-4-49 1-5 10-10 9-2 57 13 10 43-2 15-10 2-62-2zM-289 1186l-53 1-8-5-2-10 18-18 12-2 36 19 1 11zM-240 1292l-14-7-22-28-2-6 5-10 57-2 10 6-1 11-20 31-3 4zM-86 1253l-9 35-6 7-14 1-23-39 0-11 9-6 38 4zM-155 1328l-53-8-5-2-6-10 0-11 38-56 13-1 9 5 28 50 2 5-4 9zM-273 1298l-51 37-8 2-16-3-9-7 3-11 55-59 11 4 17 21 2 5zM-259 1302l10-1 17 10 7 14-5 16-6 5-46 21-12-2-13-12-3-12zM-100 1322l-12 71-5 4-11-3-16-50 3-11 22-21 7-3 11 6zM-220 1347l6-11 4-3 52 9 15 47-3 11-46 17-11-2-8-11zM-278 1378l40-15 9 9 4 29-8 8-44 7-7-10 0-18zM-319 1443l-34-43-5-41 0-5 7-7 24 5 30 28-1 48-11 14zM-211 1461l-9 5-68 0-10-6-1-5 10-19 7-5 64-12 11 10zM-197 1474l2-37 7-9 54-17 19 12-3 49-7 10-54 17-8-6zM-196 1521l-7 7-5 0-88-18-9-8 2-15 2-5 9-4 82 2 16 25zM-131 1567l-39-2-14-10-4-19 8-22 45-16 10 1 5 10-3 28-2 21zM-307 1525l10-3 85 18 5 3 3 12-30 24-11 1-67-31-2-10zM-314 1602l-4-8-2-16 1-6 9-6 56 23 6 8-5 30-7 8-5 1zM-150 1640l-14-6-2-6-2-44 11-6 17 2 9 7 0 12-11 34zM-234 1597l4-6 30-22 9-2 5 2 4 9 3 59-31 22-30-10-3-10zM-295 1682l-35-43-1-12 8-9 11 0 44 34-2 11-14 16zM-154 1659l-21 46-10 2-7-7-7-23 0-7 4-5 25-17 9 2zM-232 1740l-38-12-7-8-4-24 31-34 35 11 12 31-3 11zM-356 1721l39-19 18-2 7 8 4 21-15 23-10 5-45-8-3-12zM-190 1741l-11 31-10 3-5-3-5-15 2-11 16-14 11 3zM-297 1766l14-21 6-4 7 0 34 14 9 34-7 8-48 12-8-8zM-241 1865l-12-1-28-23-4-10 7-9 53-14 5 4 2 11zM-277 1918l-42-33 0-10 15-27 13 1 38 32-1 10-13 22zM-303 1956l-17 9-10-6-20-45 1-10 4-4 14-6 6 3 35 28 4 11zM952 1465l-21-9-19-19-11-25 0-24-17-9-18-18-7-13-5-18-40-33-79-57-21-21-18-9-22-5-5-11 3-5 66-50 144-67 53-28 33-22 29-25 26-29 22-31 18-32 17-49 10-64 3-112-10-126 6-73 9-53 19-66 33-76 33-59 82-131 13-28 3-18-7-31-7-11-14-5-18-2-17 3-41 15-105 51-116 65-265 164-72 54-100 86-68 68-39 46-263 358-61 91-51 82-14 33-9 40-5 30 4 27 8 10 15 10 21 25 11 23 20 145 11 135 12 61 48 115 38 102 53 95 36 41 34 21 44 18 71 19 64 6 39-7 54-16 29-4 25 2 17 6 22 18 15 23 40 114 12 19 12 7 11-1 10-9 2-12-4-26-15-47-37-76-18-46-7-22 1-13 11-15 30-16 7-13 19-19 13-7 25-5 5-23 8-14 18-18 17-9 6-8 1-23 10-26 10-11 22-15-5-15 0-28 10-24 18-18-9-21 0-27 11-25 16-17-10-17-5-26 6-27zM1173 80l-8-15 1-11 33-16 11 2 4 4-3 12-23 23-5 3zM1251 66l-26 42-10 0-17-8-3-5 3-10 37-37 11-3 5 3 3 5zM1105 88l6-9 34-15 9 6 11 28-25 32-10 4-9-6zM1062 148l-7-6-7-18 0-10 32-19 12 1 15 31-2 12zM1193 159l-10 0-25-9-7-8 3-10 23-24 28 9 7 10zM1022 127l12 0 13 29-18 27-16 1-9-5-14-27 5-10zM1156 212l-21-10-2-6 3-32 9-6 28 10 7 10-15 28zM959 217l-11-5-13-21-1-11 32-20 10 0 15 20 1 10zM1067 224l-9-5-16-28 14-25 8-5 52-8 7 11-2 37-3 7-19 18zM901 249l-10-5-12-18-1-11 31-21 11 0 15 20 1 11zM1132 259l-11 0-10-24 18-18 13 3 7 10zM1001 287l-30-56 4-9 28-24 7-2 19 2 20 32-28 57-11 6zM1034 304l-3-6 1-7 26-49 10-6 29 4 20 47 0 8-7 11-67 2zM946 322l-9-5-32-47 4-10 41-27 10 6 28 53-5 9zM834 332l9-28 5-6 40-20 9 5 34 50 0 5-9 7-65 9-10-4zM1100 330l-22 63-12 2-14-6-7-10-1-53 10-6 41 1zM1021 308l9 13 2 65-51 29-11 0-8-8-19-54 1-12 5-6 50-29 15-1zM927 358l7 6 13 38-1 10-71 32-9 0-13-8-4-10 6-55 8-5zM985 431l5-8 50-25 27 10 6 8-12 62-21 6-9-2-39-29zM934 521l-11 0-25-17-5-5-12-39 6-9 71-28 8 3 5 7 5 20zM951 557l-8-16 1-10 35-58 4-4 12 1 30 25-13 57-3 6-7 2-41 2zM1059 502l-3 47-5 4-13 0-10-7 9-42 8-8 7-1zM926 559l-83 34-8-6-7-21 56-47 6-3 7 2 34 24 2 9zM1022 570l10-5 15 1 9 5 3 31-5 10-9 2-11-6-12-27zM861 638l-7-7-4-16 0-5 7-7 74-33 5 0 9 6-4 44-3 6-6 3zM960 578l9-5 34 1 22 42 0 9-23 49-25-1-23-38-2-7zM1035 633l10-7 11 1 4 4 5 30-5 11-25 2-10-5-1-11zM935 641l11 5 15 26 2 7-4 6-11 11-68-7-9-5-10-18 0-10 8-5zM1065 727l-10 5-21-3-14-28 1-10 9-5 31 1 6 9zM937 709l4 11-7 33-12 3-30-13-6-27 2-9 10-4zM1021 740l-11 30-7 7-47-9-8-7 7-52 21-22 25 3 20 42zM1053 791l-27-3-6-8 10-30 4-5 7-2 20 3 5 10-4 31zM941 850l-6-52 8-16 9-2 53 12 3 10-4 35-20 23-11 3zM1054 846l-11 2-23-8-3-9 2-20 7-8 25 0 9 7 0 13zM875 818l8-7 34-8 8 10 0 28-3 4-10 2-29-9-7-8zM892 896l-11-2-23-25 3-10 13-10 31 8 7 7-2 10zM1033 902l-10 2-26-11-6-7-2-12 3-5 19-16 29 7 8 9-5 15zM961 938l-26 11-38-22 1-15 36-47 36 10 7 7 2 17-12 33zM1001 951l-11-2-11-11 7-24 9-7 19 6 7 10-5 10zM961 994l-7 4-10-5-2-25 5-10 22-9 13 9 4 11zM869 1034l-4-7-5-69 29-18 39 22 2 46-6 10-39 21-7 1zM837 1478l-1-6 5-9 37-22 10 6 14 21 0 6-8 7-36 8-9-2zM867 1501l29-8 10 2 4 9-1 28-10 5-23-3-11-21zM908 1560l-10 27-7 7-21-2-9-9 10-28 5-5 6-2 15 1 9 6zM899 1631l-2 10-10 12-24-4-8-8 6-28 8-8 18 2 7 3zM821 255l6-10 32-18 10 5 15 27-6 10-33 15-9-5zM767 295l-1-11 4-5 33-18 9 5 19 30-11 30-22 3-10-5zM745 366l-11-4-24-37 4-10 32-19 10 4 21 32-3 9zM832 424l-48-2-7-3-25-25-3-11 39-39 7-3 27 0 18 19 2 8-4 47zM709 491l7-76 6-9 15-6 28 24 3 12-28 65-10 2-15-5zM760 513l-5-9 1-5 27-63 6-2 43 5 5 10-2 6-47 62-9 5zM825 550l-9 3-5-2-12-10-4-10 52-73 9-5 5 1 6 7 13 43zM714 594l24-72 12-1 25 16-1 12-40 50-11 3zM741 618l2-12 44-52 11 1 16 15 4 12-6 9-55 32-6 1zM833 603l9 28-4 11-68 11-11-4 0-12 4-4 56-32 5-2zM782 683l-4-9 4-9 30-6 10 4 2 12-19 15-6 2zM766 688l9 4 4 11-4 8-11 3-8-7-2-10 6-8zM818 733l-6-8-2-22 25-20 11 0 6 9-2 6-18 30-9 6zM856 761l-14 5-5-2-5-10 22-38 9-6 5 1 6 8 3 26zM749 759l-2-10 2-4 9-8 5 0 43 27 5 7-1 6-23-4-24 7zM716 775l9-12 10 0 19 24-10 16-1 9 3 13-21-12-11-30zM825 788l32 22 4 7 3 21-21 19-11-4-11-14 10-16 2-11zM811 845l14 21-2 7-10 12-24 2-11-6-16-37 26 7zM759 891l-11 4-10-7 2-15 7-8 10 1 4 5 3 11zM844 943l-19-49 7-13 11-4 38 34 3 9-2 7-26 17zM740 933l-5-9 6-9 20-10 10 6-1 23-7 9-10-1zM784 909l6-8 22 0 14 31-3 12-29 7-9-2-4-10zM700 976l8-33 7-7 10 1 21 17-1 11-29 17-12-1zM781 971l9-7 50-8 7 10 4 56-10 6-51-3-5-8zM717 997l36-21 11-1 5 9 2 32-8 7-5 0-34-10-8-10zM708 1040l1-12 5-4 50 15 2 11-16 40-6 3-11-6zM779 1089l-6-3-3-12 14-33 54-1 9 6-1 11-4 4zM759 1316l-2-10 2-4 10-4 22 14 4 10-1 5-8 6-10 1zM696 1348l4-12 34-23 10 4 18 23-2 10-4 3-39 15zM785 1353l5-8 16-11 7-2 7 3 11 12 8 20 0 11-24 17-12 0zM784 1404l-55 12-7-10 2-24 44-20 9 7 9 23zM838 1451l-13 0-4-5-9-29 5-8 34-20 23 16 1 19zM800 1466l-88-2-6-10 11-18 7-5 64-14 10 3 3 5 10 26-2 10zM704 1507l-3-5 2-15 2-5 9-4 83 0 5 2 6 9-23 35zM835 1493l13 10 15 38-11 27-5 5-7 1-38-7-4-8-3-21 2-7 23-35 4-4zM709 1557l-6-8-3-19 8-7 5 0 68 16 5 32-7 9-6 3-7 0zM767 1598l-1 23-4 7-8 6-17-1-16-12-13-35 6-9 10 0zM791 1584l10-4 42 7 8 6 1 8-14 45-12 2-46-24 1-25zM793 1724l-11-3-22-24 1-48 4-8 8-3 47 20 5 5-2 32-4 7zM839 1668l7-9 31 7 2 11-3 22-5 8-9 1-24-9-2-10zM861 1731l-13 23-10 6-27-15-4-3-1-10 18-18 11-3 23 10zM681 1745l1-13 14-17 49-8 10 3 22 23 3 9-11 19-11 5-68-12-6-3zM838 1791l-22 17-9 2-28-20-4-8 1-10 14-19 11 0 38 25zM798 1831l-9 20-17 5-20-19 1-10 16-22 11 1 19 15zM755 1867l-24 24-6 0-8-10 13-28 8-6 9 4 8 10zM658 369l-1-11 3-4 31-22 10 5 30 43-6 11-12 6-30-1-7-4zM613 416l-9-10 4-10 31-23 10 4 15 21-3 10-18 16zM703 422l-7 63-3 6-25 6-6-4-3-6-7-52 26-26 21 3zM644 496l-25 8-8-6-8-18 6-40 8-8 16 3 7 9 7 43zM682 509l21-3 13 5 7 8-20 66-9 7-10-4-2-6-4-64zM624 518l28-10 12 3 6 72-6 10-6 1-9-6-26-58zM572 549l25-19 11 1 30 62-2 11-5 4-11-3-46-45zM653 618l22-4 20 4 20 15 7 13 2 5-11-14-19-5-13 1-22 10-16 17-7 21 5 20 10 9-11-6-9-12-8-24 4-21 8-15zM728 680l8 7 12 33-2 11-13 11-11-2-26-28 0-5 16-12 10-15zM680 717l33 32-1 10-6 7-10 1-22-8-12-25 1-12 5-3zM657 755l6 13-2 17-19 38-7 7-8 2-10-3-5-7 0-9 29-54 4-4zM662 867l-14-20 4-10 63-10 10 5 2 5-5 10-31 21zM706 872l13-3 6 8-1 10-6 8-10-1-6-7-1-6zM590 925l26-70 9-7 6 1 19 23 2 7-4 37-4 7-8 5-33 6-10-4zM663 890l6-8 16 1 14 24 0 11-11 5-23-6-4-9zM663 932l22 2 9 8-9 29-6 3-10-6-13-26zM583 952l55-10 20 32-1 12-12 4-58-17-7-8 0-5zM662 1014l0-13 7-11 7-4 17 2 11 12-2 17-12 11-13 0-11-7zM576 983l66 18 8 10-2 6-50 30-12-1-19-47 2-11zM601 1065l5-9 44-24 12 1 4 5-16 54-12 1-32-18zM667 1083l10-35 10-8 10 6 21 40-6 10-34 1-9-5zM570 1168l-7-28 23-55 12-1 42 26-4 47-5 8-52 7zM651 1147l2-29 5-8 41-1 9 5 0 11-4 4-37 22-6 2zM593 1273l-18-28 0-11 9-6 39 2 6 9-2 6-16 27-9 6zM613 1304l0-11 38-62 24 1 17 5 3 5-3 11-52 58-9 4zM650 1327l2-11 50-56 10-3 19 15 0 25-49 37-8 2-16-2zM636 1339l-4 13-44 38-5 3-11-5 0-12 36-54 11 1 10 6zM651 1349l9-3 20 5 29 29 1 42-13 20-5 1-9-4-27-34-9-46zM602 1418l-9-7 3-12 25-21 5-3 11 4 3 15-1 7-5 5zM619 1449l-11-5-1-6 6-10 30-12 5 1 10 10 2 11-4 4zM691 1460l3 14-5 14-4 3-64-8-9-8 3-11 6-3 55-8zM608 1512l0-12 11-5 50 7 6 2 4 11-8 8-20 7-8-1zM623 1605l3-34 22-26 27-10 12 3 5 17-5 14-50 47-10-2zM695 1592l9 18-3 12-30 7-10-4-2-5 3-10 23-20zM681 1660l-6-8 4-11 13-3 11 3 2 6-4 10-10 7zM580 1686l-8-6-1-5 27-47 4-4 10-2 12 5 4 3 1 9-7 26-5 7-16 9zM702 1699l-7-8 0-11 3-5 32-27 9-3 5 3 5 9-3 33-8 6zM633 1672l7-22 5-3 11 4 26 32 3 19-8 16-9 5-10-6zM603 1760l-6-8 3-10 25-9 32-1 10 7 2 4 0 17-7 14-9 6zM731 1831l-61-33-1-11 12-20 71 10 8 6 0 11-20 31zM575 1783l-1-11 4-5 11-1 55 25 6 10-19 30-9 5-5-1zM699 1878l-18 1-34-34-3-4 2-10 14-17 10 0 47 26 0 11-10 21zM604 1869l18-19 8-1 6 3 34 37-6 19-9 7-27 1-23-40zM712 1906l-23 19-6 0-5-3-2-12 8-16 21-4 5 5zM623 1949l0-10 5-7 34-4 16 23 1 14-23 19-13 1zM583 458l-16-10-4-12 18-18 11-2 7 7-4 27-7 8zM554 476l7-10 5-1 23 15 11 23-1 11-8 5-10 0zM471 526l4-6 11-3 8 6 2 11-4 5-11 2-8-5zM518 531l3-11 11-2 21 19 2 11-5 6-10 1zM471 556l11-2 43 19 1 11-7 13-11 2-28-13-13-20zM535 598l12-27 9-5 5 0 51 48 3 11-4 5-11 2-58-25zM494 646l-49-7-7-14 2-11 34-13 29 9 4 3 3 10-7 19zM515 648l7-23 8-8 65 26 7 9-6 10-6 2-64-2-6-3zM523 716l-9-21 1-12 6-8 69 1 10 6 0 6-7 9-60 21zM548 770l-18-24 1-12 66-25 11 2 3 5-3 11-49 42zM594 812l-16-5-12-14-2-11 52-46 11-1 7 9-2 6-30 57zM461 840l-10-3-3-5-11-35 2-10 71-33 10 1 12 17 1 10zM517 883l-22-1-7-4-15-16-2-11 67-56 11-2 14 15 3 9zM561 921l-25-24-4-10 42-59 6-4 7 0 17 9 3 6 0 6-28 72-8 6zM549 988l-71-25-5-4-1-10 17-47 7-7 24 4 49 47-4 24-7 13zM518 1009l-35 25-7-2-13-9-5-9 12-30 8-6 37 12 7 8zM490 1049l51-43 10-2 7 6 15 47-9 8-57 10-15-16zM489 1074l7 11 0 5-5 13-4 3-27-3-8-6 0-10 4-4 23-13zM510 1124l-8-8 8-26 46-11 10 4 2 11-16 37-10 2zM549 1149l5 19-9 7-50 5-10-5 0-11 19-27 7 0zM448 1234l50-3 5 1 6 10-26 39-28 3-10-5-2-5 0-31zM502 1294l-3-10 1-5 31-45 13-5 10 5 34 57-3 10-5 2-28 6zM471 1295l17 2 8 8 1 49-6 10-12-2-4-5-13-48 3-11zM518 1314l13 2 8 8-8 33-9 8-11-5-2-6 0-29 4-9zM542 1366l13-44 19-6 11 5 0 12-23 36-11 5zM449 1482l-9-9-2-13 3-19 9-18 15-13 19-8 20 0 19 7 3 9-4 25-19-4-19 4-14 11-4 9-2 9 4 14zM564 1419l18 15 10 22-5 29-5 6-10 6-8 0-26-12 4-14-2-9-7-11 7-32 11-3zM503 1505l18-4 10-6 26 13 2 9-7 32-19 11-16-1-6-3-3-6zM568 1536l6-22 11-4 8 7 3 21-6 10-18-2zM590 1563l12 3 9 9 0 17-5 10-11 0-16-23 0-12zM564 1610l-13-2-4-6-5-24 9-8 11 5 12 18 0 11zM511 1584l11-5 5 3 8 19-3 11-11 3-10-5-2-7zM486 1620l-10 2-7-8 6-27 9-8 11 5 2 6-1 22zM494 1631l15-7 11 3 7 6-1 30-6 9-11-1-4-4-11-26zM539 1669l2-41 11-6 22 1 5 10-1 6-19 31-10 5zM560 1693l12 10 10 31-3 16-14 10-5-1-7-8-9-47 4-11zM480 1748l6-45 8-5 10 0 5 10-1 54-8 6-5-1-12-11zM472 1861l-14-4-16-14-4-11 45-47 11-3 5 3 3 11-18 58-3 4zM555 1786l11 4 39 52-3 10-14 11-24 3-7-9-11-58 4-11zM495 1858l18-58 3-5 11-3 7 9 10 65-9 7-28 1-11-6zM561 1882l22-6 7 1 5 5 19 39 0 9-5 8-33 8-10-4-9-50zM508 1956l-10-8 0-6 10-52 8-4 23 0 6 9 6 46-8 7zM588 1992l-11-4-4-24 9-7 21-4 9 2 9 17 0 10-9 6zM525 2008l-7-9-3-21 3-9 29-10 11 4 5 26-3 9zM455 1998l10-32 19-7 13 6 5 7 4 29-5 11-37 0-5-2zM419 589l13-20 8-6 12 5 9 15-3 9-25 9-10-2zM384 654l-4-10 2-5 18-26 11-5 7 4 12 26-2 12-18 17-10-1zM424 704l-7-8-1-14 27-29 52 5 9 7-1 21-5 8zM343 703l1-11 19-25 10-5 27 18 4 8 3 21-9 21-10 6zM403 750l12-26 8-6 77-11 7 7 6 14 1 5-6 9-74 32-12-1-15-14zM304 756l1-11 19-25 10-5 42 30 5 9-5 8-34 21zM341 843l-4-6 0-7 9-30 4-6 42-27 9 3 21 21 16 52-6 8-43 23zM376 882l5 10-7 37-29 13-55-34-5-10 25-41 11-7 11 1zM458 946l-51-2-15-9-4-10 7-38 52-29 9 3 23 28-17 52zM379 943l15 11 5 46-5 10-17 9-13-5-22-38 5-17 6-6zM418 1007l-7-9-1-35 10-5 36 3 6 9-1 5-17 37-11 1zM397 1023l10-6 5 1 10 4 7 8-7 26-7 7-6 0-8-7-8-25zM433 1065l7-26 7-7 10 2 16 12 0 11-23 16-11 0zM351 1054l16-22 11 2 12 27-1 10-9 5-24-12zM330 1103l0-10 5-13 10-6 24 11 6 9-4 9-5 2-23 5-6-1zM436 1109l-10 14-9 3-16-3-11-12 0-17 11-13 16-3 15 8 5 16zM463 1149l-17-21 3-10 9-3 28 5 4 10-10 18-8 5zM340 1143l-3-12 3-6 6-3 28-5 7 8-2 10-18 20-11-3zM421 1143l9-6 9 4 22 25 2 12-4 4-27 3-10-6zM367 1171l26-32 5-1 9 6 2 30-5 10-31 1-6-8zM382 1241l10-6 33 0 6 10-1 38-14 7-10 0-23-39zM314 1250l1-6 9-6 35 0 34 55 0 11-13 9-10 1zM417 1303l15-6 12 1 20 62-3 12-6 2-11-5-32-50-2-6zM370 1340l4-8 13-9 11-1 36 54 0 12-11 5-5-3-44-38zM367 1385l7-9 11 2 25 21 3 5-3 12-12 1-26-11-5-5zM346 1432l8-12 9-4 30 12 6 10-1 6-11 5-31-4-9-7zM317 1488l-5-18 3-10 15-7 55 8 9 8-3 11-6 3-58 8zM325 1534l-6-23 9-8 59-8 11 5 1 6-6 10-54 24-5 1zM437 1530l0-22 4-11 10-3 31 7 8 10 5 44-3 4-14 5-24-7-6-5zM369 1567l-12-6-2-10 2-4 35-18 10 1 5 9-4 9-23 17zM425 1623l-3-4 0-11 22-32 8-5 5 0 7 8 0 6-12 33-17 7zM344 1626l-14-28 2-18 8-9 34 11 31 33 5 22-8 10-10 2-16-4zM438 1638l17-7 22 5 17 35-1 12-4 3-11-1-39-31-4-4zM417 1678l2-10 10-4 27 19 4 11-9 8-19 3-7-7zM350 1704l-9-6-1-10 15-13 11-2 5 4 0 12-10 15zM389 1745l-12-2-8-26 18-33 11-5 9 7 8 25zM446 1721l11-8 10 3 3 13-6 9-10 0-6-7zM433 1755l-18 4-8-7 2-10 11-13 10 0 8 9 2 10zM401 1799l-2-16 7-7 53-16 12 2 4 5-3 12-45 43-11-4zM307 1777l10-9 50-7 8 2 6 6 5 18-6 11-70 33-9-6-2-10zM322 1852l0-11 5-3 56-28 10 0 4 3 13 18-3 10-52 48-7-1-14-11zM404 1927l-34-23 2-12 44-42 10-3 21 18-1 9-29 53zM461 1952l-23-15-5-9 1-5 23-44 5-5 19 1 8 4 6 11-9 50-8 9zM339 1971l22-48 12-1 23 15 1 10-15 41-11 2-25-10zM396 1992l13-43 7-7 10 1 24 20-7 35-8 8-31-6zM268 813l-5-10 3-6 23-29 11 2 33 26-9 35-10 9-11-2zM225 861l1-11 19-26 10-4 36 24 5 10-19 32-10 5zM174 931l1-11 35-47 11 2 37 28-1 11-18 23-56 0zM268 920l9-4 6 2 46 30 5 9-8 18-51 29-10-8-14-45 2-10zM127 1024l-10-3-4-9 2-5 29-43 4-4 11 1 5 10-3 42zM237 952l4 6 17 58-12 15-7 4-31 2-7-2-25-20 2-60 9-6zM354 1024l-13 19-9 4-37-20-5-9 5-10 33-19 10 5zM267 1083l-13-41 12-13 9 0 51 31 1 10-11 20-39 0zM162 1027l10 2 16 11 4 9-1 4-24 57-35 11-12-8-4-7-8-60 8-7zM94 1110l-30 5-7-10 21-39 9-5 9 4 6 33 0 5zM244 1054l14 45-12 37-10 8-48-26-5-9 24-58 26-4 7 2zM254 1150l17-46 40 0 5 1 8 11 1 16-7 8-49 23-11-1zM135 1186l3-51 34-12 65 37 5 6 3 14-2 4-9 5-89 2zM116 1191l-67 3-10-2-2-15 10-43 57-13 5 0 11 8 4 9-2 44zM284 1176l6-9 38-16 21 17 3 9-2 5-8 5-47 1-10-6zM230 1291l-23-35-1-11 10-6 57 2 5 10-2 6-22 28-14 7zM95 1288l-9-35 5-9 38-4 9 6 0 11-23 39-14-1zM133 1309l-4-9 2-5 28-50 9-5 13 1 4 4 36 58-8 15-53 10-10-3zM269 1287l19-26 11-4 55 59 3 11-9 7-16 3-8-2-51-37zM310 1341l-3 12-13 12-12 2-46-21-6-5-5-16 7-14 5-5 17-6zM112 1393l-12-71 6-11 7-2 6 3 25 26-16 56-11 3zM211 1404l-8 11-11 2-46-17-3-11 15-47 47-9 9 3 6 17zM284 1388l0 18-7 10-44-7-8-8 4-29 9-9 40 15zM309 1442l-13-20 1-42 30-28 24-5 7 7 0 5-8 47-27 34-9 4zM207 1434l3-10 8-5 64 12 7 5 8 13 1 11-10 6-73-1-6-9zM184 1497l-10 1-54-20-6-49 6-10 10-6 9-1 54 19 5 36zM193 1509l13-25 9-6 77 0 9 4 4 15 0 5-9 8-88 18-9-2zM125 1558l-5-49 5-10 10-1 45 16 8 27-4 14-7 7-40 6-6-1zM307 1525l7 19-6 8-68 29-36-26 3-12 5-3 85-18zM265 1636l-5-1-7-8-5-25 2-10 55-25 11 1 4 10-3 21zM145 1637l-9-22-5-28 9-7 23-1 6 11-3 38-7 10-9 2zM243 1645l-7 7-26 7-31-22 3-59 4-9 5-2 9 2 30 22 4 6zM289 1682l-19-19-2-11 44-34 11 0 8 9-1 12-29 39zM175 1705l-21-46 2-6 9-4 10 1 24 20-7 30-7 7zM206 1715l-3-11 12-31 29-11 12 3 25 31-7 29-36 15-12-3zM361 1737l-3 12-6 2-45 5-19-27 4-21 7-8 18 2 39 19zM190 1741l2-6 11-3 16 14 2 11-5 15-10 3-5-3zM297 1766l-10 40-11 3-47-15-2-11 9-28 34-14 7 0 6 4zM241 1865l-23-42 2-11 12-3 51 16 2 11-4 5-28 23zM271 1917l-17-26-1-10 38-32 13-1 15 27 0 10-36 30zM292 1945l-6-9 0-6 39-33 13-1 11 8 1 10-24 50-12-1z" fill="#f4c244" stroke="#d2a43a" stroke-width="6" fill-rule="evenodd"/><path d="M-4.3,112.2C-5.3,128.2 -4.8,143.2 -3.7,152.2C-2.8,168.2 -1.3,180.2 0.0,185.2C1.3,180.2 2.8,168.2 3.7,152.2C4.8,143.2 5.3,128.2 4.3,112.2Z" fill="#ebb636" stroke="#d2a43a" stroke-width="0.6"/><path d="M-20.8,73.7C-15.3,83.2 -10.3,94.2 -5.3,110.2L-3.8,109.2C-8.3,93.2 -13.3,81.2 -20.8,73.7Z" fill="#f4c244" stroke="#d2a43a" stroke-width="0.5"/><path d="M20.8,73.7C15.3,83.2 10.3,94.2 5.3,110.2L3.8,109.2C8.3,93.2 13.3,81.2 20.8,73.7Z" fill="#f4c244" stroke="#d2a43a" stroke-width="0.5"/></g>
<g transform="translate(950.40,160.50) scale(1.0000)"><defs><radialGradient id="g3h" cx="50%" cy="75%" r="55%"><stop offset="0" stop-color="#cd7c5e"/><stop offset="0.55" stop-color="#df9678"/><stop offset="1" stop-color="#eeb098"/></radialGradient></defs><path transform="scale(0.1)" d="M-84 1175l-32 3-32 0-163-22-59-4-58 1-88 6-77 10-60 15-111 46-13 10-5 8-11 23-8 35-2 18 4 22-1 12-4 11-8 13-10 45 4 21-1 12-9 21-13 14-1 14 17 16 9 22 0 23-4 11-9 16 3 14 14 15 9 22 0 23-3 11-7 13 2 15 15 10 7 9 9 22 0 24-10 22 3 6 22 14 13 19 4 23-3 18 56 92 6 20 1 18-4 25-12 28-43 60-26 49-11 32 0 10 5 9 6 0 8-6 20-27 26-42 38-79 9-14 16-20 26-16 37-11 21-4 58-4 49-6 18-4 14-8 9-12 9-32 9-19 71-79 34-43 15-26 8-26 19-102 19-67 23-66 30-70 45-93 27-46 17-18 36-15 8-10 4-28-5-32-9-15-6-4zM-669 1257l6 14 2 14-2 14-6 14-8 12-12 8-14 6-14 2-14-2-14-6-12-8-8-12-6-14-2-14 2-14 6-14 8-12 12-8 14-6 14-2 14 2 14 6 12 8zM-529 1380l11 19 2 11-2 11-11 19-9 7-21 6-21-6-9-7-11-19-2-11 2-11 11-19 9-7 21-6 21 6zM-705 1442l10 14 7 17 2 17-2 17-7 17-10 14-14 10-17 7-17 2-17-2-17-7-14-10-10-14-7-17-2-16 9-15 5-26 5-8 14-10 17-7 17-2 17 2 17 7zM-457 1534l8 11 5 12 1 13-1 13-5 12-8 11-11 8-12 5-13 1-13-1-12-5-11-8-8-11-5-12-1-13 1-13 5-12 8-11 11-8 12-5 13-1 13 1 12 5zM-704 1615l9 13 7 15 2 16-2 16-7 15-9 13-13 9-15 7-16 2-16-2-15-7-13-9-7-10 8-19 1-15-1-15-8-19 7-10 13-9 15-7 16-2 16 2 15 7zM-647 1771l10 14 7 17 2 17-2 17-7 17-10 14-14 10-17 7-17 2-17-2-17-7-8-6 0-25-4-14-7-13-12-14 7-20 10-14 14-10 17-7 17-2 17 2 17 7zM-536 1895l10 14 7 17 2 17-2 17-7 17-7 10-51 4-35 9-13-9-10-14-7-17-2-17 2-17 7-17 10-14 14-10 17-7 17-2 17 2 17 7zM-528 1318l-2-10 3-10 17-23 22-15 68-33 62-24 63-17 46-4 14 1 6 5-5 12-15 13-109 50-107 58-24 8-20 4-10-3zM-500 1450l-1-23 8-33 14-23 22-21 36-26 147-85 41-17 11-1 7 3 4 7-1 10-12 17-160 141-35 32-39 41-12 6-15-3-11-12zM-403 1526l-3-11-1-20 8-31 14-22 34-42 43-48 72-62 22-15 5-1 9 2 5 7 0 9-14 28-46 66-48 75-49 68-14 13-10 2-11-1-8-5zM-273 1542l-11-17-2-14 6-35 11-28 30-58 36-58 23-29 10-7 7-2 3 7-2 15-10 38-41 93-38 93-8 10zM-357 1600l12 20 5 28-5 28-5 12-7 8-8 6-9 2-9-2-8-6-7-8-8-26-2-14 5-28 12-20 8-6 9-2 9 2zM-330 1752l8 12 6 14 2 14-45 55-11 1-14-2-14-6-12-8-8-12-6-14-2-14 2-14 6-14 8-12 12-8 14-6 14-2 14 2 14 6zM-424 1859l8 12 6 14 2 14-14 20-8 24-20 10-14 2-14-2-14-6-12-8-8-12-6-14-2-14 2-14 6-14 8-12 12-8 14-6 14-2 14 2 14 6zM70 1176l-11 10-7 19-2 22 4 28 8 10 36 15 17 18 27 46 45 93 30 70 23 66 19 67 19 102 8 26 15 26 34 43 71 79 9 19 9 32 9 12 14 8 18 4 49 6 58 4 21 4 37 11 26 16 16 20 9 14 38 79 26 42 20 27 8 6 6 0 5-9 0-10-11-32-26-49-43-60-12-28-4-25 1-18 6-20 56-92-3-18 4-23 13-19 22-14 3-6-10-22 0-24 9-22 7-9 15-10 2-15-7-13-3-11 0-23 9-22 14-15 3-14-9-16-4-11 0-23 9-22 17-16-1-14-13-14-9-21-1-12 4-21-10-45-8-13-4-11-1-12 4-22-2-18-8-35-11-23-5-8-13-10-111-46-60-15-77-10-88-6-58-1-59 4-163 22-32 0-32-3zM689 1237l14-6 14-2 14 2 14 6 12 8 8 12 6 14 2 14-2 14-6 14-8 12-12 8-14 6-14 2-14-2-14-6-12-8-8-12-6-14-2-14 2-14 6-14 8-12zM548 1369l22 0 10 4 16 16 4 10 0 22-4 10-16 16-10 4-22 0-10-4-16-16-4-10 0-22 4-10 16-16zM736 1425l17-2 17 2 17 7 14 10 5 8 5 26 9 15-2 16-7 17-10 14-14 10-17 7-17 2-17-2-17-7-14-10-10-14-7-17-2-17 2-17 7-17 10-14 14-10zM480 1521l13-1 13 1 12 5 11 8 8 11 5 12 1 13-1 13-5 12-8 11-11 8-12 5-13 1-13-1-12-5-11-8-8-11-5-12-1-13 1-13 5-12 8-11 11-8zM732 1599l16-2 16 2 15 7 13 9 7 10-8 19-1 15 1 15 8 19-7 10-13 9-15 7-16 2-16-2-15-7-13-9-9-13-7-15-2-16 2-16 7-15 9-13 13-9zM678 1754l17-2 17 2 17 7 14 10 10 14 7 17 0 3-12 14-7 14-4 13 0 25-8 6-17 7-17 2-17-2-17-7-14-10-10-14-7-17-2-17 2-17 7-17 10-14 14-10zM567 1878l17-2 17 2 17 7 14 10 10 14 7 17 2 17-2 17-7 17-10 14-13 9-35-9-51-4-7-10-7-17-2-17 2-17 7-17 10-14 14-10zM523 1327l-9 5-11 0-38-11-107-58-109-50-15-13-5-12 6-5 23-1 47 7 73 21 63 26 55 29 19 15 9 12 6 16-2 10zM496 1463l-6 9-9 5-11 1-12-6-39-41-35-32-160-141-12-17-1-10 4-7 7-3 11 1 41 17 147 85 44 33 20 21 11 24 5 33zM398 1535l-11 8-16 1-10-5-9-10-49-68-48-75-46-66-14-28 0-9 5-7 9-2 11 4 70 57 36 35 59 72 14 22 7 24 0 27zM263 1549l-7 0-5-9-38-93-41-93-10-38-2-15 3-7 7 2 10 7 23 29 36 58 35 68 10 36 1 24-8 19zM365 1594l9-2 9 2 8 6 7 8 5 12 5 28-5 28-5 12-7 8-8 6-9 2-9-2-8-6-7-8-5-12-5-28 5-28 5-12 7-8zM356 1738l14-2 14 2 14 6 12 8 8 12 6 14 2 14-2 14-6 14-8 12-12 8-14 6-14 2-11-1-45-55 2-14 6-14 8-12 12-8zM450 1845l14-2 14 2 14 6 12 8 8 12 6 14 2 14-2 14-6 14-8 12-12 8-14 6-14 2-14-2-20-10-8-24-14-20 2-14 6-14 8-12 12-8z" fill="url(#g3h)" stroke="#c98a70" stroke-width="7" fill-rule="evenodd"/><path transform="scale(0.1)" d="M-67 1037l-44-94-58-108-41-65-49-70-77-97-116-134-79-84-53-49-51-39-52-33-103-61-155-96-75-39-102-41-78-24-24-4-19 1-21 5-14 9-9 20-4 20 0 12 16 53 14 31 4 17 11 28 9 21 11 18 5 20 17 42 11 12 6 11 4 24 14 30 10 8 13 19 3 11 1 18 11 23 13 10 13 19 4 11 0 23 3 5 4 10 16 11 13 19 4 23-1 12 10 23 11 12 9 22 2 11-4 19 3 16 14 10 7 9 9 22 0 23-7 19 18 8 16 16 9 22 1 12-2 17 6 10 18 8 16 16 9 22 1 19 7 9 20-4 23 5 20 13 13 19 7 2 15-6 23 0 22 9 13 13 273 52 132 32 160 46 30 11 74 33 30 10 10 0 7-3 4-6 2-7-2-21-11-43zM-1082 152l5 11 2 12-2 11-5 9-9 8-11 5-13 3-28-4-23-15-8-10-5-11-2-12 2-11 5-9 9-8 11-5 13-3 28 4 23 15zM-898 170l11 21 1 12-1 12-11 21-9 8-10 5-11 1-11-1-10-5-9-8-7-9-5-24 1-12 11-21 9-8 10-5 11-1 11 1 10 5zM-999 272l5 13 2 13-2 13-7 11-9 9-13 6-14 3-15-1-16-4-14-6-12-10-9-11-5-13-2-13 2-13 7-11 9-9 13-6 14-3 15 1 16 4 14 6 12 10zM-816 296l5 11 2 12-2 11-5 9-9 8-11 5-13 3-28-4-23-15-8-10-5-11-2-12 2-11 5-9 9-8 11-5 13-3 28 4 23 15zM-936 385l9 11 5 13 2 14-2 14-5 13-9 11-11 9-13 5-14 2-14-2-13-5-11-9-9-11-5-13-2-14 2-14 5-13 9-11 11-9 13-5 14-2 14 2 13 5zM-756 391l8 11 5 13 1 14-1 14-5 13-8 11-10 9-11 5-13 2-13-2-11-5-10-9-8-11-5-13-1-14 1-14 5-13 8-11 10-9 11-5 13-2 13 2 11 5zM-885 499l9 14 5 16 2 17-2 17-5 16-9 14-11 10-13 7-14 2-14-2-13-7-11-10-9-14-5-16-2-17 2-17 5-16 9-14 11-10 13-7 14-2 14 2 13 7zM-815 643l10 15 7 18 2 19-2 19-7 18-10 15-14 11-16 8-17 2-17-2-16-8-14-11-10-15-7-18-2-19 2-19 7-18 10-15 14-11 16-8 17-2 17 2 16 8zM-760 292l0-8 3-2 20-1 21 7 26 17 86 77 202 161 77 92 5 5-1 4-10 5-14-6-74-67-168-134-117-100-42-29-9-10zM-708 523l7 10 5 24-5 24-7 10-9 8-10 5-11 1-11-1-10-5-9-8-7-10-5-24 5-24 7-10 9-8 10-5 11-1 11 1 10 5zM-599 615l0-14 6-12 23-17 19-7 20-1 23 3 24 8 26 14 94 71 78 72 87 93 28 41 7 22-2 2-11-2-27-13-252-164-120-63-15-13zM-618 689l9 14 5 16 2 17-2 17-5 16-9 14-11 10-13 7-14 2-14-2-13-7-11-10-9-14-5-16-2-17 2-17 5-16 9-14 11-10 13-7 14-2 14 2 13 7zM-523 803l-2-14 4-14 12-14 16-11 9-2 20 1 47 19 39 25 82 58 51 42 54 55 20 28 7 19-2 2-11 1-27-10-109-71-58-35-86-40-48-16-11-10zM-716 811l9 19 6 21 2 24-2 24-6 21-9 19-13 15-14 9-16 3-8-2-22-10-13-15-9-19-6-21-2-24 2-24 6-21 9-19 13-15 14-9 16-3 16 3 14 9zM-540 838l8 15 5 18 1 19-1 19-5 18-8 15-10 11-11 8-13 2-13-2-11-8-10-11-8-15-5-18-1-19 1-19 5-18 8-15 10-11 11-8 13-2 13 2 11 8zM-477 996l-2-15 2-6 16-20 19-11 24-2 48 10 78 26 88 39 13 11 1 5-1 5-10 10-16 7-39 3-48-3-52-9-93-23-15-8zM50 1078l-15 47-4 24 2 17 4 6 7 3 10 0 30-10 74-33 30-11 160-46 132-32 273-52 13-13 22-9 23 0 15 6 7-2 13-19 20-13 23-5 20 4 7-9 1-19 9-22 16-16 18-8 6-10-2-17 1-12 9-22 16-16 18-8-7-19 0-23 9-22 7-9 14-10 3-16-4-19 2-11 9-22 11-12 10-23-1-12 4-23 13-19 16-11 4-10 3-5 0-23 4-11 13-19 13-10 11-23 1-18 3-11 13-19 10-8 14-30 4-24 6-11 11-12 17-42 5-20 11-18 9-21 11-28 4-17 14-31 16-53 0-12-4-20-9-20-14-9-21-5-19-1-24 4-78 24-102 41-75 39-155 96-103 61-52 33-51 39-79 76-78 86-112 130-74 96-46 68-49 86-58 112zM1101 133l26-9 14-1 13 3 11 5 9 8 5 9 2 11-2 12-5 11-8 10-23 15-28 4-13-3-11-5-9-8-5-9-2-11 2-12 5-11 8-10zM917 157l11-1 11 1 10 5 9 8 7 9 4 12 0 24-4 12-7 9-9 8-10 5-11 1-11-1-10-5-9-8-11-21-1-12 5-24 7-9 9-8zM1020 251l14-6 16-4 15-1 14 3 13 6 9 9 7 11 2 13-2 13-5 13-9 11-12 10-14 6-16 4-15 1-14-3-13-6-9-9-7-11-2-13 2-13 5-13 9-11zM835 277l26-9 14-1 13 3 11 5 9 8 5 9 2 11-2 12-5 11-8 10-11 9-26 9-14 1-13-3-11-5-9-8-5-9-2-11 2-12 5-11 8-10zM960 371l14-2 14 2 13 5 11 9 9 11 5 13 2 14-2 14-5 13-9 11-11 9-13 5-14 2-14-2-13-5-11-9-9-11-5-13-2-14 2-14 5-13 9-11 11-9zM777 377l13-2 13 2 11 5 10 9 8 11 5 13 1 14-1 14-5 13-8 11-10 9-11 5-13 2-13-2-11-5-10-9-8-11-5-13-1-14 1-14 5-13 8-11 10-9zM909 482l14-2 14 2 13 7 11 10 9 14 5 16 2 17-2 17-5 16-9 14-11 10-13 7-14 2-14-2-13-7-11-10-9-14-5-16-2-17 2-17 5-16 9-14 11-10zM845 624l17-2 17 2 16 8 14 11 10 15 7 18 2 19-2 19-7 18-10 15-14 11-16 8-17 2-17-2-16-8-14-11-10-15-7-18-2-19 2-19 7-18 10-15 14-11zM755 303l-9 10-42 29-117 100-183 146-59 55-14 6-10-5-1-4 5-5 77-92 202-161 86-77 26-17 11-4 18-3 15 3 0 8zM727 510l11-1 11 1 10 5 9 8 7 10 4 11 0 26-4 11-7 10-9 8-10 5-11 1-11-1-10-5-9-8-11-21-1-13 5-24 7-10 9-8zM595 629l-8 11-11 8-120 63-241 158-38 19-11 2-2-2 7-22 28-41 87-93 78-72 94-71 26-14 24-8 33-3 19 4 19 9 18 18 3 13zM642 672l14-2 14 2 13 7 11 10 9 14 5 16 2 17-2 17-5 16-9 14-11 10-13 7-14 2-14-2-13-7-11-10-9-14-5-16-2-17 2-17 5-16 9-14 11-10zM516 816l-11 10-48 16-86 40-58 35-109 71-27 10-11-1-2-2 7-19 20-28 54-55 51-42 82-58 39-25 47-19 20-1 9 2 16 11 15 21 1 14zM743 787l16-3 16 3 14 9 13 15 9 19 6 21 2 24-2 24-6 21-9 19-13 15-9 5-21 7-16-3-14-9-13-15-9-19-6-21-2-24 2-24 6-21 9-19 13-15zM561 819l13-2 13 2 11 8 10 11 8 15 5 18 1 19-1 19-5 18-8 15-10 11-11 8-13 2-13-2-11-8-10-11-8-15-5-18-1-19 1-19 5-18 8-15 10-11zM470 1009l-13 10-28 10-91 21-50 6-47 2-24-3-16-7-10-10-1-5 1-5 13-11 88-39 78-26 48-10 13 0 21 7 21 19 6 13 0 8z" fill="#f2bfa6" stroke="#c98a70" stroke-width="7" fill-rule="evenodd"/><path transform="scale(0.1)" d="M-537 1308l5 18 9 9 7 4 21-1 24-7 116-62 109-50 18-15 5-11 0-8-5-6-15-4-43 2-63 16-53 18-52 24-53 29-19 18-8 13zM537 1308l-5 18-9 9-7 4-21-1-24-7-116-62-109-50-18-15-5-11 0-8 5-6 15-4 43 2 63 16 53 18 52 24 53 29 19 18 8 13zM-508 1427l1 25 9 21 16 11 12 1 10-3 14-12 32-34 44-41 151-132 14-20 1-13-3-7-7-7-8-2-13 2-23 8-62 33-115 68-35 26-21 23-12 26zM508 1427l-1 25-9 21-16 11-12 1-10-3-14-12-32-34-44-41-151-132-14-20-1-13 3-7 7-7 8-2 13 2 23 8 62 33 115 68 35 26 21 23 12 26zM-414 1510l7 24 13 13 11 4 14 0 7-3 11-9 54-74 48-75 51-74 8-16 3-13-1-7-7-9-7-3-8-1-22 10-63 53-36 36-70 87-10 25zM414 1510l-7 24-13 13-11 4-14 0-7-3-11-9-54-74-48-75-51-74-8-16-3-13 1-7 7-9 7-3 8-1 22 10 63 53 36 36 70 87 10 25zM-291 1527l8 15 17 14 9 1 10-9 85-201 9-46-2-8-5-5-7-1-7 3-22 20-26 38-29 48-25 49-11 29-5 28zM291 1527l-8 15-17 14-9 1-10-9-85-201-9-46 2-8 5-5 7-1 7 3 22 20 26 38 29 48 25 49 11 29 5 28z" fill="#fffcfa" stroke="#9c6a56" stroke-width="8"/><path d="M-4.8,127.5C-5.0,144.5 -3.9,157.5 -0.4,161.0C3.1,157.5 4.2,144.5 4.0,127.5Z" fill="#c97552"/><rect x="-6.8" y="108.9" width="13.4" height="19" rx="3.5" fill="#d48464"/><path d="M-5.2,110.5V126.5M4.8,110.5V126.5" stroke="#fbe6d6" stroke-width="0.9" stroke-dasharray="2.2 1.2"/><path d="M-2.4,109.5C-6.4,94.5 -14.4,79.5 -25.4,67.5C-29.4,61.5 -27.4,54.5 -22.4,55.0C-18.4,55.5 -17.4,60.5 -20.4,62.5" fill="none" stroke="#b98a74" stroke-width="1"/><path d="M2.4,109.5C6.4,94.5 14.4,79.5 25.4,67.5C29.4,61.5 27.4,54.5 22.4,55.0C18.4,55.5 17.4,60.5 20.4,62.5" fill="none" stroke="#b98a74" stroke-width="1"/></g>
<g transform="translate(950.89,715.22) scale(0.7953)"><defs><radialGradient id="g3h" cx="50%" cy="75%" r="55%"><stop offset="0" stop-color="#cd7c5e"/><stop offset="0.55" stop-color="#df9678"/><stop offset="1" stop-color="#eeb098"/></radialGradient></defs><path transform="scale(0.1)" d="M-84 1175l-32 3-32 0-163-22-59-4-58 1-88 6-77 10-60 15-111 46-13 10-5 8-11 23-8 35-2 18 4 22-1 12-4 11-8 13-10 45 4 21-1 12-9 21-13 14-1 14 17 16 9 22 0 23-4 11-9 16 3 14 14 15 9 22 0 23-3 11-7 13 2 15 15 10 7 9 9 22 0 24-10 22 3 6 22 14 13 19 4 23-3 18 56 92 6 20 1 18-4 25-12 28-43 60-26 49-11 32 0 10 5 9 6 0 8-6 20-27 26-42 38-79 9-14 16-20 26-16 37-11 21-4 58-4 49-6 18-4 14-8 9-12 9-32 9-19 71-79 34-43 15-26 8-26 19-102 19-67 23-66 30-70 45-93 27-46 17-18 36-15 8-10 4-28-5-32-9-15-6-4zM-669 1257l6 14 2 14-2 14-6 14-8 12-12 8-14 6-14 2-14-2-14-6-12-8-8-12-6-14-2-14 2-14 6-14 8-12 12-8 14-6 14-2 14 2 14 6 12 8zM-529 1380l11 19 2 11-2 11-11 19-9 7-21 6-21-6-9-7-11-19-2-11 2-11 11-19 9-7 21-6 21 6zM-705 1442l10 14 7 17 2 17-2 17-7 17-10 14-14 10-17 7-17 2-17-2-17-7-14-10-10-14-7-17-2-16 9-15 5-26 5-8 14-10 17-7 17-2 17 2 17 7zM-457 1534l8 11 5 12 1 13-1 13-5 12-8 11-11 8-12 5-13 1-13-1-12-5-11-8-8-11-5-12-1-13 1-13 5-12 8-11 11-8 12-5 13-1 13 1 12 5zM-704 1615l9 13 7 15 2 16-2 16-7 15-9 13-13 9-15 7-16 2-16-2-15-7-13-9-7-10 8-19 1-15-1-15-8-19 7-10 13-9 15-7 16-2 16 2 15 7zM-647 1771l10 14 7 17 2 17-2 17-7 17-10 14-14 10-17 7-17 2-17-2-17-7-8-6 0-25-4-14-7-13-12-14 7-20 10-14 14-10 17-7 17-2 17 2 17 7zM-536 1895l10 14 7 17 2 17-2 17-7 17-7 10-51 4-35 9-13-9-10-14-7-17-2-17 2-17 7-17 10-14 14-10 17-7 17-2 17 2 17 7zM-528 1318l-2-10 3-10 17-23 22-15 68-33 62-24 63-17 46-4 14 1 6 5-5 12-15 13-109 50-107 58-24 8-20 4-10-3zM-500 1450l-1-23 8-33 14-23 22-21 36-26 147-85 41-17 11-1 7 3 4 7-1 10-12 17-160 141-35 32-39 41-12 6-15-3-11-12zM-403 1526l-3-11-1-20 8-31 14-22 34-42 43-48 72-62 22-15 5-1 9 2 5 7 0 9-14 28-46 66-48 75-49 68-14 13-10 2-11-1-8-5zM-273 1542l-11-17-2-14 6-35 11-28 30-58 36-58 23-29 10-7 7-2 3 7-2 15-10 38-41 93-38 93-8 10zM-357 1600l12 20 5 28-5 28-5 12-7 8-8 6-9 2-9-2-8-6-7-8-8-26-2-14 5-28 12-20 8-6 9-2 9 2zM-330 1752l8 12 6 14 2 14-45 55-11 1-14-2-14-6-12-8-8-12-6-14-2-14 2-14 6-14 8-12 12-8 14-6 14-2 14 2 14 6zM-424 1859l8 12 6 14 2 14-14 20-8 24-20 10-14 2-14-2-14-6-12-8-8-12-6-14-2-14 2-14 6-14 8-12 12-8 14-6 14-2 14 2 14 6zM70 1176l-11 10-7 19-2 22 4 28 8 10 36 15 17 18 27 46 45 93 30 70 23 66 19 67 19 102 8 26 15 26 34 43 71 79 9 19 9 32 9 12 14 8 18 4 49 6 58 4 21 4 37 11 26 16 16 20 9 14 38 79 26 42 20 27 8 6 6 0 5-9 0-10-11-32-26-49-43-60-12-28-4-25 1-18 6-20 56-92-3-18 4-23 13-19 22-14 3-6-10-22 0-24 9-22 7-9 15-10 2-15-7-13-3-11 0-23 9-22 14-15 3-14-9-16-4-11 0-23 9-22 17-16-1-14-13-14-9-21-1-12 4-21-10-45-8-13-4-11-1-12 4-22-2-18-8-35-11-23-5-8-13-10-111-46-60-15-77-10-88-6-58-1-59 4-163 22-32 0-32-3zM689 1237l14-6 14-2 14 2 14 6 12 8 8 12 6 14 2 14-2 14-6 14-8 12-12 8-14 6-14 2-14-2-14-6-12-8-8-12-6-14-2-14 2-14 6-14 8-12zM548 1369l22 0 10 4 16 16 4 10 0 22-4 10-16 16-10 4-22 0-10-4-16-16-4-10 0-22 4-10 16-16zM736 1425l17-2 17 2 17 7 14 10 5 8 5 26 9 15-2 16-7 17-10 14-14 10-17 7-17 2-17-2-17-7-14-10-10-14-7-17-2-17 2-17 7-17 10-14 14-10zM480 1521l13-1 13 1 12 5 11 8 8 11 5 12 1 13-1 13-5 12-8 11-11 8-12 5-13 1-13-1-12-5-11-8-8-11-5-12-1-13 1-13 5-12 8-11 11-8zM732 1599l16-2 16 2 15 7 13 9 7 10-8 19-1 15 1 15 8 19-7 10-13 9-15 7-16 2-16-2-15-7-13-9-9-13-7-15-2-16 2-16 7-15 9-13 13-9zM678 1754l17-2 17 2 17 7 14 10 10 14 7 17 0 3-12 14-7 14-4 13 0 25-8 6-17 7-17 2-17-2-17-7-14-10-10-14-7-17-2-17 2-17 7-17 10-14 14-10zM567 1878l17-2 17 2 17 7 14 10 10 14 7 17 2 17-2 17-7 17-10 14-13 9-35-9-51-4-7-10-7-17-2-17 2-17 7-17 10-14 14-10zM523 1327l-9 5-11 0-38-11-107-58-109-50-15-13-5-12 6-5 23-1 47 7 73 21 63 26 55 29 19 15 9 12 6 16-2 10zM496 1463l-6 9-9 5-11 1-12-6-39-41-35-32-160-141-12-17-1-10 4-7 7-3 11 1 41 17 147 85 44 33 20 21 11 24 5 33zM398 1535l-11 8-16 1-10-5-9-10-49-68-48-75-46-66-14-28 0-9 5-7 9-2 11 4 70 57 36 35 59 72 14 22 7 24 0 27zM263 1549l-7 0-5-9-38-93-41-93-10-38-2-15 3-7 7 2 10 7 23 29 36 58 35 68 10 36 1 24-8 19zM365 1594l9-2 9 2 8 6 7 8 5 12 5 28-5 28-5 12-7 8-8 6-9 2-9-2-8-6-7-8-5-12-5-28 5-28 5-12 7-8zM356 1738l14-2 14 2 14 6 12 8 8 12 6 14 2 14-2 14-6 14-8 12-12 8-14 6-14 2-11-1-45-55 2-14 6-14 8-12 12-8zM450 1845l14-2 14 2 14 6 12 8 8 12 6 14 2 14-2 14-6 14-8 12-12 8-14 6-14 2-14-2-20-10-8-24-14-20 2-14 6-14 8-12 12-8z" fill="url(#g3h)" stroke="#c98a70" stroke-width="7" fill-rule="evenodd"/><path transform="scale(0.1)" d="M-67 1037l-44-94-58-108-41-65-49-70-77-97-116-134-79-84-53-49-51-39-52-33-103-61-155-96-75-39-102-41-78-24-24-4-19 1-21 5-14 9-9 20-4 20 0 12 16 53 14 31 4 17 11 28 9 21 11 18 5 20 17 42 11 12 6 11 4 24 14 30 10 8 13 19 3 11 1 18 11 23 13 10 13 19 4 11 0 23 3 5 4 10 16 11 13 19 4 23-1 12 10 23 11 12 9 22 2 11-4 19 3 16 14 10 7 9 9 22 0 23-7 19 18 8 16 16 9 22 1 12-2 17 6 10 18 8 16 16 9 22 1 19 7 9 20-4 23 5 20 13 13 19 7 2 15-6 23 0 22 9 13 13 273 52 132 32 160 46 30 11 74 33 30 10 10 0 7-3 4-6 2-7-2-21-11-43zM-1082 152l5 11 2 12-2 11-5 9-9 8-11 5-13 3-28-4-23-15-8-10-5-11-2-12 2-11 5-9 9-8 11-5 13-3 28 4 23 15zM-898 170l11 21 1 12-1 12-11 21-9 8-10 5-11 1-11-1-10-5-9-8-7-9-5-24 1-12 11-21 9-8 10-5 11-1 11 1 10 5zM-999 272l5 13 2 13-2 13-7 11-9 9-13 6-14 3-15-1-16-4-14-6-12-10-9-11-5-13-2-13 2-13 7-11 9-9 13-6 14-3 15 1 16 4 14 6 12 10zM-816 296l5 11 2 12-2 11-5 9-9 8-11 5-13 3-28-4-23-15-8-10-5-11-2-12 2-11 5-9 9-8 11-5 13-3 28 4 23 15zM-936 385l9 11 5 13 2 14-2 14-5 13-9 11-11 9-13 5-14 2-14-2-13-5-11-9-9-11-5-13-2-14 2-14 5-13 9-11 11-9 13-5 14-2 14 2 13 5zM-756 391l8 11 5 13 1 14-1 14-5 13-8 11-10 9-11 5-13 2-13-2-11-5-10-9-8-11-5-13-1-14 1-14 5-13 8-11 10-9 11-5 13-2 13 2 11 5zM-885 499l9 14 5 16 2 17-2 17-5 16-9 14-11 10-13 7-14 2-14-2-13-7-11-10-9-14-5-16-2-17 2-17 5-16 9-14 11-10 13-7 14-2 14 2 13 7zM-815 643l10 15 7 18 2 19-2 19-7 18-10 15-14 11-16 8-17 2-17-2-16-8-14-11-10-15-7-18-2-19 2-19 7-18 10-15 14-11 16-8 17-2 17 2 16 8zM-760 292l0-8 3-2 20-1 21 7 26 17 86 77 202 161 77 92 5 5-1 4-10 5-14-6-74-67-168-134-117-100-42-29-9-10zM-708 523l7 10 5 24-5 24-7 10-9 8-10 5-11 1-11-1-10-5-9-8-7-10-5-24 5-24 7-10 9-8 10-5 11-1 11 1 10 5zM-599 615l0-14 6-12 23-17 19-7 20-1 23 3 24 8 26 14 94 71 78 72 87 93 28 41 7 22-2 2-11-2-27-13-252-164-120-63-15-13zM-618 689l9 14 5 16 2 17-2 17-5 16-9 14-11 10-13 7-14 2-14-2-13-7-11-10-9-14-5-16-2-17 2-17 5-16 9-14 11-10 13-7 14-2 14 2 13 7zM-523 803l-2-14 4-14 12-14 16-11 9-2 20 1 47 19 39 25 82 58 51 42 54 55 20 28 7 19-2 2-11 1-27-10-109-71-58-35-86-40-48-16-11-10zM-716 811l9 19 6 21 2 24-2 24-6 21-9 19-13 15-14 9-16 3-8-2-22-10-13-15-9-19-6-21-2-24 2-24 6-21 9-19 13-15 14-9 16-3 16 3 14 9zM-540 838l8 15 5 18 1 19-1 19-5 18-8 15-10 11-11 8-13 2-13-2-11-8-10-11-8-15-5-18-1-19 1-19 5-18 8-15 10-11 11-8 13-2 13 2 11 8zM-477 996l-2-15 2-6 16-20 19-11 24-2 48 10 78 26 88 39 13 11 1 5-1 5-10 10-16 7-39 3-48-3-52-9-93-23-15-8zM50 1078l-15 47-4 24 2 17 4 6 7 3 10 0 30-10 74-33 30-11 160-46 132-32 273-52 13-13 22-9 23 0 15 6 7-2 13-19 20-13 23-5 20 4 7-9 1-19 9-22 16-16 18-8 6-10-2-17 1-12 9-22 16-16 18-8-7-19 0-23 9-22 7-9 14-10 3-16-4-19 2-11 9-22 11-12 10-23-1-12 4-23 13-19 16-11 4-10 3-5 0-23 4-11 13-19 13-10 11-23 1-18 3-11 13-19 10-8 14-30 4-24 6-11 11-12 17-42 5-20 11-18 9-21 11-28 4-17 14-31 16-53 0-12-4-20-9-20-14-9-21-5-19-1-24 4-78 24-102 41-75 39-155 96-103 61-52 33-51 39-79 76-78 86-112 130-74 96-46 68-49 86-58 112zM1101 133l26-9 14-1 13 3 11 5 9 8 5 9 2 11-2 12-5 11-8 10-23 15-28 4-13-3-11-5-9-8-5-9-2-11 2-12 5-11 8-10zM917 157l11-1 11 1 10 5 9 8 7 9 4 12 0 24-4 12-7 9-9 8-10 5-11 1-11-1-10-5-9-8-11-21-1-12 5-24 7-9 9-8zM1020 251l14-6 16-4 15-1 14 3 13 6 9 9 7 11 2 13-2 13-5 13-9 11-12 10-14 6-16 4-15 1-14-3-13-6-9-9-7-11-2-13 2-13 5-13 9-11zM835 277l26-9 14-1 13 3 11 5 9 8 5 9 2 11-2 12-5 11-8 10-11 9-26 9-14 1-13-3-11-5-9-8-5-9-2-11 2-12 5-11 8-10zM960 371l14-2 14 2 13 5 11 9 9 11 5 13 2 14-2 14-5 13-9 11-11 9-13 5-14 2-14-2-13-5-11-9-9-11-5-13-2-14 2-14 5-13 9-11 11-9zM777 377l13-2 13 2 11 5 10 9 8 11 5 13 1 14-1 14-5 13-8 11-10 9-11 5-13 2-13-2-11-5-10-9-8-11-5-13-1-14 1-14 5-13 8-11 10-9zM909 482l14-2 14 2 13 7 11 10 9 14 5 16 2 17-2 17-5 16-9 14-11 10-13 7-14 2-14-2-13-7-11-10-9-14-5-16-2-17 2-17 5-16 9-14 11-10zM845 624l17-2 17 2 16 8 14 11 10 15 7 18 2 19-2 19-7 18-10 15-14 11-16 8-17 2-17-2-16-8-14-11-10-15-7-18-2-19 2-19 7-18 10-15 14-11zM755 303l-9 10-42 29-117 100-183 146-59 55-14 6-10-5-1-4 5-5 77-92 202-161 86-77 26-17 11-4 18-3 15 3 0 8zM727 510l11-1 11 1 10 5 9 8 7 10 4 11 0 26-4 11-7 10-9 8-10 5-11 1-11-1-10-5-9-8-11-21-1-13 5-24 7-10 9-8zM595 629l-8 11-11 8-120 63-241 158-38 19-11 2-2-2 7-22 28-41 87-93 78-72 94-71 26-14 24-8 33-3 19 4 19 9 18 18 3 13zM642 672l14-2 14 2 13 7 11 10 9 14 5 16 2 17-2 17-5 16-9 14-11 10-13 7-14 2-14-2-13-7-11-10-9-14-5-16-2-17 2-17 5-16 9-14 11-10zM516 816l-11 10-48 16-86 40-58 35-109 71-27 10-11-1-2-2 7-19 20-28 54-55 51-42 82-58 39-25 47-19 20-1 9 2 16 11 15 21 1 14zM743 787l16-3 16 3 14 9 13 15 9 19 6 21 2 24-2 24-6 21-9 19-13 15-9 5-21 7-16-3-14-9-13-15-9-19-6-21-2-24 2-24 6-21 9-19 13-15zM561 819l13-2 13 2 11 8 10 11 8 15 5 18 1 19-1 19-5 18-8 15-10 11-11 8-13 2-13-2-11-8-10-11-8-15-5-18-1-19 1-19 5-18 8-15 10-11zM470 1009l-13 10-28 10-91 21-50 6-47 2-24-3-16-7-10-10-1-5 1-5 13-11 88-39 78-26 48-10 13 0 21 7 21 19 6 13 0 8z" fill="#f2bfa6" stroke="#c98a70" stroke-width="7" fill-rule="evenodd"/><path transform="scale(0.1)" d="M-537 1308l5 18 9 9 7 4 21-1 24-7 116-62 109-50 18-15 5-11 0-8-5-6-15-4-43 2-63 16-53 18-52 24-53 29-19 18-8 13zM537 1308l-5 18-9 9-7 4-21-1-24-7-116-62-109-50-18-15-5-11 0-8 5-6 15-4 43 2 63 16 53 18 52 24 53 29 19 18 8 13zM-508 1427l1 25 9 21 16 11 12 1 10-3 14-12 32-34 44-41 151-132 14-20 1-13-3-7-7-7-8-2-13 2-23 8-62 33-115 68-35 26-21 23-12 26zM508 1427l-1 25-9 21-16 11-12 1-10-3-14-12-32-34-44-41-151-132-14-20-1-13 3-7 7-7 8-2 13 2 23 8 62 33 115 68 35 26 21 23 12 26zM-414 1510l7 24 13 13 11 4 14 0 7-3 11-9 54-74 48-75 51-74 8-16 3-13-1-7-7-9-7-3-8-1-22 10-63 53-36 36-70 87-10 25zM414 1510l-7 24-13 13-11 4-14 0-7-3-11-9-54-74-48-75-51-74-8-16-3-13 1-7 7-9 7-3 8-1 22 10 63 53 36 36 70 87 10 25zM-291 1527l8 15 17 14 9 1 10-9 85-201 9-46-2-8-5-5-7-1-7 3-22 20-26 38-29 48-25 49-11 29-5 28zM291 1527l-8 15-17 14-9 1-10-9-85-201-9-46 2-8 5-5 7-1 7 3 22 20 26 38 29 48 25 49 11 29 5 28z" fill="#fffcfa" stroke="#9c6a56" stroke-width="8"/><path d="M-4.8,127.5C-5.0,144.5 -3.9,157.5 -0.4,161.0C3.1,157.5 4.2,144.5 4.0,127.5Z" fill="#c97552"/><rect x="-6.8" y="108.9" width="13.4" height="19" rx="3.5" fill="#d48464"/><path d="M-5.2,110.5V126.5M4.8,110.5V126.5" stroke="#fbe6d6" stroke-width="0.9" stroke-dasharray="2.2 1.2"/><path d="M-2.4,109.5C-6.4,94.5 -14.4,79.5 -25.4,67.5C-29.4,61.5 -27.4,54.5 -22.4,55.0C-18.4,55.5 -17.4,60.5 -20.4,62.5" fill="none" stroke="#b98a74" stroke-width="1"/><path d="M2.4,109.5C6.4,94.5 14.4,79.5 25.4,67.5C29.4,61.5 27.4,54.5 22.4,55.0C18.4,55.5 17.4,60.5 20.4,62.5" fill="none" stroke="#b98a74" stroke-width="1"/></g>
<g transform="translate(946.97,1275.68) scale(0.5763)"><defs><radialGradient id="g3h" cx="50%" cy="75%" r="55%"><stop offset="0" stop-color="#cd7c5e"/><stop offset="0.55" stop-color="#df9678"/><stop offset="1" stop-color="#eeb098"/></radialGradient></defs><path transform="scale(0.1)" d="M-84 1175l-32 3-32 0-163-22-59-4-58 1-88 6-77 10-60 15-111 46-13 10-5 8-11 23-8 35-2 18 4 22-1 12-4 11-8 13-10 45 4 21-1 12-9 21-13 14-1 14 17 16 9 22 0 23-4 11-9 16 3 14 14 15 9 22 0 23-3 11-7 13 2 15 15 10 7 9 9 22 0 24-10 22 3 6 22 14 13 19 4 23-3 18 56 92 6 20 1 18-4 25-12 28-43 60-26 49-11 32 0 10 5 9 6 0 8-6 20-27 26-42 38-79 9-14 16-20 26-16 37-11 21-4 58-4 49-6 18-4 14-8 9-12 9-32 9-19 71-79 34-43 15-26 8-26 19-102 19-67 23-66 30-70 45-93 27-46 17-18 36-15 8-10 4-28-5-32-9-15-6-4zM-669 1257l6 14 2 14-2 14-6 14-8 12-12 8-14 6-14 2-14-2-14-6-12-8-8-12-6-14-2-14 2-14 6-14 8-12 12-8 14-6 14-2 14 2 14 6 12 8zM-529 1380l11 19 2 11-2 11-11 19-9 7-21 6-21-6-9-7-11-19-2-11 2-11 11-19 9-7 21-6 21 6zM-705 1442l10 14 7 17 2 17-2 17-7 17-10 14-14 10-17 7-17 2-17-2-17-7-14-10-10-14-7-17-2-16 9-15 5-26 5-8 14-10 17-7 17-2 17 2 17 7zM-457 1534l8 11 5 12 1 13-1 13-5 12-8 11-11 8-12 5-13 1-13-1-12-5-11-8-8-11-5-12-1-13 1-13 5-12 8-11 11-8 12-5 13-1 13 1 12 5zM-704 1615l9 13 7 15 2 16-2 16-7 15-9 13-13 9-15 7-16 2-16-2-15-7-13-9-7-10 8-19 1-15-1-15-8-19 7-10 13-9 15-7 16-2 16 2 15 7zM-647 1771l10 14 7 17 2 17-2 17-7 17-10 14-14 10-17 7-17 2-17-2-17-7-8-6 0-25-4-14-7-13-12-14 7-20 10-14 14-10 17-7 17-2 17 2 17 7zM-536 1895l10 14 7 17 2 17-2 17-7 17-7 10-51 4-35 9-13-9-10-14-7-17-2-17 2-17 7-17 10-14 14-10 17-7 17-2 17 2 17 7zM-528 1318l-2-10 3-10 17-23 22-15 68-33 62-24 63-17 46-4 14 1 6 5-5 12-15 13-109 50-107 58-24 8-20 4-10-3zM-500 1450l-1-23 8-33 14-23 22-21 36-26 147-85 41-17 11-1 7 3 4 7-1 10-12 17-160 141-35 32-39 41-12 6-15-3-11-12zM-403 1526l-3-11-1-20 8-31 14-22 34-42 43-48 72-62 22-15 5-1 9 2 5 7 0 9-14 28-46 66-48 75-49 68-14 13-10 2-11-1-8-5zM-273 1542l-11-17-2-14 6-35 11-28 30-58 36-58 23-29 10-7 7-2 3 7-2 15-10 38-41 93-38 93-8 10zM-357 1600l12 20 5 28-5 28-5 12-7 8-8 6-9 2-9-2-8-6-7-8-8-26-2-14 5-28 12-20 8-6 9-2 9 2zM-330 1752l8 12 6 14 2 14-45 55-11 1-14-2-14-6-12-8-8-12-6-14-2-14 2-14 6-14 8-12 12-8 14-6 14-2 14 2 14 6zM-424 1859l8 12 6 14 2 14-14 20-8 24-20 10-14 2-14-2-14-6-12-8-8-12-6-14-2-14 2-14 6-14 8-12 12-8 14-6 14-2 14 2 14 6zM70 1176l-11 10-7 19-2 22 4 28 8 10 36 15 17 18 27 46 45 93 30 70 23 66 19 67 19 102 8 26 15 26 34 43 71 79 9 19 9 32 9 12 14 8 18 4 49 6 58 4 21 4 37 11 26 16 16 20 9 14 38 79 26 42 20 27 8 6 6 0 5-9 0-10-11-32-26-49-43-60-12-28-4-25 1-18 6-20 56-92-3-18 4-23 13-19 22-14 3-6-10-22 0-24 9-22 7-9 15-10 2-15-7-13-3-11 0-23 9-22 14-15 3-14-9-16-4-11 0-23 9-22 17-16-1-14-13-14-9-21-1-12 4-21-10-45-8-13-4-11-1-12 4-22-2-18-8-35-11-23-5-8-13-10-111-46-60-15-77-10-88-6-58-1-59 4-163 22-32 0-32-3zM689 1237l14-6 14-2 14 2 14 6 12 8 8 12 6 14 2 14-2 14-6 14-8 12-12 8-14 6-14 2-14-2-14-6-12-8-8-12-6-14-2-14 2-14 6-14 8-12zM548 1369l22 0 10 4 16 16 4 10 0 22-4 10-16 16-10 4-22 0-10-4-16-16-4-10 0-22 4-10 16-16zM736 1425l17-2 17 2 17 7 14 10 5 8 5 26 9 15-2 16-7 17-10 14-14 10-17 7-17 2-17-2-17-7-14-10-10-14-7-17-2-17 2-17 7-17 10-14 14-10zM480 1521l13-1 13 1 12 5 11 8 8 11 5 12 1 13-1 13-5 12-8 11-11 8-12 5-13 1-13-1-12-5-11-8-8-11-5-12-1-13 1-13 5-12 8-11 11-8zM732 1599l16-2 16 2 15 7 13 9 7 10-8 19-1 15 1 15 8 19-7 10-13 9-15 7-16 2-16-2-15-7-13-9-9-13-7-15-2-16 2-16 7-15 9-13 13-9zM678 1754l17-2 17 2 17 7 14 10 10 14 7 17 0 3-12 14-7 14-4 13 0 25-8 6-17 7-17 2-17-2-17-7-14-10-10-14-7-17-2-17 2-17 7-17 10-14 14-10zM567 1878l17-2 17 2 17 7 14 10 10 14 7 17 2 17-2 17-7 17-10 14-13 9-35-9-51-4-7-10-7-17-2-17 2-17 7-17 10-14 14-10zM523 1327l-9 5-11 0-38-11-107-58-109-50-15-13-5-12 6-5 23-1 47 7 73 21 63 26 55 29 19 15 9 12 6 16-2 10zM496 1463l-6 9-9 5-11 1-12-6-39-41-35-32-160-141-12-17-1-10 4-7 7-3 11 1 41 17 147 85 44 33 20 21 11 24 5 33zM398 1535l-11 8-16 1-10-5-9-10-49-68-48-75-46-66-14-28 0-9 5-7 9-2 11 4 70 57 36 35 59 72 14 22 7 24 0 27zM263 1549l-7 0-5-9-38-93-41-93-10-38-2-15 3-7 7 2 10 7 23 29 36 58 35 68 10 36 1 24-8 19zM365 1594l9-2 9 2 8 6 7 8 5 12 5 28-5 28-5 12-7 8-8 6-9 2-9-2-8-6-7-8-5-12-5-28 5-28 5-12 7-8zM356 1738l14-2 14 2 14 6 12 8 8 12 6 14 2 14-2 14-6 14-8 12-12 8-14 6-14 2-11-1-45-55 2-14 6-14 8-12 12-8zM450 1845l14-2 14 2 14 6 12 8 8 12 6 14 2 14-2 14-6 14-8 12-12 8-14 6-14 2-14-2-20-10-8-24-14-20 2-14 6-14 8-12 12-8z" fill="url(#g3h)" stroke="#c98a70" stroke-width="7" fill-rule="evenodd"/><path transform="scale(0.1)" d="M-67 1037l-44-94-58-108-41-65-49-70-77-97-116-134-79-84-53-49-51-39-52-33-103-61-155-96-75-39-102-41-78-24-24-4-19 1-21 5-14 9-9 20-4 20 0 12 16 53 14 31 4 17 11 28 9 21 11 18 5 20 17 42 11 12 6 11 4 24 14 30 10 8 13 19 3 11 1 18 11 23 13 10 13 19 4 11 0 23 3 5 4 10 16 11 13 19 4 23-1 12 10 23 11 12 9 22 2 11-4 19 3 16 14 10 7 9 9 22 0 23-7 19 18 8 16 16 9 22 1 12-2 17 6 10 18 8 16 16 9 22 1 19 7 9 20-4 23 5 20 13 13 19 7 2 15-6 23 0 22 9 13 13 273 52 132 32 160 46 30 11 74 33 30 10 10 0 7-3 4-6 2-7-2-21-11-43zM-1082 152l5 11 2 12-2 11-5 9-9 8-11 5-13 3-28-4-23-15-8-10-5-11-2-12 2-11 5-9 9-8 11-5 13-3 28 4 23 15zM-898 170l11 21 1 12-1 12-11 21-9 8-10 5-11 1-11-1-10-5-9-8-7-9-5-24 1-12 11-21 9-8 10-5 11-1 11 1 10 5zM-999 272l5 13 2 13-2 13-7 11-9 9-13 6-14 3-15-1-16-4-14-6-12-10-9-11-5-13-2-13 2-13 7-11 9-9 13-6 14-3 15 1 16 4 14 6 12 10zM-816 296l5 11 2 12-2 11-5 9-9 8-11 5-13 3-28-4-23-15-8-10-5-11-2-12 2-11 5-9 9-8 11-5 13-3 28 4 23 15zM-936 385l9 11 5 13 2 14-2 14-5 13-9 11-11 9-13 5-14 2-14-2-13-5-11-9-9-11-5-13-2-14 2-14 5-13 9-11 11-9 13-5 14-2 14 2 13 5zM-756 391l8 11 5 13 1 14-1 14-5 13-8 11-10 9-11 5-13 2-13-2-11-5-10-9-8-11-5-13-1-14 1-14 5-13 8-11 10-9 11-5 13-2 13 2 11 5zM-885 499l9 14 5 16 2 17-2 17-5 16-9 14-11 10-13 7-14 2-14-2-13-7-11-10-9-14-5-16-2-17 2-17 5-16 9-14 11-10 13-7 14-2 14 2 13 7zM-815 643l10 15 7 18 2 19-2 19-7 18-10 15-14 11-16 8-17 2-17-2-16-8-14-11-10-15-7-18-2-19 2-19 7-18 10-15 14-11 16-8 17-2 17 2 16 8zM-760 292l0-8 3-2 20-1 21 7 26 17 86 77 202 161 77 92 5 5-1 4-10 5-14-6-74-67-168-134-117-100-42-29-9-10zM-708 523l7 10 5 24-5 24-7 10-9 8-10 5-11 1-11-1-10-5-9-8-7-10-5-24 5-24 7-10 9-8 10-5 11-1 11 1 10 5zM-599 615l0-14 6-12 23-17 19-7 20-1 23 3 24 8 26 14 94 71 78 72 87 93 28 41 7 22-2 2-11-2-27-13-252-164-120-63-15-13zM-618 689l9 14 5 16 2 17-2 17-5 16-9 14-11 10-13 7-14 2-14-2-13-7-11-10-9-14-5-16-2-17 2-17 5-16 9-14 11-10 13-7 14-2 14 2 13 7zM-523 803l-2-14 4-14 12-14 16-11 9-2 20 1 47 19 39 25 82 58 51 42 54 55 20 28 7 19-2 2-11 1-27-10-109-71-58-35-86-40-48-16-11-10zM-716 811l9 19 6 21 2 24-2 24-6 21-9 19-13 15-14 9-16 3-8-2-22-10-13-15-9-19-6-21-2-24 2-24 6-21 9-19 13-15 14-9 16-3 16 3 14 9zM-540 838l8 15 5 18 1 19-1 19-5 18-8 15-10 11-11 8-13 2-13-2-11-8-10-11-8-15-5-18-1-19 1-19 5-18 8-15 10-11 11-8 13-2 13 2 11 8zM-477 996l-2-15 2-6 16-20 19-11 24-2 48 10 78 26 88 39 13 11 1 5-1 5-10 10-16 7-39 3-48-3-52-9-93-23-15-8zM50 1078l-15 47-4 24 2 17 4 6 7 3 10 0 30-10 74-33 30-11 160-46 132-32 273-52 13-13 22-9 23 0 15 6 7-2 13-19 20-13 23-5 20 4 7-9 1-19 9-22 16-16 18-8 6-10-2-17 1-12 9-22 16-16 18-8-7-19 0-23 9-22 7-9 14-10 3-16-4-19 2-11 9-22 11-12 10-23-1-12 4-23 13-19 16-11 4-10 3-5 0-23 4-11 13-19 13-10 11-23 1-18 3-11 13-19 10-8 14-30 4-24 6-11 11-12 17-42 5-20 11-18 9-21 11-28 4-17 14-31 16-53 0-12-4-20-9-20-14-9-21-5-19-1-24 4-78 24-102 41-75 39-155 96-103 61-52 33-51 39-79 76-78 86-112 130-74 96-46 68-49 86-58 112zM1101 133l26-9 14-1 13 3 11 5 9 8 5 9 2 11-2 12-5 11-8 10-23 15-28 4-13-3-11-5-9-8-5-9-2-11 2-12 5-11 8-10zM917 157l11-1 11 1 10 5 9 8 7 9 4 12 0 24-4 12-7 9-9 8-10 5-11 1-11-1-10-5-9-8-11-21-1-12 5-24 7-9 9-8zM1020 251l14-6 16-4 15-1 14 3 13 6 9 9 7 11 2 13-2 13-5 13-9 11-12 10-14 6-16 4-15 1-14-3-13-6-9-9-7-11-2-13 2-13 5-13 9-11zM835 277l26-9 14-1 13 3 11 5 9 8 5 9 2 11-2 12-5 11-8 10-11 9-26 9-14 1-13-3-11-5-9-8-5-9-2-11 2-12 5-11 8-10zM960 371l14-2 14 2 13 5 11 9 9 11 5 13 2 14-2 14-5 13-9 11-11 9-13 5-14 2-14-2-13-5-11-9-9-11-5-13-2-14 2-14 5-13 9-11 11-9zM777 377l13-2 13 2 11 5 10 9 8 11 5 13 1 14-1 14-5 13-8 11-10 9-11 5-13 2-13-2-11-5-10-9-8-11-5-13-1-14 1-14 5-13 8-11 10-9zM909 482l14-2 14 2 13 7 11 10 9 14 5 16 2 17-2 17-5 16-9 14-11 10-13 7-14 2-14-2-13-7-11-10-9-14-5-16-2-17 2-17 5-16 9-14 11-10zM845 624l17-2 17 2 16 8 14 11 10 15 7 18 2 19-2 19-7 18-10 15-14 11-16 8-17 2-17-2-16-8-14-11-10-15-7-18-2-19 2-19 7-18 10-15 14-11zM755 303l-9 10-42 29-117 100-183 146-59 55-14 6-10-5-1-4 5-5 77-92 202-161 86-77 26-17 11-4 18-3 15 3 0 8zM727 510l11-1 11 1 10 5 9 8 7 10 4 11 0 26-4 11-7 10-9 8-10 5-11 1-11-1-10-5-9-8-11-21-1-13 5-24 7-10 9-8zM595 629l-8 11-11 8-120 63-241 158-38 19-11 2-2-2 7-22 28-41 87-93 78-72 94-71 26-14 24-8 33-3 19 4 19 9 18 18 3 13zM642 672l14-2 14 2 13 7 11 10 9 14 5 16 2 17-2 17-5 16-9 14-11 10-13 7-14 2-14-2-13-7-11-10-9-14-5-16-2-17 2-17 5-16 9-14 11-10zM516 816l-11 10-48 16-86 40-58 35-109 71-27 10-11-1-2-2 7-19 20-28 54-55 51-42 82-58 39-25 47-19 20-1 9 2 16 11 15 21 1 14zM743 787l16-3 16 3 14 9 13 15 9 19 6 21 2 24-2 24-6 21-9 19-13 15-9 5-21 7-16-3-14-9-13-15-9-19-6-21-2-24 2-24 6-21 9-19 13-15zM561 819l13-2 13 2 11 8 10 11 8 15 5 18 1 19-1 19-5 18-8 15-10 11-11 8-13 2-13-2-11-8-10-11-8-15-5-18-1-19 1-19 5-18 8-15 10-11zM470 1009l-13 10-28 10-91 21-50 6-47 2-24-3-16-7-10-10-1-5 1-5 13-11 88-39 78-26 48-10 13 0 21 7 21 19 6 13 0 8z" fill="#f2bfa6" stroke="#c98a70" stroke-width="7" fill-rule="evenodd"/><path transform="scale(0.1)" d="M-537 1308l5 18 9 9 7 4 21-1 24-7 116-62 109-50 18-15 5-11 0-8-5-6-15-4-43 2-63 16-53 18-52 24-53 29-19 18-8 13zM537 1308l-5 18-9 9-7 4-21-1-24-7-116-62-109-50-18-15-5-11 0-8 5-6 15-4 43 2 63 16 53 18 52 24 53 29 19 18 8 13zM-508 1427l1 25 9 21 16 11 12 1 10-3 14-12 32-34 44-41 151-132 14-20 1-13-3-7-7-7-8-2-13 2-23 8-62 33-115 68-35 26-21 23-12 26zM508 1427l-1 25-9 21-16 11-12 1-10-3-14-12-32-34-44-41-151-132-14-20-1-13 3-7 7-7 8-2 13 2 23 8 62 33 115 68 35 26 21 23 12 26zM-414 1510l7 24 13 13 11 4 14 0 7-3 11-9 54-74 48-75 51-74 8-16 3-13-1-7-7-9-7-3-8-1-22 10-63 53-36 36-70 87-10 25zM414 1510l-7 24-13 13-11 4-14 0-7-3-11-9-54-74-48-75-51-74-8-16-3-13 1-7 7-9 7-3 8-1 22 10 63 53 36 36 70 87 10 25zM-291 1527l8 15 17 14 9 1 10-9 85-201 9-46-2-8-5-5-7-1-7 3-22 20-26 38-29 48-25 49-11 29-5 28zM291 1527l-8 15-17 14-9 1-10-9-85-201-9-46 2-8 5-5 7-1 7 3 22 20 26 38 29 48 25 49 11 29 5 28z" fill="#fffcfa" stroke="#9c6a56" stroke-width="8"/><path d="M-4.8,127.5C-5.0,144.5 -3.9,157.5 -0.4,161.0C3.1,157.5 4.2,144.5 4.0,127.5Z" fill="#c97552"/><rect x="-6.8" y="108.9" width="13.4" height="19" rx="3.5" fill="#d48464"/><path d="M-5.2,110.5V126.5M4.8,110.5V126.5" stroke="#fbe6d6" stroke-width="0.9" stroke-dasharray="2.2 1.2"/><path d="M-2.4,109.5C-6.4,94.5 -14.4,79.5 -25.4,67.5C-29.4,61.5 -27.4,54.5 -22.4,55.0C-18.4,55.5 -17.4,60.5 -20.4,62.5" fill="none" stroke="#b98a74" stroke-width="1"/><path d="M2.4,109.5C6.4,94.5 14.4,79.5 25.4,67.5C29.4,61.5 27.4,54.5 22.4,55.0C18.4,55.5 17.4,60.5 20.4,62.5" fill="none" stroke="#b98a74" stroke-width="1"/></g>
<g transform="translate(1330.50,183.30) scale(1.0000)"><path transform="scale(0.1)" d="M-745 750l-7-11-7-5-26-7-10 1-13 5-7 11 3 12 11 9 8 4 18 4 17-3 7-4 6-9zM746 761l6 6 13 5 10 1 18-4 8-4 11-9 3-13-7-10-13-5-10-1-18 4-8 4-11 9-3 7zM-750 1083l3 7-2 7-55 47-32 33-14 18-23 37-20 42-24 64-18 62-10 62-3 83 6 64 13 61 17 52 24 46 30 43 39 44 45 40 47 33 35 17 36 14 68 20 62 9 31 0 30-3 32-6 31-10 31-12 28-15 56-39 25-23 21-25 28-40 22-46 12-33 13-53 30-176 39-315 17-104 6-11 9-7 30-11-2-10 13-15 15-30 9-38 9 38 15 30 13 15-2 10 30 11 9 7 6 11 17 104 39 315 30 176 13 53 12 33 22 45 18 28 20 26 23 24 26 22 28 19 29 17 29 14 63 18 31 5 30 1 62-6 66-17 72-28 49-30 46-38 41-44 42-57 24-46 17-52 13-61 6-64-3-83-10-62-18-62-24-64-31-61-25-35-33-34-54-46-3-10 5-6 52-31 37-30 55-52 38-42 40-52 55-80 49-80 38-70 39-84 74-177 30-84 15-77 6-81-2-47-12-36-12-19-13-10-26-12-35-8-30-3-34 1-91 10-77 16-72 24-95 44-97 55-98 64-84 60-176 146-72 65-56 59-104 120-62 58-12 16-9 19-6 23-5 37-5-37-6-23-9-19-12-16-62-58-104-120-56-59-71-65-158-132-58-43-93-64-75-46-96-52-71-32-72-24-52-11-50-8-84-8-32 1-26 4-42 14-14 9-15 17-10 23-5 20-2 22 0 39 8 86 13 58 13 41 111 263 38 77 38 66 63 97 53 72 47 53 55 52 37 30zM-1176 80l-7-13-1-13 3-12 5-5 37-3 11 11 6 12 2 13-3 12-8 9-11 5-12-1-12-5zM-965 103l4-6 4 0 19 6 2 6-7 7-6 2-14-9zM-1183 128l-8 8-12 4-14-1-12-6-10-10-6-12-1-12 4-11 8-8 12-4 14 1 12 6 10 10 6 12 1 12zM-1206 210l-13 3-14-2-12-6-5-6-2-29 6-7 11-7 14-3 14 2 12 6 8 10 3 11-3 12-7 10zM-1179 139l3-11 48-33 21-20 56 5 37 6 67 51-5 54-2 3-15 11-4 10 4 9 5 4 20 7 3 3 25 62 0 6-14 13-6 0-44-23-3-3-3-17-8-8-11-3-18 7-4-1-49-27-4-11-9-8-3-25 4-6 9-2 8-6 5-12-2-20-7-10-26-9-10 3-6 6-2 9 1 8-12 23 5 7 11 2 3 2 2 20-3 7-3 1-64-34zM-1194 283l-13 5-14 1-14-5-8-40 10-9 12-5 14-1 13 3 10 8 5 11 0 11-5 12zM-1167 352l-12 7-14 3-17-4-13-34 1-3 9-11 12-7 14-3 13 2 11 7 6 9 2 12-4 12zM-1179 216l3-7 7 0 53 28 2 2 4 14 11 8 20 53-2 13 1 8 4 6 12 9 21 48-2 14 1 7 4 6 12 8 12 29-1 8-8 2-71-24-4-4-64-157-12-41zM-1076 269l4-5 6 0 35 19 7 15 8 8 11 3 18-3 94 50 9 19-4 15 1 6 5 5 10 4 3 6-13 14 0 12 9 9 21 6 3 3 28 59 0 7-11 12-7 2-86-30-5-6 4-18-4-7-5-3-7-2-14 2-18 12-15-6-23-51 3-14-2-7-5-7-11-7-20-48 2-14-1-7-4-6-12-9zM-1138 422l-12 7-13 4-13-2-5-2-13-32 1-5 8-10 12-8 13-3 14 1 11 6 7 10 2 11-4 12zM-1108 492l-12 7-13 4-14-2-5-3-13-31 2-5 8-10 12-8 13-3 14 1 11 6 7 10 2 11-4 12zM-1078 562l-12 7-13 4-14-2-5-2-13-31 1-6 9-10 11-8 14-3 13 1 11 6 7 9 2 12-3 12zM-1086 476l1-8 7-2 67 24 3 15 16 12 22 49-1 13 2 8 4 6 13 7 26 46-1 24-6 2-62-10-5-3-41-79zM-1038 619l-8 11-11 8-14 4-13-1-5-2-15-30 2-6 7-11 12-8 13-4 13 1 12 5 7 9 3 12zM-1009 696l-11 8-13 5-13 0-5-2-13-22-4-7 1-5 7-12 11-9 13-5 13 0 12 5 8 8 3 12-2 12zM-969 760l-10 9-13 5-13 1-6-2-18-28 1-6 6-12 11-9 13-5 13-1 12 4 8 8 4 11-1 13zM-905 807l-78-119 1-8 3-2 80 12 22 33 0 15 3 6 6 6 12 5 32 43 1 13 4 8 7 5 12 4 14 15 2 7-7 4-75 3-14-16-1-4 2-11-3-8-10-6zM-920 810l-6 12-11 10-12 6-14 1-5-2-19-28 1-5 6-12 10-10 12-6 14-1 12 4 8 8 5 11zM-876 870l-5 12-9 11-13 6-13 2-5-1-21-27 5-18 10-10 12-7 13-2 13 3 9 8 5 10zM-829 936l-8 11-11 8-13 4-8-1-22-22 0-7 3-13 8-11 12-9 13-3 12 1 10 6 6 10 2 13zM-837 1353l-18-4-15-9-11-14 15-40 3-2 17 0 17 4 15 9 11 13 5 13-1 13-9 11-13 6zM-859 1430l-18-2-16-7-13-11 13-45 16-3 18 2 16 7 13 11 6 13 0 13-7 12-12 7zM-868 1509l-18 1-17-5-14-8 4-46 16-6 17-1 18 4 14 8 9 12 2 13-4 12-11 10zM-863 1588l-18 4-17-2-17-6-3-46 15-8 17-4 18 1 15 6 11 10 4 12-2 13-9 11zM-847 1665l-17 7-17 1-17-4-10-45 13-10 17-7 17-1 17 4 12 8 6 11-1 13-7 13zM-805 1724l-10 13-14 10-17 5-17 0-21-41 11-14 14-10 17-5 17 0 14 5 8 10 3 13zM-931 114l2-6 8-1 29 10 56 24 116 64 78 51 3 6-4 6-15 1-8 4-6 6-1 15 9 17 0 8-3 3-7-1-253-185-2-3 0-13zM-914 204l-19-10-3-6 3-29 2-3 6-3 475 347 2 7-1 3-6 3-19 0-11 5-6 6-3 9 0 13-6 5-3-1-371-198-5-9 13-14 0-11-9-9-21-7-2-3-26-64 13-15 1-10zM-853 406l0-6 11-13 7 0 154 82 4 4 5 0 533 284 3 3 0 6-5 4-3 0-412-139-10-12-14-9-17-2-16 3-13-4-4-4-52-121-6 1-2 5 42 99-1 8-7 2-113-39-5-5 0-3 5-9 0-10-8-8-24-7-2-3-29-58 1-7 11-12 0-11-9-8-21-7zM-970 521l3-5 23-4 104 35 4 5 0 4-15 14-5 15 5 12 13 7 9 2 19-3 9-5 15-12 6 1 20 32-9 13 1 11 7 8 7 3 20 4 2 2 26 36 1 3-2 6-6 2-171-28-8-13 2-10-3-7-5-6-13-6-25-46 1-13-2-8-5-5-12-8zM-761 580l5-4 4 1 117 40 5 12 21 85-1 6-6 2-23-3-12-6-25-5-38-50 0-6 8-14-4-11-12-8-19-3-19-29zM-607 770l-31-25-1-4 6-8 26 3 5 5 6 25-5 5zM-844 724l-16-9-7-9-1-3 4-7 160 24 6 5 1 11 8 8 14 5 19 2 70 55 10 35-6 5-167 6-37-36-2-14-4-7-18-8-31-42 0-14zM-529 835l0 4-7 5-25 0-4-4-3-15 2-3 6-2 26 10zM-848 877l3-7 3-1 79-3 11 20 7 4 13 1 51 40 0 7-2 2-23 6-5 3-4 7 1 6 7 6 22 5 15-2 14-9 0-8-10-13 5-10 1-6-4-4-56-44-3-5 1-5 6-4 143-5 4 5 19 66 5 3 4-2 1-4-17-61 2-7 4-2 431-18 3 1 4 5-1 4-4 4-584 148-7-2-83-66-38-34zM-771 983l-7 12-10 9-13 5-12 1-19-17-2-10 2-13 7-12 10-10 13-5 12 0 11 5 7 9 3 13zM-709 1015l-2 13-6 13-10 9-13 6-3 0-28-16-2-10 2-13 6-13 10-9 13-6 12 0 11 5 7 9zM-684 1173l-15-7-13-12-9-15-4-16 1-7 17-14 34-1 12 11 9 15 4 16-2 15-7 10-12 6zM-761 1218l-14-11-10-15-4-16 1-6 21-20 7-5 6 0 16 7 13 11 10 15 4 16-2 15-7 11-12 5-14 0zM-739 1255l31-28 5 0 18 17 10 2 7-2 5-7 1-7-4-23 6-7 417-81 4 0 5 6 0 4-5 6-337 116-10 0-10 7-171 57-5-6 0-5 13-22zM-807 1280l-16-7-13-12-9-16 19-33 6-4 17 2 16 8 13 11 9 14 3 15-4 12-10 9-14 4zM-717 1401l-6-4-6-19-9-11-11-5-9 0-7 8-1 12 6 14 11 14-1 7-57 30-8-1-3-3 11-50 22-57 124-44 8 2 2 8-26 30-16 31-12 31-4 4zM-711 1519l-7-4-1-4 1-20 9-49 12-37 190-96 8 1 12 23 16 12 2 4-3 8zM-809 1543l-13 1-5-7 1-35 4-34 94-48 8 1 3 8-10 45-4 60-50 34-7-3-5-10-8-9zM-802 1669l-15-56 3-8 73-50 8-1 3 2 11 54 15 46-2 5-61 55-8 1-14-19zM-737 1767l-26-30-1-7 66-60 8 3 34 39 40 31-1 9-55 65-8-1-12-8zM-758 1768l-1 14-7 15-12 13-15 10-15 3-30-36 6-14 12-13 15-10 17-4 14 2 11 8zM-655 1830l-4-8 2-4 57-67 48 14 21 4 22 1 8 4 0 8-51 80-8 0-33-8zM-702 1832l-4 16-9 15-13 13-14 6-37-30 4-15 9-15 13-12 15-7 14-1 12 5 8 11zM-637 1867l1 16-6 17-9 15-12 10-43-20-1-15 5-17 10-15 13-11 14-4 13 2 10 8zM-571 1876l8 12 3 17-2 17-7 16-10 12-46-12-3-16 2-17 7-16 11-13 13-7 13 0zM-490 1892l7 15 3 17-2 18-7 15-47 0-7-14-3-18 2-18 7-15 11-10 12-3 13 3zM-577 309l6-3 3 2 51 38 113 97 117 105 16 5 11-1 11-5 6 2 70 79 61 75 6 9-2 6-3 2-6-1-206-175-10-2-70-58-5 1 1 5 104 86 2 3-1 7-3 2-6-1-323-238 2-7 3-2 26 6 11-1 8-4 6-6 2-6-3-17zM-377 566l4-5 6 1 223 163 2 3 0 7-6 3-3-1-238-127-4-6 1-4 14-11 2-8zM-610 662l6-4 15 4 16-1 8-4 9-11 6-1 408 138 3 2 1 7-1 3-6 2-446-71-5-5zM-589 748l1-6 6-2 458 73 3 1 3 6-1 3-6 3-376 16-6-3-2-3 3-6 15-6 12-11 0-12-5-6-16-9-22-3-22 3-9 4-11 8-7 0-8-8zM-692 1019l0-6 4-4 594-151 3 0 5 4 0 7-3 2-227 124-14 0-11 13-94 51-163 11-74 2-6-4-4-23zM-318 1057l-3-7 8-14 1-28 3-4 250-136 7 0 13 13 22 14 1 32-4 37-8 32-12 26-18 19-25 12-35 7-43 3-49 0zM-384 1053l1-7 2-3 34-17 6 3 9 21-1 4-7 3-37 0zM-604 1159l-16-16 1-4 9-24 2-5 5-1 362-18 4 1 5 6-3 8-4 1-350 68-7-2zM-444 1336l-8-4-3-18-11-18 1-7 3-2 235-118 4-1 6 4 1 4-3 7zM-680 1380l-4-7 0-3 21-39 28-27 47-37 341-118 7 2 3 3-1 7-3 3-432 216zM-689 1644l-7-2-2-3-11-32-9-51-1-12 4-7 42-28 7 3 7 17 8 11 10 4 9-3 4-5 2-12-2-13-12-19 3-9 421-289 4-1 7 3 1 4-2 7zM-249 1528l-5-7 0-4 93-199 3-3 7-1 5 6 0 4-60 174-34 28zM-179 1492l-8-3-2-8 21-61 6-5 4 0 6 5 0 4-16 61-3 4zM-659 1693l-26-32 3-7 313-285 8-1 3 2 10 15 6 2 4-2 4-6 1-9-1-10-6-12 2-7 149-135 8-2 3 2 2 7-1 4-343 417-3 2-8-1-6-8-9-5-10 4-5 17 2 13 6 14-1 5-46 56-3 2-7 0-17-11zM-586 1742l-2-7 2-4 404-492 4-2 7 1 4 7-2 4-192 308-4 3-7 0-4 3-6 28-101 161-4 4-10 2-26 1-26-5zM-531 1865l-2-3 0-8 54-87 28-14 18-12 14-13 14-16 19-42 16-78 203-325 3-3 7 0 5 7-1 4-127 273-3 3-8 1-7-8-8-3-6 3-4 5-4 12 1 13 4 12 9 8 1 8-112 240-4 4-17 7-28 8-39 6zM-242 1567l16-5 18 1 17 6 13 10-8 45-16 5-18-1-17-6-13-9-8-13-1-13 6-12zM-256 1647l16-4 18 1 16 6 14 10-10 46-16 4-17-1-17-6-13-10-8-13-1-13 6-11zM-382 1821l-7-3-1-8 102-219 6-4 4 0 5 5 0 4-10 54-10 46-11 30-13 27-16 24-29 30zM-441 1731l-8-3 0-9 21-33 2-2 8-1 8 10-1 7-11 15-10 11zM-273 1720l17-1 17 6 15 9 9 12-19 43-16 1-17-6-15-9-10-13-5-14 2-13 9-10zM-306 1785l16 4 15 10 12 13 6 15-30 36-16-5-15-9-12-14-7-15 0-14 5-12 11-8zM-357 1837l14 9 12 13 8 16 2 17-39 25-15-9-11-13-8-16-2-17 4-14 8-10 13-4zM-420 1874l11 12 8 16 3 18-2 16-44 14-12-12-8-16-3-17 3-17 7-13 11-7 13 0zM1131 91l-8-9-3-12 2-13 6-12 11-11 37 3 5 5 3 12-1 13-7 13-10 10-12 5-12 1zM949 118l-11-6-1-7 4-4 20-4 3 2 1 7zM1196 83l12-6 14-1 12 4 8 8 4 11-1 12-6 12-10 10-12 6-14 1-12-4-8-8-4-11 1-12 6-12zM1187 171l8-10 12-6 14-2 14 3 11 7 6 7-2 29-5 6-12 6-14 2-13-3-12-6-7-10-3-12zM1179 139l1 46-4 6-61 32-3-1-3-7 2-20 3-2 11-2 5-7-12-23 0-15-7-8-8-3-24 7-8 6-3 6-2 20 5 12 8 6 9 2 4 6-3 25-9 8-4 11-49 27-4 1-18-7-11 3-8 8-3 17-3 3-44 23-6 0-14-13 0-6 25-62 3-3 20-7 5-4 4-9-4-10-15-11-2-3-5-54 67-51 37-6 56-5 21 20 48 33zM1184 240l10-8 13-3 14 1 12 5 11 10-9 39-14 5-14-1-13-5-10-9-5-12 0-11zM1163 309l11-7 13-2 14 3 12 7 10 14-13 34-17 4-14-3-12-7-8-10-4-12 2-12zM1177 237l-8 32-12 38-57 137-4 4-71 24-8-2-1-8 12-29 12-8 4-6 1-7-2-14 21-48 11-8 5-6 1-8-2-14 19-50 12-11 4-14 58-31 4 1 3 7zM1062 307l-12 9-3 5-2 8 2 14-20 48-11 7-5 7-2 7 3 14-23 51-15 6-18-12-14-2-7 2-5 3-4 7 4 18-5 6-86 30-7-2-11-12 0-7 28-59 3-3 21-6 9-9 0-12-13-14 3-6 10-4 5-5 1-6-4-15 9-19 94-50 18 3 11-3 8-8 7-15 38-20 6 3 0 7zM1135 378l11-6 14-1 13 3 12 8 9 15-13 32-18 4-13-4-12-7-8-11-4-12 2-11zM1105 448l11-6 14-1 13 3 12 8 8 10 2 5-13 31-5 3-14 2-13-4-12-7-8-11-4-12 2-11zM1076 518l11-6 13-1 14 3 11 8 9 10 1 6-13 31-5 2-14 2-13-4-12-7-8-11-3-12 2-12zM1086 476l-57 128-31 57-65 11-6-2-1-24 26-46 13-7 4-6 2-8-1-13 22-49 16-12 3-15 67-24 7 2zM1057 581l13-1 13 4 12 8 7 11 2 6-15 30-18 3-14-4-11-8-8-11-3-12 3-12 7-9zM1011 652l12-5 13 0 13 5 11 9 7 12 1 5-17 29-5 2-13 0-13-5-11-8-7-12-2-12 3-12zM973 716l12-4 13 1 13 5 11 9 6 12 1 6-18 28-6 2-13-1-13-5-10-9-7-12-1-13 4-11zM983 688l-78 119-13 5-10 6-3 8 2 11-1 4-14 16-75-3-7-4 2-7 14-15 12-4 7-5 4-8 1-13 32-43 12-5 6-6 3-6 0-15 22-33 80-12 3 2zM944 775l14 1 12 6 10 10 6 12 1 5-19 28-19 1-12-6-11-10-6-12-1-12 5-11 8-8zM902 836l13 2 12 7 10 10 5 13 0 5-21 27-18-1-13-6-9-11-5-12-1-13 5-10 9-8zM843 894l12-1 13 3 12 9 8 11 3 13 0 7-22 22-8 1-13-4-11-8-8-11-4-13 2-13 6-10zM798 1323l5-13 11-13 15-9 17-4 20 2 15 40-11 14-15 9-18 4-16 0-13-6-9-11zM824 1395l6-13 13-11 16-7 18-2 18 4 11 43-13 12-16 7-18 2-16-3-12-7-7-12zM839 1468l9-12 14-8 18-4 17 1 16 6 4 46-14 8-17 5-18-1-16-6-11-10-4-12zM842 1543l11-10 15-6 18-1 17 4 15 8-3 46-17 6-17 2-18-4-14-9-9-11-2-13zM832 1618l12-8 17-4 17 1 17 7 13 11-10 44-17 4-17-1-17-7-13-10-7-13-1-13zM825 1682l17 0 17 5 14 10 11 13-21 42-17 0-17-5-14-10-10-13-5-14 3-13 8-10zM931 110l-1 19-3 7-253 185-7 1-3-3 0-8 9-17-1-15-6-6-8-4-15-1-4-6 3-6 78-51 117-64 55-24 30-11 7 2zM914 204l-4 6 0 9 13 12 1 7-26 61-2 3-21 7-9 8 0 12 13 14-5 9-371 198-3 1-6-5 0-13-3-9-6-6-11-5-19 0-6-3-1-3 2-7 472-346 7 0 4 5 2 32zM850 410l-21 7-9 8 0 11 11 12 1 7-29 58-2 3-24 7-8 8 0 10 5 9 0 3-5 5-113 39-7-2-1-8 42-99-2-5-6-1-52 121-4 4-13 4-16-3-17 2-14 9-10 12-412 139-3 0-5-4 0-6 3-3 533-284 5 0 4-4 154-82 7 0 11 13 0 6zM954 557l-12 8-4 5-3 7 1 14-25 46-12 6-6 5-3 8 2 10-8 13-171 28-6-2-2-3 1-6 26-36 2-2 20-4 7-3 7-8 1-11-9-13 20-32 6-1 15 12 19 7 18 0 13-8 4-7-1-12-4-8-14-14 0-4 4-5 104-35 5 0 18 4 3 5zM761 584l-20 32-19 3-12 8-4 11 8 14 0 6-38 50-25 5-12 6-23 3-6-2-1-6 21-85 5-12 121-41 5 4zM607 770l-6 1-5-5 8-28 29-5 4 5 1 7zM852 717l-9 10-2 18-31 42-18 8-4 7-2 14-37 36-167-6-6-5 10-35 70-55 19-2 14-5 8-8 1-11 6-5 160-24 4 7-1 3-7 9zM531 832l29-12 6 2 2 7-5 13-5 3-26-3-3-7zM847 880l-71 65-67 53-7 2-584-148-4-4-1-4 4-5 3-1 431 18 4 2 2 7-17 61 1 4 4 2 5-3 19-66 4-5 147 6 3 7-3 6-59 48 0 6 5 10-10 11 0 8 7 8 14 4 23-1 11-6 4-7-1-6-7-6-24-6-2-2 0-7 51-40 13-1 7-4 11-20 82 4 3 7zM790 943l12 0 13 5 10 10 7 12 2 13-2 10-19 17-12-1-13-5-10-9-7-12-2-13 3-13 7-9zM742 989l13 6 10 9 6 13 2 13-2 10-28 16-16-6-10-9-6-13-2-13 3-12 7-9 11-5zM648 1143l4-16 9-15 12-11 34 1 17 14 1 7-4 16-9 15-13 12-15 7-15 1-12-6-7-10zM713 1209l-2-15 4-16 10-15 13-11 16-7 6 0 28 25 1 6-4 16-10 15-14 11-15 7-14 0-12-5zM760 1282l12 22 0 5-5 6-171-57-10-7-10 0-337-116-5-6 0-4 5-6 4 0 417 81 6 7-4 23 1 7 5 7 7 2 10-2 18-17 5 0 31 27zM762 1258l3-15 9-14 13-11 16-8 20-1 22 36-9 16-13 12-16 7-17 3-14-4-10-9zM709 1398l-36-73-22-23 2-8 4-2 128 44 22 57 11 50-3 3-8 1-57-30-1-7 11-14 6-14-1-12-7-8-9 0-11 5-9 11-6 19-3 3-3 1zM469 1349l2-4 16-12 12-23 8-1 188 94 4 5 14 50 5 34 0 23-7 4-4-1-235-161zM810 1543l-10 4-12 18-7 3-50-34-4-60-10-45 3-8 8-1 94 48 4 34 1 35-5 7zM802 1669l-21 42-6 6-4 1-65-57-2-5 0-5 11-27 13-64 5-6 8 1 76 54-4 25zM707 1796l-27 20-8 1-56-69 3-8 25-18 23-21 23-28 8-3 64 56 2 7-27 34zM805 1750l15 10 12 13 6 14-30 36-15-3-15-10-12-13-7-15-1-14 5-12 11-8 14-2zM630 1841l-54 17-24 4-51-80 0-8 8-4 22-1 21-4 48-14 4 2 55 69-4 8zM738 1803l15 7 13 12 9 15 4 15-37 30-14-6-13-13-9-15-4-16 2-14 8-11 12-5zM679 1847l13 11 10 15 5 17-1 15-43 20-12-10-9-15-6-17 1-16 5-14 10-8 13-2zM619 1889l7 16 2 17-3 16-46 12-10-12-7-16-2-17 3-17 8-12 11-7 13 0 13 7zM537 1892l7 15 2 18-3 18-7 14-46 1-8-16-2-18 3-17 7-15 11-10 13-3 12 3zM577 320l1 15 7 7 18 4 26-6 3 2 2 7-323 238-6 1-3-2-1-7 2-3 104-86 1-5-5-1-70 58-10 2-206 175-6 1-3-2-2-6 6-9 61-75 70-79 6-2 11 5 11 1 16-5 142-127 111-93 31-22 6 3 2 3zM376 580l3 10 13 10 0 8-3 2-238 127-3 1-6-3 0-7 2-3 223-163 6-1 3 2 1 3zM591 726l-446 71-6-2-1-3 1-7 3-2 408-138 6 1 9 11 8 4 16 1 15-4 6 4-14 59zM577 793l-6 5-7 0-20-12-22-3-22 3-9 4-11 10-2 8 6 11 24 14-1 6-6 3-376-16-6-3-1-3 3-6 3-1 461-73 4 5 0 3zM684 1036l-6 32-6 4-74-2-165-12-92-50-11-13-14 0-227-124-3-2 0-7 5-4 3 0 594 151 5 7zM261 1061l-100 2-43-3-35-7-25-12-18-19-12-26-8-32-4-37 1-32 22-14 13-13 7 0 250 136 3 4 1 28 8 14-3 7zM381 1056l-41 1-7-3 1-8 10-19 6 0 33 19 1 7zM608 1154l-12 19-7 2-350-68-4-1-3-8 5-6 4-1 362 18 5 1 2 5 10 28-2 4zM216 1176l3-7 8 0 235 118 3 2 1 7-11 18-3 18-3 3-9 0-221-152zM238 1161l-1-7 3-3 7-2 341 118 73 61 22 39 0 10-3 3-7 0zM204 1200l4-7 8 1 421 289 3 9-12 19-2 13 2 12 4 5 9 3 10-4 8-11 7-17 7-3 42 28 4 7-7 47-7 30-9 21-4 2-7-2-479-435zM244 1528l-38-30-60-174 0-4 5-6 7 1 3 3 93 199 0 4-5 7zM171 1489l-19-65 0-4 6-5 4 0 6 5 21 61 0 4-5 6zM659 1693l-40 34-13 6-6-2-46-56-1-5 6-14 2-13-5-17-10-4-9 5-6 8-8 1-3-2-343-417-1-4 2-7 3-2 8 2 149 135 2 7-6 12-1 10 1 9 4 6 4 2 6-2 10-15 3-2 8 1 313 285 3 7-2 3zM586 1742l-48 15-21 2-27-3-7-4-101-161-6-28-4-3-7 0-4-3-192-308-2-4 4-7 7-1 4 2 404 492 2 4zM506 1867l-27-3-27-6-27-10-8-6-112-240 1-8 9-8 4-12 1-13-4-12-4-5-6-3-8 3-7 8-8-1-3-3-127-273-1-4 5-7 7 0 3 3 203 325 16 78 19 42 14 16 14 13 18 12 28 14 54 87 0 8-2 3zM250 1613l-13 9-17 6-18 1-16-4-8-46 13-10 17-6 18-1 16 5 11 8 6 12-1 13zM265 1693l-13 10-17 6-17 1-16-4-10-46 14-10 16-6 18-1 16 4 12 9 6 11-1 13zM362 1807l-20-20-17-21-14-26-13-28-10-37-15-79 0-4 5-5 4 0 6 4 102 223-4 6-4 1zM432 1726l-14-15-8-15 2-6 6-7 8 1 2 2 22 38-1 4-8 3zM292 1762l-10 13-15 9-17 6-16-1-19-43 9-12 15-9 17-6 17 1 13 5 9 10 2 13zM337 1820l-7 15-12 14-15 9-16 5-30-36 6-15 12-13 15-10 16-4 15 1 11 8 5 12zM396 1862l-2 17-8 16-11 13-14 9-40-25 2-17 8-16 12-13 14-9 14-3 13 4 8 10zM464 1888l3 17-3 17-8 16-11 12-44-13-3-17 3-18 8-16 11-12 13-6 13 0 11 7z" fill="#e9ae2a" stroke="#c9a03a" stroke-width="5" fill-rule="evenodd"/><path d="M-5.5,78.7C-6.5,91.7 -5.5,101.7 -4.5,111.7C-3.5,131.7 -2.0,151.7 0.0,166.7C2.0,151.7 3.5,131.7 4.5,111.7C5.5,101.7 6.5,91.7 5.5,78.7C3.5,73.7 -3.5,73.7 -5.5,78.7Z" fill="#eab22a" stroke="#c9a03a" stroke-width="0.5"/><path d="M-3.1,79.7V116.7M3.1,79.7V116.7" stroke="#fbe9a0" stroke-width="1" stroke-dasharray="3.5 2"/></g>
<g transform="translate(1329.60,732.46) scale(0.7963)"><path transform="scale(0.1)" d="M-745 750l-7-11-7-5-26-7-10 1-13 5-7 11 3 12 11 9 8 4 18 4 17-3 7-4 6-9zM746 761l6 6 13 5 10 1 18-4 8-4 11-9 3-13-7-10-13-5-10-1-18 4-8 4-11 9-3 7zM-750 1083l3 7-2 7-55 47-32 33-14 18-23 37-20 42-24 64-18 62-10 62-3 83 6 64 13 61 17 52 24 46 30 43 39 44 45 40 47 33 35 17 36 14 68 20 62 9 31 0 30-3 32-6 31-10 31-12 28-15 56-39 25-23 21-25 28-40 22-46 12-33 13-53 30-176 39-315 17-104 6-11 9-7 30-11-2-10 13-15 15-30 9-38 9 38 15 30 13 15-2 10 30 11 9 7 6 11 17 104 39 315 30 176 13 53 12 33 22 45 18 28 20 26 23 24 26 22 28 19 29 17 29 14 63 18 31 5 30 1 62-6 66-17 72-28 49-30 46-38 41-44 42-57 24-46 17-52 13-61 6-64-3-83-10-62-18-62-24-64-31-61-25-35-33-34-54-46-3-10 5-6 52-31 37-30 55-52 38-42 40-52 55-80 49-80 38-70 39-84 74-177 30-84 15-77 6-81-2-47-12-36-12-19-13-10-26-12-35-8-30-3-34 1-91 10-77 16-72 24-95 44-97 55-98 64-84 60-176 146-72 65-56 59-104 120-62 58-12 16-9 19-6 23-5 37-5-37-6-23-9-19-12-16-62-58-104-120-56-59-71-65-158-132-58-43-93-64-75-46-96-52-71-32-72-24-52-11-50-8-84-8-32 1-26 4-42 14-14 9-15 17-10 23-5 20-2 22 0 39 8 86 13 58 13 41 111 263 38 77 38 66 63 97 53 72 47 53 55 52 37 30zM-1176 80l-7-13-1-13 3-12 5-5 37-3 11 11 6 12 2 13-3 12-8 9-11 5-12-1-12-5zM-965 103l4-6 4 0 19 6 2 6-7 7-6 2-14-9zM-1183 128l-8 8-12 4-14-1-12-6-10-10-6-12-1-12 4-11 8-8 12-4 14 1 12 6 10 10 6 12 1 12zM-1206 210l-13 3-14-2-12-6-5-6-2-29 6-7 11-7 14-3 14 2 12 6 8 10 3 11-3 12-7 10zM-1179 139l3-11 48-33 21-20 56 5 37 6 67 51-5 54-2 3-15 11-4 10 4 9 5 4 20 7 3 3 25 62 0 6-14 13-6 0-44-23-3-3-3-17-8-8-11-3-18 7-4-1-49-27-4-11-9-8-3-25 4-6 9-2 8-6 5-12-2-20-7-10-26-9-10 3-6 6-2 9 1 8-12 23 5 7 11 2 3 2 2 20-3 7-3 1-64-34zM-1194 283l-13 5-14 1-14-5-8-40 10-9 12-5 14-1 13 3 10 8 5 11 0 11-5 12zM-1167 352l-12 7-14 3-17-4-13-34 1-3 9-11 12-7 14-3 13 2 11 7 6 9 2 12-4 12zM-1179 216l3-7 7 0 53 28 2 2 4 14 11 8 20 53-2 13 1 8 4 6 12 9 21 48-2 14 1 7 4 6 12 8 12 29-1 8-8 2-71-24-4-4-64-157-12-41zM-1076 269l4-5 6 0 35 19 7 15 8 8 11 3 18-3 94 50 9 19-4 15 1 6 5 5 10 4 3 6-13 14 0 12 9 9 21 6 3 3 28 59 0 7-11 12-7 2-86-30-5-6 4-18-4-7-5-3-7-2-14 2-18 12-15-6-23-51 3-14-2-7-5-7-11-7-20-48 2-14-1-7-4-6-12-9zM-1138 422l-12 7-13 4-13-2-5-2-13-32 1-5 8-10 12-8 13-3 14 1 11 6 7 10 2 11-4 12zM-1108 492l-12 7-13 4-14-2-5-3-13-31 2-5 8-10 12-8 13-3 14 1 11 6 7 10 2 11-4 12zM-1078 562l-12 7-13 4-14-2-5-2-13-31 1-6 9-10 11-8 14-3 13 1 11 6 7 9 2 12-3 12zM-1086 476l1-8 7-2 67 24 3 15 16 12 22 49-1 13 2 8 4 6 13 7 26 46-1 24-6 2-62-10-5-3-41-79zM-1038 619l-8 11-11 8-14 4-13-1-5-2-15-30 2-6 7-11 12-8 13-4 13 1 12 5 7 9 3 12zM-1009 696l-11 8-13 5-13 0-5-2-13-22-4-7 1-5 7-12 11-9 13-5 13 0 12 5 8 8 3 12-2 12zM-969 760l-10 9-13 5-13 1-6-2-18-28 1-6 6-12 11-9 13-5 13-1 12 4 8 8 4 11-1 13zM-905 807l-78-119 1-8 3-2 80 12 22 33 0 15 3 6 6 6 12 5 32 43 1 13 4 8 7 5 12 4 14 15 2 7-7 4-75 3-14-16-1-4 2-11-3-8-10-6zM-920 810l-6 12-11 10-12 6-14 1-5-2-19-28 1-5 6-12 10-10 12-6 14-1 12 4 8 8 5 11zM-876 870l-5 12-9 11-13 6-13 2-5-1-21-27 5-18 10-10 12-7 13-2 13 3 9 8 5 10zM-829 936l-8 11-11 8-13 4-8-1-22-22 0-7 3-13 8-11 12-9 13-3 12 1 10 6 6 10 2 13zM-837 1353l-18-4-15-9-11-14 15-40 3-2 17 0 17 4 15 9 11 13 5 13-1 13-9 11-13 6zM-859 1430l-18-2-16-7-13-11 13-45 16-3 18 2 16 7 13 11 6 13 0 13-7 12-12 7zM-868 1509l-18 1-17-5-14-8 4-46 16-6 17-1 18 4 14 8 9 12 2 13-4 12-11 10zM-863 1588l-18 4-17-2-17-6-3-46 15-8 17-4 18 1 15 6 11 10 4 12-2 13-9 11zM-847 1665l-17 7-17 1-17-4-10-45 13-10 17-7 17-1 17 4 12 8 6 11-1 13-7 13zM-805 1724l-10 13-14 10-17 5-17 0-21-41 11-14 14-10 17-5 17 0 14 5 8 10 3 13zM-931 114l2-6 8-1 29 10 56 24 116 64 78 51 3 6-4 6-15 1-8 4-6 6-1 15 9 17 0 8-3 3-7-1-253-185-2-3 0-13zM-914 204l-19-10-3-6 3-29 2-3 6-3 475 347 2 7-1 3-6 3-19 0-11 5-6 6-3 9 0 13-6 5-3-1-371-198-5-9 13-14 0-11-9-9-21-7-2-3-26-64 13-15 1-10zM-853 406l0-6 11-13 7 0 154 82 4 4 5 0 533 284 3 3 0 6-5 4-3 0-412-139-10-12-14-9-17-2-16 3-13-4-4-4-52-121-6 1-2 5 42 99-1 8-7 2-113-39-5-5 0-3 5-9 0-10-8-8-24-7-2-3-29-58 1-7 11-12 0-11-9-8-21-7zM-970 521l3-5 23-4 104 35 4 5 0 4-15 14-5 15 5 12 13 7 9 2 19-3 9-5 15-12 6 1 20 32-9 13 1 11 7 8 7 3 20 4 2 2 26 36 1 3-2 6-6 2-171-28-8-13 2-10-3-7-5-6-13-6-25-46 1-13-2-8-5-5-12-8zM-761 580l5-4 4 1 117 40 5 12 21 85-1 6-6 2-23-3-12-6-25-5-38-50 0-6 8-14-4-11-12-8-19-3-19-29zM-607 770l-31-25-1-4 6-8 26 3 5 5 6 25-5 5zM-844 724l-16-9-7-9-1-3 4-7 160 24 6 5 1 11 8 8 14 5 19 2 70 55 10 35-6 5-167 6-37-36-2-14-4-7-18-8-31-42 0-14zM-529 835l0 4-7 5-25 0-4-4-3-15 2-3 6-2 26 10zM-848 877l3-7 3-1 79-3 11 20 7 4 13 1 51 40 0 7-2 2-23 6-5 3-4 7 1 6 7 6 22 5 15-2 14-9 0-8-10-13 5-10 1-6-4-4-56-44-3-5 1-5 6-4 143-5 4 5 19 66 5 3 4-2 1-4-17-61 2-7 4-2 431-18 3 1 4 5-1 4-4 4-584 148-7-2-83-66-38-34zM-771 983l-7 12-10 9-13 5-12 1-19-17-2-10 2-13 7-12 10-10 13-5 12 0 11 5 7 9 3 13zM-709 1015l-2 13-6 13-10 9-13 6-3 0-28-16-2-10 2-13 6-13 10-9 13-6 12 0 11 5 7 9zM-684 1173l-15-7-13-12-9-15-4-16 1-7 17-14 34-1 12 11 9 15 4 16-2 15-7 10-12 6zM-761 1218l-14-11-10-15-4-16 1-6 21-20 7-5 6 0 16 7 13 11 10 15 4 16-2 15-7 11-12 5-14 0zM-739 1255l31-28 5 0 18 17 10 2 7-2 5-7 1-7-4-23 6-7 417-81 4 0 5 6 0 4-5 6-337 116-10 0-10 7-171 57-5-6 0-5 13-22zM-807 1280l-16-7-13-12-9-16 19-33 6-4 17 2 16 8 13 11 9 14 3 15-4 12-10 9-14 4zM-717 1401l-6-4-6-19-9-11-11-5-9 0-7 8-1 12 6 14 11 14-1 7-57 30-8-1-3-3 11-50 22-57 124-44 8 2 2 8-26 30-16 31-12 31-4 4zM-711 1519l-7-4-1-4 1-20 9-49 12-37 190-96 8 1 12 23 16 12 2 4-3 8zM-809 1543l-13 1-5-7 1-35 4-34 94-48 8 1 3 8-10 45-4 60-50 34-7-3-5-10-8-9zM-802 1669l-15-56 3-8 73-50 8-1 3 2 11 54 15 46-2 5-61 55-8 1-14-19zM-737 1767l-26-30-1-7 66-60 8 3 34 39 40 31-1 9-55 65-8-1-12-8zM-758 1768l-1 14-7 15-12 13-15 10-15 3-30-36 6-14 12-13 15-10 17-4 14 2 11 8zM-655 1830l-4-8 2-4 57-67 48 14 21 4 22 1 8 4 0 8-51 80-8 0-33-8zM-702 1832l-4 16-9 15-13 13-14 6-37-30 4-15 9-15 13-12 15-7 14-1 12 5 8 11zM-637 1867l1 16-6 17-9 15-12 10-43-20-1-15 5-17 10-15 13-11 14-4 13 2 10 8zM-571 1876l8 12 3 17-2 17-7 16-10 12-46-12-3-16 2-17 7-16 11-13 13-7 13 0zM-490 1892l7 15 3 17-2 18-7 15-47 0-7-14-3-18 2-18 7-15 11-10 12-3 13 3zM-577 309l6-3 3 2 51 38 113 97 117 105 16 5 11-1 11-5 6 2 70 79 61 75 6 9-2 6-3 2-6-1-206-175-10-2-70-58-5 1 1 5 104 86 2 3-1 7-3 2-6-1-323-238 2-7 3-2 26 6 11-1 8-4 6-6 2-6-3-17zM-377 566l4-5 6 1 223 163 2 3 0 7-6 3-3-1-238-127-4-6 1-4 14-11 2-8zM-610 662l6-4 15 4 16-1 8-4 9-11 6-1 408 138 3 2 1 7-1 3-6 2-446-71-5-5zM-589 748l1-6 6-2 458 73 3 1 3 6-1 3-6 3-376 16-6-3-2-3 3-6 15-6 12-11 0-12-5-6-16-9-22-3-22 3-9 4-11 8-7 0-8-8zM-692 1019l0-6 4-4 594-151 3 0 5 4 0 7-3 2-227 124-14 0-11 13-94 51-163 11-74 2-6-4-4-23zM-318 1057l-3-7 8-14 1-28 3-4 250-136 7 0 13 13 22 14 1 32-4 37-8 32-12 26-18 19-25 12-35 7-43 3-49 0zM-384 1053l1-7 2-3 34-17 6 3 9 21-1 4-7 3-37 0zM-604 1159l-16-16 1-4 9-24 2-5 5-1 362-18 4 1 5 6-3 8-4 1-350 68-7-2zM-444 1336l-8-4-3-18-11-18 1-7 3-2 235-118 4-1 6 4 1 4-3 7zM-680 1380l-4-7 0-3 21-39 28-27 47-37 341-118 7 2 3 3-1 7-3 3-432 216zM-689 1644l-7-2-2-3-11-32-9-51-1-12 4-7 42-28 7 3 7 17 8 11 10 4 9-3 4-5 2-12-2-13-12-19 3-9 421-289 4-1 7 3 1 4-2 7zM-249 1528l-5-7 0-4 93-199 3-3 7-1 5 6 0 4-60 174-34 28zM-179 1492l-8-3-2-8 21-61 6-5 4 0 6 5 0 4-16 61-3 4zM-659 1693l-26-32 3-7 313-285 8-1 3 2 10 15 6 2 4-2 4-6 1-9-1-10-6-12 2-7 149-135 8-2 3 2 2 7-1 4-343 417-3 2-8-1-6-8-9-5-10 4-5 17 2 13 6 14-1 5-46 56-3 2-7 0-17-11zM-586 1742l-2-7 2-4 404-492 4-2 7 1 4 7-2 4-192 308-4 3-7 0-4 3-6 28-101 161-4 4-10 2-26 1-26-5zM-531 1865l-2-3 0-8 54-87 28-14 18-12 14-13 14-16 19-42 16-78 203-325 3-3 7 0 5 7-1 4-127 273-3 3-8 1-7-8-8-3-6 3-4 5-4 12 1 13 4 12 9 8 1 8-112 240-4 4-17 7-28 8-39 6zM-242 1567l16-5 18 1 17 6 13 10-8 45-16 5-18-1-17-6-13-9-8-13-1-13 6-12zM-256 1647l16-4 18 1 16 6 14 10-10 46-16 4-17-1-17-6-13-10-8-13-1-13 6-11zM-382 1821l-7-3-1-8 102-219 6-4 4 0 5 5 0 4-10 54-10 46-11 30-13 27-16 24-29 30zM-441 1731l-8-3 0-9 21-33 2-2 8-1 8 10-1 7-11 15-10 11zM-273 1720l17-1 17 6 15 9 9 12-19 43-16 1-17-6-15-9-10-13-5-14 2-13 9-10zM-306 1785l16 4 15 10 12 13 6 15-30 36-16-5-15-9-12-14-7-15 0-14 5-12 11-8zM-357 1837l14 9 12 13 8 16 2 17-39 25-15-9-11-13-8-16-2-17 4-14 8-10 13-4zM-420 1874l11 12 8 16 3 18-2 16-44 14-12-12-8-16-3-17 3-17 7-13 11-7 13 0zM1131 91l-8-9-3-12 2-13 6-12 11-11 37 3 5 5 3 12-1 13-7 13-10 10-12 5-12 1zM949 118l-11-6-1-7 4-4 20-4 3 2 1 7zM1196 83l12-6 14-1 12 4 8 8 4 11-1 12-6 12-10 10-12 6-14 1-12-4-8-8-4-11 1-12 6-12zM1187 171l8-10 12-6 14-2 14 3 11 7 6 7-2 29-5 6-12 6-14 2-13-3-12-6-7-10-3-12zM1179 139l1 46-4 6-61 32-3-1-3-7 2-20 3-2 11-2 5-7-12-23 0-15-7-8-8-3-24 7-8 6-3 6-2 20 5 12 8 6 9 2 4 6-3 25-9 8-4 11-49 27-4 1-18-7-11 3-8 8-3 17-3 3-44 23-6 0-14-13 0-6 25-62 3-3 20-7 5-4 4-9-4-10-15-11-2-3-5-54 67-51 37-6 56-5 21 20 48 33zM1184 240l10-8 13-3 14 1 12 5 11 10-9 39-14 5-14-1-13-5-10-9-5-12 0-11zM1163 309l11-7 13-2 14 3 12 7 10 14-13 34-17 4-14-3-12-7-8-10-4-12 2-12zM1177 237l-8 32-12 38-57 137-4 4-71 24-8-2-1-8 12-29 12-8 4-6 1-7-2-14 21-48 11-8 5-6 1-8-2-14 19-50 12-11 4-14 58-31 4 1 3 7zM1062 307l-12 9-3 5-2 8 2 14-20 48-11 7-5 7-2 7 3 14-23 51-15 6-18-12-14-2-7 2-5 3-4 7 4 18-5 6-86 30-7-2-11-12 0-7 28-59 3-3 21-6 9-9 0-12-13-14 3-6 10-4 5-5 1-6-4-15 9-19 94-50 18 3 11-3 8-8 7-15 38-20 6 3 0 7zM1135 378l11-6 14-1 13 3 12 8 9 15-13 32-18 4-13-4-12-7-8-11-4-12 2-11zM1105 448l11-6 14-1 13 3 12 8 8 10 2 5-13 31-5 3-14 2-13-4-12-7-8-11-4-12 2-11zM1076 518l11-6 13-1 14 3 11 8 9 10 1 6-13 31-5 2-14 2-13-4-12-7-8-11-3-12 2-12zM1086 476l-57 128-31 57-65 11-6-2-1-24 26-46 13-7 4-6 2-8-1-13 22-49 16-12 3-15 67-24 7 2zM1057 581l13-1 13 4 12 8 7 11 2 6-15 30-18 3-14-4-11-8-8-11-3-12 3-12 7-9zM1011 652l12-5 13 0 13 5 11 9 7 12 1 5-17 29-5 2-13 0-13-5-11-8-7-12-2-12 3-12zM973 716l12-4 13 1 13 5 11 9 6 12 1 6-18 28-6 2-13-1-13-5-10-9-7-12-1-13 4-11zM983 688l-78 119-13 5-10 6-3 8 2 11-1 4-14 16-75-3-7-4 2-7 14-15 12-4 7-5 4-8 1-13 32-43 12-5 6-6 3-6 0-15 22-33 80-12 3 2zM944 775l14 1 12 6 10 10 6 12 1 5-19 28-19 1-12-6-11-10-6-12-1-12 5-11 8-8zM902 836l13 2 12 7 10 10 5 13 0 5-21 27-18-1-13-6-9-11-5-12-1-13 5-10 9-8zM843 894l12-1 13 3 12 9 8 11 3 13 0 7-22 22-8 1-13-4-11-8-8-11-4-13 2-13 6-10zM798 1323l5-13 11-13 15-9 17-4 20 2 15 40-11 14-15 9-18 4-16 0-13-6-9-11zM824 1395l6-13 13-11 16-7 18-2 18 4 11 43-13 12-16 7-18 2-16-3-12-7-7-12zM839 1468l9-12 14-8 18-4 17 1 16 6 4 46-14 8-17 5-18-1-16-6-11-10-4-12zM842 1543l11-10 15-6 18-1 17 4 15 8-3 46-17 6-17 2-18-4-14-9-9-11-2-13zM832 1618l12-8 17-4 17 1 17 7 13 11-10 44-17 4-17-1-17-7-13-10-7-13-1-13zM825 1682l17 0 17 5 14 10 11 13-21 42-17 0-17-5-14-10-10-13-5-14 3-13 8-10zM931 110l-1 19-3 7-253 185-7 1-3-3 0-8 9-17-1-15-6-6-8-4-15-1-4-6 3-6 78-51 117-64 55-24 30-11 7 2zM914 204l-4 6 0 9 13 12 1 7-26 61-2 3-21 7-9 8 0 12 13 14-5 9-371 198-3 1-6-5 0-13-3-9-6-6-11-5-19 0-6-3-1-3 2-7 472-346 7 0 4 5 2 32zM850 410l-21 7-9 8 0 11 11 12 1 7-29 58-2 3-24 7-8 8 0 10 5 9 0 3-5 5-113 39-7-2-1-8 42-99-2-5-6-1-52 121-4 4-13 4-16-3-17 2-14 9-10 12-412 139-3 0-5-4 0-6 3-3 533-284 5 0 4-4 154-82 7 0 11 13 0 6zM954 557l-12 8-4 5-3 7 1 14-25 46-12 6-6 5-3 8 2 10-8 13-171 28-6-2-2-3 1-6 26-36 2-2 20-4 7-3 7-8 1-11-9-13 20-32 6-1 15 12 19 7 18 0 13-8 4-7-1-12-4-8-14-14 0-4 4-5 104-35 5 0 18 4 3 5zM761 584l-20 32-19 3-12 8-4 11 8 14 0 6-38 50-25 5-12 6-23 3-6-2-1-6 21-85 5-12 121-41 5 4zM607 770l-6 1-5-5 8-28 29-5 4 5 1 7zM852 717l-9 10-2 18-31 42-18 8-4 7-2 14-37 36-167-6-6-5 10-35 70-55 19-2 14-5 8-8 1-11 6-5 160-24 4 7-1 3-7 9zM531 832l29-12 6 2 2 7-5 13-5 3-26-3-3-7zM847 880l-71 65-67 53-7 2-584-148-4-4-1-4 4-5 3-1 431 18 4 2 2 7-17 61 1 4 4 2 5-3 19-66 4-5 147 6 3 7-3 6-59 48 0 6 5 10-10 11 0 8 7 8 14 4 23-1 11-6 4-7-1-6-7-6-24-6-2-2 0-7 51-40 13-1 7-4 11-20 82 4 3 7zM790 943l12 0 13 5 10 10 7 12 2 13-2 10-19 17-12-1-13-5-10-9-7-12-2-13 3-13 7-9zM742 989l13 6 10 9 6 13 2 13-2 10-28 16-16-6-10-9-6-13-2-13 3-12 7-9 11-5zM648 1143l4-16 9-15 12-11 34 1 17 14 1 7-4 16-9 15-13 12-15 7-15 1-12-6-7-10zM713 1209l-2-15 4-16 10-15 13-11 16-7 6 0 28 25 1 6-4 16-10 15-14 11-15 7-14 0-12-5zM760 1282l12 22 0 5-5 6-171-57-10-7-10 0-337-116-5-6 0-4 5-6 4 0 417 81 6 7-4 23 1 7 5 7 7 2 10-2 18-17 5 0 31 27zM762 1258l3-15 9-14 13-11 16-8 20-1 22 36-9 16-13 12-16 7-17 3-14-4-10-9zM709 1398l-36-73-22-23 2-8 4-2 128 44 22 57 11 50-3 3-8 1-57-30-1-7 11-14 6-14-1-12-7-8-9 0-11 5-9 11-6 19-3 3-3 1zM469 1349l2-4 16-12 12-23 8-1 188 94 4 5 14 50 5 34 0 23-7 4-4-1-235-161zM810 1543l-10 4-12 18-7 3-50-34-4-60-10-45 3-8 8-1 94 48 4 34 1 35-5 7zM802 1669l-21 42-6 6-4 1-65-57-2-5 0-5 11-27 13-64 5-6 8 1 76 54-4 25zM707 1796l-27 20-8 1-56-69 3-8 25-18 23-21 23-28 8-3 64 56 2 7-27 34zM805 1750l15 10 12 13 6 14-30 36-15-3-15-10-12-13-7-15-1-14 5-12 11-8 14-2zM630 1841l-54 17-24 4-51-80 0-8 8-4 22-1 21-4 48-14 4 2 55 69-4 8zM738 1803l15 7 13 12 9 15 4 15-37 30-14-6-13-13-9-15-4-16 2-14 8-11 12-5zM679 1847l13 11 10 15 5 17-1 15-43 20-12-10-9-15-6-17 1-16 5-14 10-8 13-2zM619 1889l7 16 2 17-3 16-46 12-10-12-7-16-2-17 3-17 8-12 11-7 13 0 13 7zM537 1892l7 15 2 18-3 18-7 14-46 1-8-16-2-18 3-17 7-15 11-10 13-3 12 3zM577 320l1 15 7 7 18 4 26-6 3 2 2 7-323 238-6 1-3-2-1-7 2-3 104-86 1-5-5-1-70 58-10 2-206 175-6 1-3-2-2-6 6-9 61-75 70-79 6-2 11 5 11 1 16-5 142-127 111-93 31-22 6 3 2 3zM376 580l3 10 13 10 0 8-3 2-238 127-3 1-6-3 0-7 2-3 223-163 6-1 3 2 1 3zM591 726l-446 71-6-2-1-3 1-7 3-2 408-138 6 1 9 11 8 4 16 1 15-4 6 4-14 59zM577 793l-6 5-7 0-20-12-22-3-22 3-9 4-11 10-2 8 6 11 24 14-1 6-6 3-376-16-6-3-1-3 3-6 3-1 461-73 4 5 0 3zM684 1036l-6 32-6 4-74-2-165-12-92-50-11-13-14 0-227-124-3-2 0-7 5-4 3 0 594 151 5 7zM261 1061l-100 2-43-3-35-7-25-12-18-19-12-26-8-32-4-37 1-32 22-14 13-13 7 0 250 136 3 4 1 28 8 14-3 7zM381 1056l-41 1-7-3 1-8 10-19 6 0 33 19 1 7zM608 1154l-12 19-7 2-350-68-4-1-3-8 5-6 4-1 362 18 5 1 2 5 10 28-2 4zM216 1176l3-7 8 0 235 118 3 2 1 7-11 18-3 18-3 3-9 0-221-152zM238 1161l-1-7 3-3 7-2 341 118 73 61 22 39 0 10-3 3-7 0zM204 1200l4-7 8 1 421 289 3 9-12 19-2 13 2 12 4 5 9 3 10-4 8-11 7-17 7-3 42 28 4 7-7 47-7 30-9 21-4 2-7-2-479-435zM244 1528l-38-30-60-174 0-4 5-6 7 1 3 3 93 199 0 4-5 7zM171 1489l-19-65 0-4 6-5 4 0 6 5 21 61 0 4-5 6zM659 1693l-40 34-13 6-6-2-46-56-1-5 6-14 2-13-5-17-10-4-9 5-6 8-8 1-3-2-343-417-1-4 2-7 3-2 8 2 149 135 2 7-6 12-1 10 1 9 4 6 4 2 6-2 10-15 3-2 8 1 313 285 3 7-2 3zM586 1742l-48 15-21 2-27-3-7-4-101-161-6-28-4-3-7 0-4-3-192-308-2-4 4-7 7-1 4 2 404 492 2 4zM506 1867l-27-3-27-6-27-10-8-6-112-240 1-8 9-8 4-12 1-13-4-12-4-5-6-3-8 3-7 8-8-1-3-3-127-273-1-4 5-7 7 0 3 3 203 325 16 78 19 42 14 16 14 13 18 12 28 14 54 87 0 8-2 3zM250 1613l-13 9-17 6-18 1-16-4-8-46 13-10 17-6 18-1 16 5 11 8 6 12-1 13zM265 1693l-13 10-17 6-17 1-16-4-10-46 14-10 16-6 18-1 16 4 12 9 6 11-1 13zM362 1807l-20-20-17-21-14-26-13-28-10-37-15-79 0-4 5-5 4 0 6 4 102 223-4 6-4 1zM432 1726l-14-15-8-15 2-6 6-7 8 1 2 2 22 38-1 4-8 3zM292 1762l-10 13-15 9-17 6-16-1-19-43 9-12 15-9 17-6 17 1 13 5 9 10 2 13zM337 1820l-7 15-12 14-15 9-16 5-30-36 6-15 12-13 15-10 16-4 15 1 11 8 5 12zM396 1862l-2 17-8 16-11 13-14 9-40-25 2-17 8-16 12-13 14-9 14-3 13 4 8 10zM464 1888l3 17-3 17-8 16-11 12-44-13-3-17 3-18 8-16 11-12 13-6 13 0 11 7z" fill="#e9ae2a" stroke="#c9a03a" stroke-width="5" fill-rule="evenodd"/><path d="M-5.5,78.7C-6.5,91.7 -5.5,101.7 -4.5,111.7C-3.5,131.7 -2.0,151.7 0.0,166.7C2.0,151.7 3.5,131.7 4.5,111.7C5.5,101.7 6.5,91.7 5.5,78.7C3.5,73.7 -3.5,73.7 -5.5,78.7Z" fill="#eab22a" stroke="#c9a03a" stroke-width="0.5"/><path d="M-3.1,79.7V116.7M3.1,79.7V116.7" stroke="#fbe9a0" stroke-width="1" stroke-dasharray="3.5 2"/></g>
<g transform="translate(1332.35,1288.62) scale(0.5705)"><path transform="scale(0.1)" d="M-745 750l-7-11-7-5-26-7-10 1-13 5-7 11 3 12 11 9 8 4 18 4 17-3 7-4 6-9zM746 761l6 6 13 5 10 1 18-4 8-4 11-9 3-13-7-10-13-5-10-1-18 4-8 4-11 9-3 7zM-750 1083l3 7-2 7-55 47-32 33-14 18-23 37-20 42-24 64-18 62-10 62-3 83 6 64 13 61 17 52 24 46 30 43 39 44 45 40 47 33 35 17 36 14 68 20 62 9 31 0 30-3 32-6 31-10 31-12 28-15 56-39 25-23 21-25 28-40 22-46 12-33 13-53 30-176 39-315 17-104 6-11 9-7 30-11-2-10 13-15 15-30 9-38 9 38 15 30 13 15-2 10 30 11 9 7 6 11 17 104 39 315 30 176 13 53 12 33 22 45 18 28 20 26 23 24 26 22 28 19 29 17 29 14 63 18 31 5 30 1 62-6 66-17 72-28 49-30 46-38 41-44 42-57 24-46 17-52 13-61 6-64-3-83-10-62-18-62-24-64-31-61-25-35-33-34-54-46-3-10 5-6 52-31 37-30 55-52 38-42 40-52 55-80 49-80 38-70 39-84 74-177 30-84 15-77 6-81-2-47-12-36-12-19-13-10-26-12-35-8-30-3-34 1-91 10-77 16-72 24-95 44-97 55-98 64-84 60-176 146-72 65-56 59-104 120-62 58-12 16-9 19-6 23-5 37-5-37-6-23-9-19-12-16-62-58-104-120-56-59-71-65-158-132-58-43-93-64-75-46-96-52-71-32-72-24-52-11-50-8-84-8-32 1-26 4-42 14-14 9-15 17-10 23-5 20-2 22 0 39 8 86 13 58 13 41 111 263 38 77 38 66 63 97 53 72 47 53 55 52 37 30zM-1176 80l-7-13-1-13 3-12 5-5 37-3 11 11 6 12 2 13-3 12-8 9-11 5-12-1-12-5zM-965 103l4-6 4 0 19 6 2 6-7 7-6 2-14-9zM-1183 128l-8 8-12 4-14-1-12-6-10-10-6-12-1-12 4-11 8-8 12-4 14 1 12 6 10 10 6 12 1 12zM-1206 210l-13 3-14-2-12-6-5-6-2-29 6-7 11-7 14-3 14 2 12 6 8 10 3 11-3 12-7 10zM-1179 139l3-11 48-33 21-20 56 5 37 6 67 51-5 54-2 3-15 11-4 10 4 9 5 4 20 7 3 3 25 62 0 6-14 13-6 0-44-23-3-3-3-17-8-8-11-3-18 7-4-1-49-27-4-11-9-8-3-25 4-6 9-2 8-6 5-12-2-20-7-10-26-9-10 3-6 6-2 9 1 8-12 23 5 7 11 2 3 2 2 20-3 7-3 1-64-34zM-1194 283l-13 5-14 1-14-5-8-40 10-9 12-5 14-1 13 3 10 8 5 11 0 11-5 12zM-1167 352l-12 7-14 3-17-4-13-34 1-3 9-11 12-7 14-3 13 2 11 7 6 9 2 12-4 12zM-1179 216l3-7 7 0 53 28 2 2 4 14 11 8 20 53-2 13 1 8 4 6 12 9 21 48-2 14 1 7 4 6 12 8 12 29-1 8-8 2-71-24-4-4-64-157-12-41zM-1076 269l4-5 6 0 35 19 7 15 8 8 11 3 18-3 94 50 9 19-4 15 1 6 5 5 10 4 3 6-13 14 0 12 9 9 21 6 3 3 28 59 0 7-11 12-7 2-86-30-5-6 4-18-4-7-5-3-7-2-14 2-18 12-15-6-23-51 3-14-2-7-5-7-11-7-20-48 2-14-1-7-4-6-12-9zM-1138 422l-12 7-13 4-13-2-5-2-13-32 1-5 8-10 12-8 13-3 14 1 11 6 7 10 2 11-4 12zM-1108 492l-12 7-13 4-14-2-5-3-13-31 2-5 8-10 12-8 13-3 14 1 11 6 7 10 2 11-4 12zM-1078 562l-12 7-13 4-14-2-5-2-13-31 1-6 9-10 11-8 14-3 13 1 11 6 7 9 2 12-3 12zM-1086 476l1-8 7-2 67 24 3 15 16 12 22 49-1 13 2 8 4 6 13 7 26 46-1 24-6 2-62-10-5-3-41-79zM-1038 619l-8 11-11 8-14 4-13-1-5-2-15-30 2-6 7-11 12-8 13-4 13 1 12 5 7 9 3 12zM-1009 696l-11 8-13 5-13 0-5-2-13-22-4-7 1-5 7-12 11-9 13-5 13 0 12 5 8 8 3 12-2 12zM-969 760l-10 9-13 5-13 1-6-2-18-28 1-6 6-12 11-9 13-5 13-1 12 4 8 8 4 11-1 13zM-905 807l-78-119 1-8 3-2 80 12 22 33 0 15 3 6 6 6 12 5 32 43 1 13 4 8 7 5 12 4 14 15 2 7-7 4-75 3-14-16-1-4 2-11-3-8-10-6zM-920 810l-6 12-11 10-12 6-14 1-5-2-19-28 1-5 6-12 10-10 12-6 14-1 12 4 8 8 5 11zM-876 870l-5 12-9 11-13 6-13 2-5-1-21-27 5-18 10-10 12-7 13-2 13 3 9 8 5 10zM-829 936l-8 11-11 8-13 4-8-1-22-22 0-7 3-13 8-11 12-9 13-3 12 1 10 6 6 10 2 13zM-837 1353l-18-4-15-9-11-14 15-40 3-2 17 0 17 4 15 9 11 13 5 13-1 13-9 11-13 6zM-859 1430l-18-2-16-7-13-11 13-45 16-3 18 2 16 7 13 11 6 13 0 13-7 12-12 7zM-868 1509l-18 1-17-5-14-8 4-46 16-6 17-1 18 4 14 8 9 12 2 13-4 12-11 10zM-863 1588l-18 4-17-2-17-6-3-46 15-8 17-4 18 1 15 6 11 10 4 12-2 13-9 11zM-847 1665l-17 7-17 1-17-4-10-45 13-10 17-7 17-1 17 4 12 8 6 11-1 13-7 13zM-805 1724l-10 13-14 10-17 5-17 0-21-41 11-14 14-10 17-5 17 0 14 5 8 10 3 13zM-931 114l2-6 8-1 29 10 56 24 116 64 78 51 3 6-4 6-15 1-8 4-6 6-1 15 9 17 0 8-3 3-7-1-253-185-2-3 0-13zM-914 204l-19-10-3-6 3-29 2-3 6-3 475 347 2 7-1 3-6 3-19 0-11 5-6 6-3 9 0 13-6 5-3-1-371-198-5-9 13-14 0-11-9-9-21-7-2-3-26-64 13-15 1-10zM-853 406l0-6 11-13 7 0 154 82 4 4 5 0 533 284 3 3 0 6-5 4-3 0-412-139-10-12-14-9-17-2-16 3-13-4-4-4-52-121-6 1-2 5 42 99-1 8-7 2-113-39-5-5 0-3 5-9 0-10-8-8-24-7-2-3-29-58 1-7 11-12 0-11-9-8-21-7zM-970 521l3-5 23-4 104 35 4 5 0 4-15 14-5 15 5 12 13 7 9 2 19-3 9-5 15-12 6 1 20 32-9 13 1 11 7 8 7 3 20 4 2 2 26 36 1 3-2 6-6 2-171-28-8-13 2-10-3-7-5-6-13-6-25-46 1-13-2-8-5-5-12-8zM-761 580l5-4 4 1 117 40 5 12 21 85-1 6-6 2-23-3-12-6-25-5-38-50 0-6 8-14-4-11-12-8-19-3-19-29zM-607 770l-31-25-1-4 6-8 26 3 5 5 6 25-5 5zM-844 724l-16-9-7-9-1-3 4-7 160 24 6 5 1 11 8 8 14 5 19 2 70 55 10 35-6 5-167 6-37-36-2-14-4-7-18-8-31-42 0-14zM-529 835l0 4-7 5-25 0-4-4-3-15 2-3 6-2 26 10zM-848 877l3-7 3-1 79-3 11 20 7 4 13 1 51 40 0 7-2 2-23 6-5 3-4 7 1 6 7 6 22 5 15-2 14-9 0-8-10-13 5-10 1-6-4-4-56-44-3-5 1-5 6-4 143-5 4 5 19 66 5 3 4-2 1-4-17-61 2-7 4-2 431-18 3 1 4 5-1 4-4 4-584 148-7-2-83-66-38-34zM-771 983l-7 12-10 9-13 5-12 1-19-17-2-10 2-13 7-12 10-10 13-5 12 0 11 5 7 9 3 13zM-709 1015l-2 13-6 13-10 9-13 6-3 0-28-16-2-10 2-13 6-13 10-9 13-6 12 0 11 5 7 9zM-684 1173l-15-7-13-12-9-15-4-16 1-7 17-14 34-1 12 11 9 15 4 16-2 15-7 10-12 6zM-761 1218l-14-11-10-15-4-16 1-6 21-20 7-5 6 0 16 7 13 11 10 15 4 16-2 15-7 11-12 5-14 0zM-739 1255l31-28 5 0 18 17 10 2 7-2 5-7 1-7-4-23 6-7 417-81 4 0 5 6 0 4-5 6-337 116-10 0-10 7-171 57-5-6 0-5 13-22zM-807 1280l-16-7-13-12-9-16 19-33 6-4 17 2 16 8 13 11 9 14 3 15-4 12-10 9-14 4zM-717 1401l-6-4-6-19-9-11-11-5-9 0-7 8-1 12 6 14 11 14-1 7-57 30-8-1-3-3 11-50 22-57 124-44 8 2 2 8-26 30-16 31-12 31-4 4zM-711 1519l-7-4-1-4 1-20 9-49 12-37 190-96 8 1 12 23 16 12 2 4-3 8zM-809 1543l-13 1-5-7 1-35 4-34 94-48 8 1 3 8-10 45-4 60-50 34-7-3-5-10-8-9zM-802 1669l-15-56 3-8 73-50 8-1 3 2 11 54 15 46-2 5-61 55-8 1-14-19zM-737 1767l-26-30-1-7 66-60 8 3 34 39 40 31-1 9-55 65-8-1-12-8zM-758 1768l-1 14-7 15-12 13-15 10-15 3-30-36 6-14 12-13 15-10 17-4 14 2 11 8zM-655 1830l-4-8 2-4 57-67 48 14 21 4 22 1 8 4 0 8-51 80-8 0-33-8zM-702 1832l-4 16-9 15-13 13-14 6-37-30 4-15 9-15 13-12 15-7 14-1 12 5 8 11zM-637 1867l1 16-6 17-9 15-12 10-43-20-1-15 5-17 10-15 13-11 14-4 13 2 10 8zM-571 1876l8 12 3 17-2 17-7 16-10 12-46-12-3-16 2-17 7-16 11-13 13-7 13 0zM-490 1892l7 15 3 17-2 18-7 15-47 0-7-14-3-18 2-18 7-15 11-10 12-3 13 3zM-577 309l6-3 3 2 51 38 113 97 117 105 16 5 11-1 11-5 6 2 70 79 61 75 6 9-2 6-3 2-6-1-206-175-10-2-70-58-5 1 1 5 104 86 2 3-1 7-3 2-6-1-323-238 2-7 3-2 26 6 11-1 8-4 6-6 2-6-3-17zM-377 566l4-5 6 1 223 163 2 3 0 7-6 3-3-1-238-127-4-6 1-4 14-11 2-8zM-610 662l6-4 15 4 16-1 8-4 9-11 6-1 408 138 3 2 1 7-1 3-6 2-446-71-5-5zM-589 748l1-6 6-2 458 73 3 1 3 6-1 3-6 3-376 16-6-3-2-3 3-6 15-6 12-11 0-12-5-6-16-9-22-3-22 3-9 4-11 8-7 0-8-8zM-692 1019l0-6 4-4 594-151 3 0 5 4 0 7-3 2-227 124-14 0-11 13-94 51-163 11-74 2-6-4-4-23zM-318 1057l-3-7 8-14 1-28 3-4 250-136 7 0 13 13 22 14 1 32-4 37-8 32-12 26-18 19-25 12-35 7-43 3-49 0zM-384 1053l1-7 2-3 34-17 6 3 9 21-1 4-7 3-37 0zM-604 1159l-16-16 1-4 9-24 2-5 5-1 362-18 4 1 5 6-3 8-4 1-350 68-7-2zM-444 1336l-8-4-3-18-11-18 1-7 3-2 235-118 4-1 6 4 1 4-3 7zM-680 1380l-4-7 0-3 21-39 28-27 47-37 341-118 7 2 3 3-1 7-3 3-432 216zM-689 1644l-7-2-2-3-11-32-9-51-1-12 4-7 42-28 7 3 7 17 8 11 10 4 9-3 4-5 2-12-2-13-12-19 3-9 421-289 4-1 7 3 1 4-2 7zM-249 1528l-5-7 0-4 93-199 3-3 7-1 5 6 0 4-60 174-34 28zM-179 1492l-8-3-2-8 21-61 6-5 4 0 6 5 0 4-16 61-3 4zM-659 1693l-26-32 3-7 313-285 8-1 3 2 10 15 6 2 4-2 4-6 1-9-1-10-6-12 2-7 149-135 8-2 3 2 2 7-1 4-343 417-3 2-8-1-6-8-9-5-10 4-5 17 2 13 6 14-1 5-46 56-3 2-7 0-17-11zM-586 1742l-2-7 2-4 404-492 4-2 7 1 4 7-2 4-192 308-4 3-7 0-4 3-6 28-101 161-4 4-10 2-26 1-26-5zM-531 1865l-2-3 0-8 54-87 28-14 18-12 14-13 14-16 19-42 16-78 203-325 3-3 7 0 5 7-1 4-127 273-3 3-8 1-7-8-8-3-6 3-4 5-4 12 1 13 4 12 9 8 1 8-112 240-4 4-17 7-28 8-39 6zM-242 1567l16-5 18 1 17 6 13 10-8 45-16 5-18-1-17-6-13-9-8-13-1-13 6-12zM-256 1647l16-4 18 1 16 6 14 10-10 46-16 4-17-1-17-6-13-10-8-13-1-13 6-11zM-382 1821l-7-3-1-8 102-219 6-4 4 0 5 5 0 4-10 54-10 46-11 30-13 27-16 24-29 30zM-441 1731l-8-3 0-9 21-33 2-2 8-1 8 10-1 7-11 15-10 11zM-273 1720l17-1 17 6 15 9 9 12-19 43-16 1-17-6-15-9-10-13-5-14 2-13 9-10zM-306 1785l16 4 15 10 12 13 6 15-30 36-16-5-15-9-12-14-7-15 0-14 5-12 11-8zM-357 1837l14 9 12 13 8 16 2 17-39 25-15-9-11-13-8-16-2-17 4-14 8-10 13-4zM-420 1874l11 12 8 16 3 18-2 16-44 14-12-12-8-16-3-17 3-17 7-13 11-7 13 0zM1131 91l-8-9-3-12 2-13 6-12 11-11 37 3 5 5 3 12-1 13-7 13-10 10-12 5-12 1zM949 118l-11-6-1-7 4-4 20-4 3 2 1 7zM1196 83l12-6 14-1 12 4 8 8 4 11-1 12-6 12-10 10-12 6-14 1-12-4-8-8-4-11 1-12 6-12zM1187 171l8-10 12-6 14-2 14 3 11 7 6 7-2 29-5 6-12 6-14 2-13-3-12-6-7-10-3-12zM1179 139l1 46-4 6-61 32-3-1-3-7 2-20 3-2 11-2 5-7-12-23 0-15-7-8-8-3-24 7-8 6-3 6-2 20 5 12 8 6 9 2 4 6-3 25-9 8-4 11-49 27-4 1-18-7-11 3-8 8-3 17-3 3-44 23-6 0-14-13 0-6 25-62 3-3 20-7 5-4 4-9-4-10-15-11-2-3-5-54 67-51 37-6 56-5 21 20 48 33zM1184 240l10-8 13-3 14 1 12 5 11 10-9 39-14 5-14-1-13-5-10-9-5-12 0-11zM1163 309l11-7 13-2 14 3 12 7 10 14-13 34-17 4-14-3-12-7-8-10-4-12 2-12zM1177 237l-8 32-12 38-57 137-4 4-71 24-8-2-1-8 12-29 12-8 4-6 1-7-2-14 21-48 11-8 5-6 1-8-2-14 19-50 12-11 4-14 58-31 4 1 3 7zM1062 307l-12 9-3 5-2 8 2 14-20 48-11 7-5 7-2 7 3 14-23 51-15 6-18-12-14-2-7 2-5 3-4 7 4 18-5 6-86 30-7-2-11-12 0-7 28-59 3-3 21-6 9-9 0-12-13-14 3-6 10-4 5-5 1-6-4-15 9-19 94-50 18 3 11-3 8-8 7-15 38-20 6 3 0 7zM1135 378l11-6 14-1 13 3 12 8 9 15-13 32-18 4-13-4-12-7-8-11-4-12 2-11zM1105 448l11-6 14-1 13 3 12 8 8 10 2 5-13 31-5 3-14 2-13-4-12-7-8-11-4-12 2-11zM1076 518l11-6 13-1 14 3 11 8 9 10 1 6-13 31-5 2-14 2-13-4-12-7-8-11-3-12 2-12zM1086 476l-57 128-31 57-65 11-6-2-1-24 26-46 13-7 4-6 2-8-1-13 22-49 16-12 3-15 67-24 7 2zM1057 581l13-1 13 4 12 8 7 11 2 6-15 30-18 3-14-4-11-8-8-11-3-12 3-12 7-9zM1011 652l12-5 13 0 13 5 11 9 7 12 1 5-17 29-5 2-13 0-13-5-11-8-7-12-2-12 3-12zM973 716l12-4 13 1 13 5 11 9 6 12 1 6-18 28-6 2-13-1-13-5-10-9-7-12-1-13 4-11zM983 688l-78 119-13 5-10 6-3 8 2 11-1 4-14 16-75-3-7-4 2-7 14-15 12-4 7-5 4-8 1-13 32-43 12-5 6-6 3-6 0-15 22-33 80-12 3 2zM944 775l14 1 12 6 10 10 6 12 1 5-19 28-19 1-12-6-11-10-6-12-1-12 5-11 8-8zM902 836l13 2 12 7 10 10 5 13 0 5-21 27-18-1-13-6-9-11-5-12-1-13 5-10 9-8zM843 894l12-1 13 3 12 9 8 11 3 13 0 7-22 22-8 1-13-4-11-8-8-11-4-13 2-13 6-10zM798 1323l5-13 11-13 15-9 17-4 20 2 15 40-11 14-15 9-18 4-16 0-13-6-9-11zM824 1395l6-13 13-11 16-7 18-2 18 4 11 43-13 12-16 7-18 2-16-3-12-7-7-12zM839 1468l9-12 14-8 18-4 17 1 16 6 4 46-14 8-17 5-18-1-16-6-11-10-4-12zM842 1543l11-10 15-6 18-1 17 4 15 8-3 46-17 6-17 2-18-4-14-9-9-11-2-13zM832 1618l12-8 17-4 17 1 17 7 13 11-10 44-17 4-17-1-17-7-13-10-7-13-1-13zM825 1682l17 0 17 5 14 10 11 13-21 42-17 0-17-5-14-10-10-13-5-14 3-13 8-10zM931 110l-1 19-3 7-253 185-7 1-3-3 0-8 9-17-1-15-6-6-8-4-15-1-4-6 3-6 78-51 117-64 55-24 30-11 7 2zM914 204l-4 6 0 9 13 12 1 7-26 61-2 3-21 7-9 8 0 12 13 14-5 9-371 198-3 1-6-5 0-13-3-9-6-6-11-5-19 0-6-3-1-3 2-7 472-346 7 0 4 5 2 32zM850 410l-21 7-9 8 0 11 11 12 1 7-29 58-2 3-24 7-8 8 0 10 5 9 0 3-5 5-113 39-7-2-1-8 42-99-2-5-6-1-52 121-4 4-13 4-16-3-17 2-14 9-10 12-412 139-3 0-5-4 0-6 3-3 533-284 5 0 4-4 154-82 7 0 11 13 0 6zM954 557l-12 8-4 5-3 7 1 14-25 46-12 6-6 5-3 8 2 10-8 13-171 28-6-2-2-3 1-6 26-36 2-2 20-4 7-3 7-8 1-11-9-13 20-32 6-1 15 12 19 7 18 0 13-8 4-7-1-12-4-8-14-14 0-4 4-5 104-35 5 0 18 4 3 5zM761 584l-20 32-19 3-12 8-4 11 8 14 0 6-38 50-25 5-12 6-23 3-6-2-1-6 21-85 5-12 121-41 5 4zM607 770l-6 1-5-5 8-28 29-5 4 5 1 7zM852 717l-9 10-2 18-31 42-18 8-4 7-2 14-37 36-167-6-6-5 10-35 70-55 19-2 14-5 8-8 1-11 6-5 160-24 4 7-1 3-7 9zM531 832l29-12 6 2 2 7-5 13-5 3-26-3-3-7zM847 880l-71 65-67 53-7 2-584-148-4-4-1-4 4-5 3-1 431 18 4 2 2 7-17 61 1 4 4 2 5-3 19-66 4-5 147 6 3 7-3 6-59 48 0 6 5 10-10 11 0 8 7 8 14 4 23-1 11-6 4-7-1-6-7-6-24-6-2-2 0-7 51-40 13-1 7-4 11-20 82 4 3 7zM790 943l12 0 13 5 10 10 7 12 2 13-2 10-19 17-12-1-13-5-10-9-7-12-2-13 3-13 7-9zM742 989l13 6 10 9 6 13 2 13-2 10-28 16-16-6-10-9-6-13-2-13 3-12 7-9 11-5zM648 1143l4-16 9-15 12-11 34 1 17 14 1 7-4 16-9 15-13 12-15 7-15 1-12-6-7-10zM713 1209l-2-15 4-16 10-15 13-11 16-7 6 0 28 25 1 6-4 16-10 15-14 11-15 7-14 0-12-5zM760 1282l12 22 0 5-5 6-171-57-10-7-10 0-337-116-5-6 0-4 5-6 4 0 417 81 6 7-4 23 1 7 5 7 7 2 10-2 18-17 5 0 31 27zM762 1258l3-15 9-14 13-11 16-8 20-1 22 36-9 16-13 12-16 7-17 3-14-4-10-9zM709 1398l-36-73-22-23 2-8 4-2 128 44 22 57 11 50-3 3-8 1-57-30-1-7 11-14 6-14-1-12-7-8-9 0-11 5-9 11-6 19-3 3-3 1zM469 1349l2-4 16-12 12-23 8-1 188 94 4 5 14 50 5 34 0 23-7 4-4-1-235-161zM810 1543l-10 4-12 18-7 3-50-34-4-60-10-45 3-8 8-1 94 48 4 34 1 35-5 7zM802 1669l-21 42-6 6-4 1-65-57-2-5 0-5 11-27 13-64 5-6 8 1 76 54-4 25zM707 1796l-27 20-8 1-56-69 3-8 25-18 23-21 23-28 8-3 64 56 2 7-27 34zM805 1750l15 10 12 13 6 14-30 36-15-3-15-10-12-13-7-15-1-14 5-12 11-8 14-2zM630 1841l-54 17-24 4-51-80 0-8 8-4 22-1 21-4 48-14 4 2 55 69-4 8zM738 1803l15 7 13 12 9 15 4 15-37 30-14-6-13-13-9-15-4-16 2-14 8-11 12-5zM679 1847l13 11 10 15 5 17-1 15-43 20-12-10-9-15-6-17 1-16 5-14 10-8 13-2zM619 1889l7 16 2 17-3 16-46 12-10-12-7-16-2-17 3-17 8-12 11-7 13 0 13 7zM537 1892l7 15 2 18-3 18-7 14-46 1-8-16-2-18 3-17 7-15 11-10 13-3 12 3zM577 320l1 15 7 7 18 4 26-6 3 2 2 7-323 238-6 1-3-2-1-7 2-3 104-86 1-5-5-1-70 58-10 2-206 175-6 1-3-2-2-6 6-9 61-75 70-79 6-2 11 5 11 1 16-5 142-127 111-93 31-22 6 3 2 3zM376 580l3 10 13 10 0 8-3 2-238 127-3 1-6-3 0-7 2-3 223-163 6-1 3 2 1 3zM591 726l-446 71-6-2-1-3 1-7 3-2 408-138 6 1 9 11 8 4 16 1 15-4 6 4-14 59zM577 793l-6 5-7 0-20-12-22-3-22 3-9 4-11 10-2 8 6 11 24 14-1 6-6 3-376-16-6-3-1-3 3-6 3-1 461-73 4 5 0 3zM684 1036l-6 32-6 4-74-2-165-12-92-50-11-13-14 0-227-124-3-2 0-7 5-4 3 0 594 151 5 7zM261 1061l-100 2-43-3-35-7-25-12-18-19-12-26-8-32-4-37 1-32 22-14 13-13 7 0 250 136 3 4 1 28 8 14-3 7zM381 1056l-41 1-7-3 1-8 10-19 6 0 33 19 1 7zM608 1154l-12 19-7 2-350-68-4-1-3-8 5-6 4-1 362 18 5 1 2 5 10 28-2 4zM216 1176l3-7 8 0 235 118 3 2 1 7-11 18-3 18-3 3-9 0-221-152zM238 1161l-1-7 3-3 7-2 341 118 73 61 22 39 0 10-3 3-7 0zM204 1200l4-7 8 1 421 289 3 9-12 19-2 13 2 12 4 5 9 3 10-4 8-11 7-17 7-3 42 28 4 7-7 47-7 30-9 21-4 2-7-2-479-435zM244 1528l-38-30-60-174 0-4 5-6 7 1 3 3 93 199 0 4-5 7zM171 1489l-19-65 0-4 6-5 4 0 6 5 21 61 0 4-5 6zM659 1693l-40 34-13 6-6-2-46-56-1-5 6-14 2-13-5-17-10-4-9 5-6 8-8 1-3-2-343-417-1-4 2-7 3-2 8 2 149 135 2 7-6 12-1 10 1 9 4 6 4 2 6-2 10-15 3-2 8 1 313 285 3 7-2 3zM586 1742l-48 15-21 2-27-3-7-4-101-161-6-28-4-3-7 0-4-3-192-308-2-4 4-7 7-1 4 2 404 492 2 4zM506 1867l-27-3-27-6-27-10-8-6-112-240 1-8 9-8 4-12 1-13-4-12-4-5-6-3-8 3-7 8-8-1-3-3-127-273-1-4 5-7 7 0 3 3 203 325 16 78 19 42 14 16 14 13 18 12 28 14 54 87 0 8-2 3zM250 1613l-13 9-17 6-18 1-16-4-8-46 13-10 17-6 18-1 16 5 11 8 6 12-1 13zM265 1693l-13 10-17 6-17 1-16-4-10-46 14-10 16-6 18-1 16 4 12 9 6 11-1 13zM362 1807l-20-20-17-21-14-26-13-28-10-37-15-79 0-4 5-5 4 0 6 4 102 223-4 6-4 1zM432 1726l-14-15-8-15 2-6 6-7 8 1 2 2 22 38-1 4-8 3zM292 1762l-10 13-15 9-17 6-16-1-19-43 9-12 15-9 17-6 17 1 13 5 9 10 2 13zM337 1820l-7 15-12 14-15 9-16 5-30-36 6-15 12-13 15-10 16-4 15 1 11 8 5 12zM396 1862l-2 17-8 16-11 13-14 9-40-25 2-17 8-16 12-13 14-9 14-3 13 4 8 10zM464 1888l3 17-3 17-8 16-11 12-44-13-3-17 3-18 8-16 11-12 13-6 13 0 11 7z" fill="#e9ae2a" stroke="#c9a03a" stroke-width="5" fill-rule="evenodd"/><path d="M-5.5,78.7C-6.5,91.7 -5.5,101.7 -4.5,111.7C-3.5,131.7 -2.0,151.7 0.0,166.7C2.0,151.7 3.5,131.7 4.5,111.7C5.5,101.7 6.5,91.7 5.5,78.7C3.5,73.7 -3.5,73.7 -5.5,78.7Z" fill="#eab22a" stroke="#c9a03a" stroke-width="0.5"/><path d="M-3.1,79.7V116.7M3.1,79.7V116.7" stroke="#fbe9a0" stroke-width="1" stroke-dasharray="3.5 2"/></g>
</svg>
<div class="t" style="left:155.83px;top:131.64px;font-weight:bold;font-style:normal;font-size:43.74px;transform:scaleX(0.8764);">4Pcs</div>
<div class="t" style="left:165.45px;top:444.96px;font-weight:normal;font-style:normal;font-size:33.81px;transform:scaleX(1.0081);color:#1e1e1e;">4.7in</div>
<div class="t" style="left:536.22px;top:131.64px;font-weight:bold;font-style:normal;font-size:43.74px;transform:scaleX(0.8774);">4Pcs</div>
<div class="t" style="left:537.34px;top:443.96px;font-weight:normal;font-style:normal;font-size:35.11px;transform:scaleX(0.9764);color:#1e1e1e;">4.7in</div>
<div class="t" style="left:906.22px;top:131.64px;font-weight:bold;font-style:normal;font-size:43.74px;transform:scaleX(0.8774);">4Pcs</div>
<div class="t" style="left:921.15px;top:449.27px;font-weight:normal;font-style:normal;font-size:34.39px;transform:scaleX(0.9926);color:#1e1e1e;">4.7in</div>
<div class="t" style="left:1288.22px;top:131.64px;font-weight:bold;font-style:normal;font-size:43.74px;transform:scaleX(0.8774);">4Pcs</div>
<div class="t" style="left:1298.94px;top:449.27px;font-weight:normal;font-style:normal;font-size:34.39px;transform:scaleX(0.9996);color:#1e1e1e;">4.7in</div>
<div class="t" style="left:163.23px;top:687.53px;font-weight:bold;font-style:normal;font-size:43.17px;transform:scaleX(0.8870);">4Pcs</div>
<div class="t" style="left:164.05px;top:962.64px;font-weight:normal;font-style:normal;font-size:33.52px;transform:scaleX(1.0069);color:#1e1e1e;">3.9in</div>
<div class="t" style="left:543.52px;top:687.53px;font-weight:bold;font-style:normal;font-size:43.17px;transform:scaleX(0.8891);">4Pcs</div>
<div class="t" style="left:535.64px;top:962.64px;font-weight:normal;font-style:normal;font-size:33.52px;transform:scaleX(1.0156);color:#1e1e1e;">3.9in</div>
<div class="t" style="left:913.52px;top:687.53px;font-weight:bold;font-style:normal;font-size:43.17px;transform:scaleX(0.8891);">4Pcs</div>
<div class="t" style="left:920.15px;top:967.80px;font-weight:normal;font-style:normal;font-size:33.80px;transform:scaleX(0.9985);color:#1e1e1e;">3.9in</div>
<div class="t" style="left:1295.52px;top:687.53px;font-weight:bold;font-style:normal;font-size:43.17px;transform:scaleX(0.8891);">4Pcs</div>
<div class="t" style="left:1297.96px;top:967.64px;font-weight:normal;font-style:normal;font-size:34.23px;transform:scaleX(0.9820);color:#1e1e1e;">3.9in</div>
<div class="t" style="left:165.03px;top:1220.13px;font-weight:bold;font-style:normal;font-size:43.17px;transform:scaleX(0.8840);">4Pcs</div>
<div class="t" style="left:164.35px;top:1462.48px;font-weight:normal;font-style:normal;font-size:34.65px;transform:scaleX(0.9742);color:#1e1e1e;">3.1in</div>
<div class="t" style="left:545.43px;top:1220.13px;font-weight:bold;font-style:normal;font-size:43.17px;transform:scaleX(0.8840);">4Pcs</div>
<div class="t" style="left:535.95px;top:1462.48px;font-weight:normal;font-style:normal;font-size:34.65px;transform:scaleX(0.9714);color:#1e1e1e;">3.1in</div>
<div class="t" style="left:915.43px;top:1220.13px;font-weight:bold;font-style:normal;font-size:43.17px;transform:scaleX(0.8840);">4Pcs</div>
<div class="t" style="left:920.05px;top:1467.16px;font-weight:normal;font-style:normal;font-size:34.79px;transform:scaleX(0.9674);color:#1e1e1e;">3.1in</div>
<div class="t" style="left:1297.43px;top:1220.13px;font-weight:bold;font-style:normal;font-size:43.17px;transform:scaleX(0.8840);">4Pcs</div>
<div class="t" style="left:1298.16px;top:1467.76px;font-weight:normal;font-style:normal;font-size:34.08px;transform:scaleX(0.9860);color:#1e1e1e;">3.1in</div>

</body></html>
